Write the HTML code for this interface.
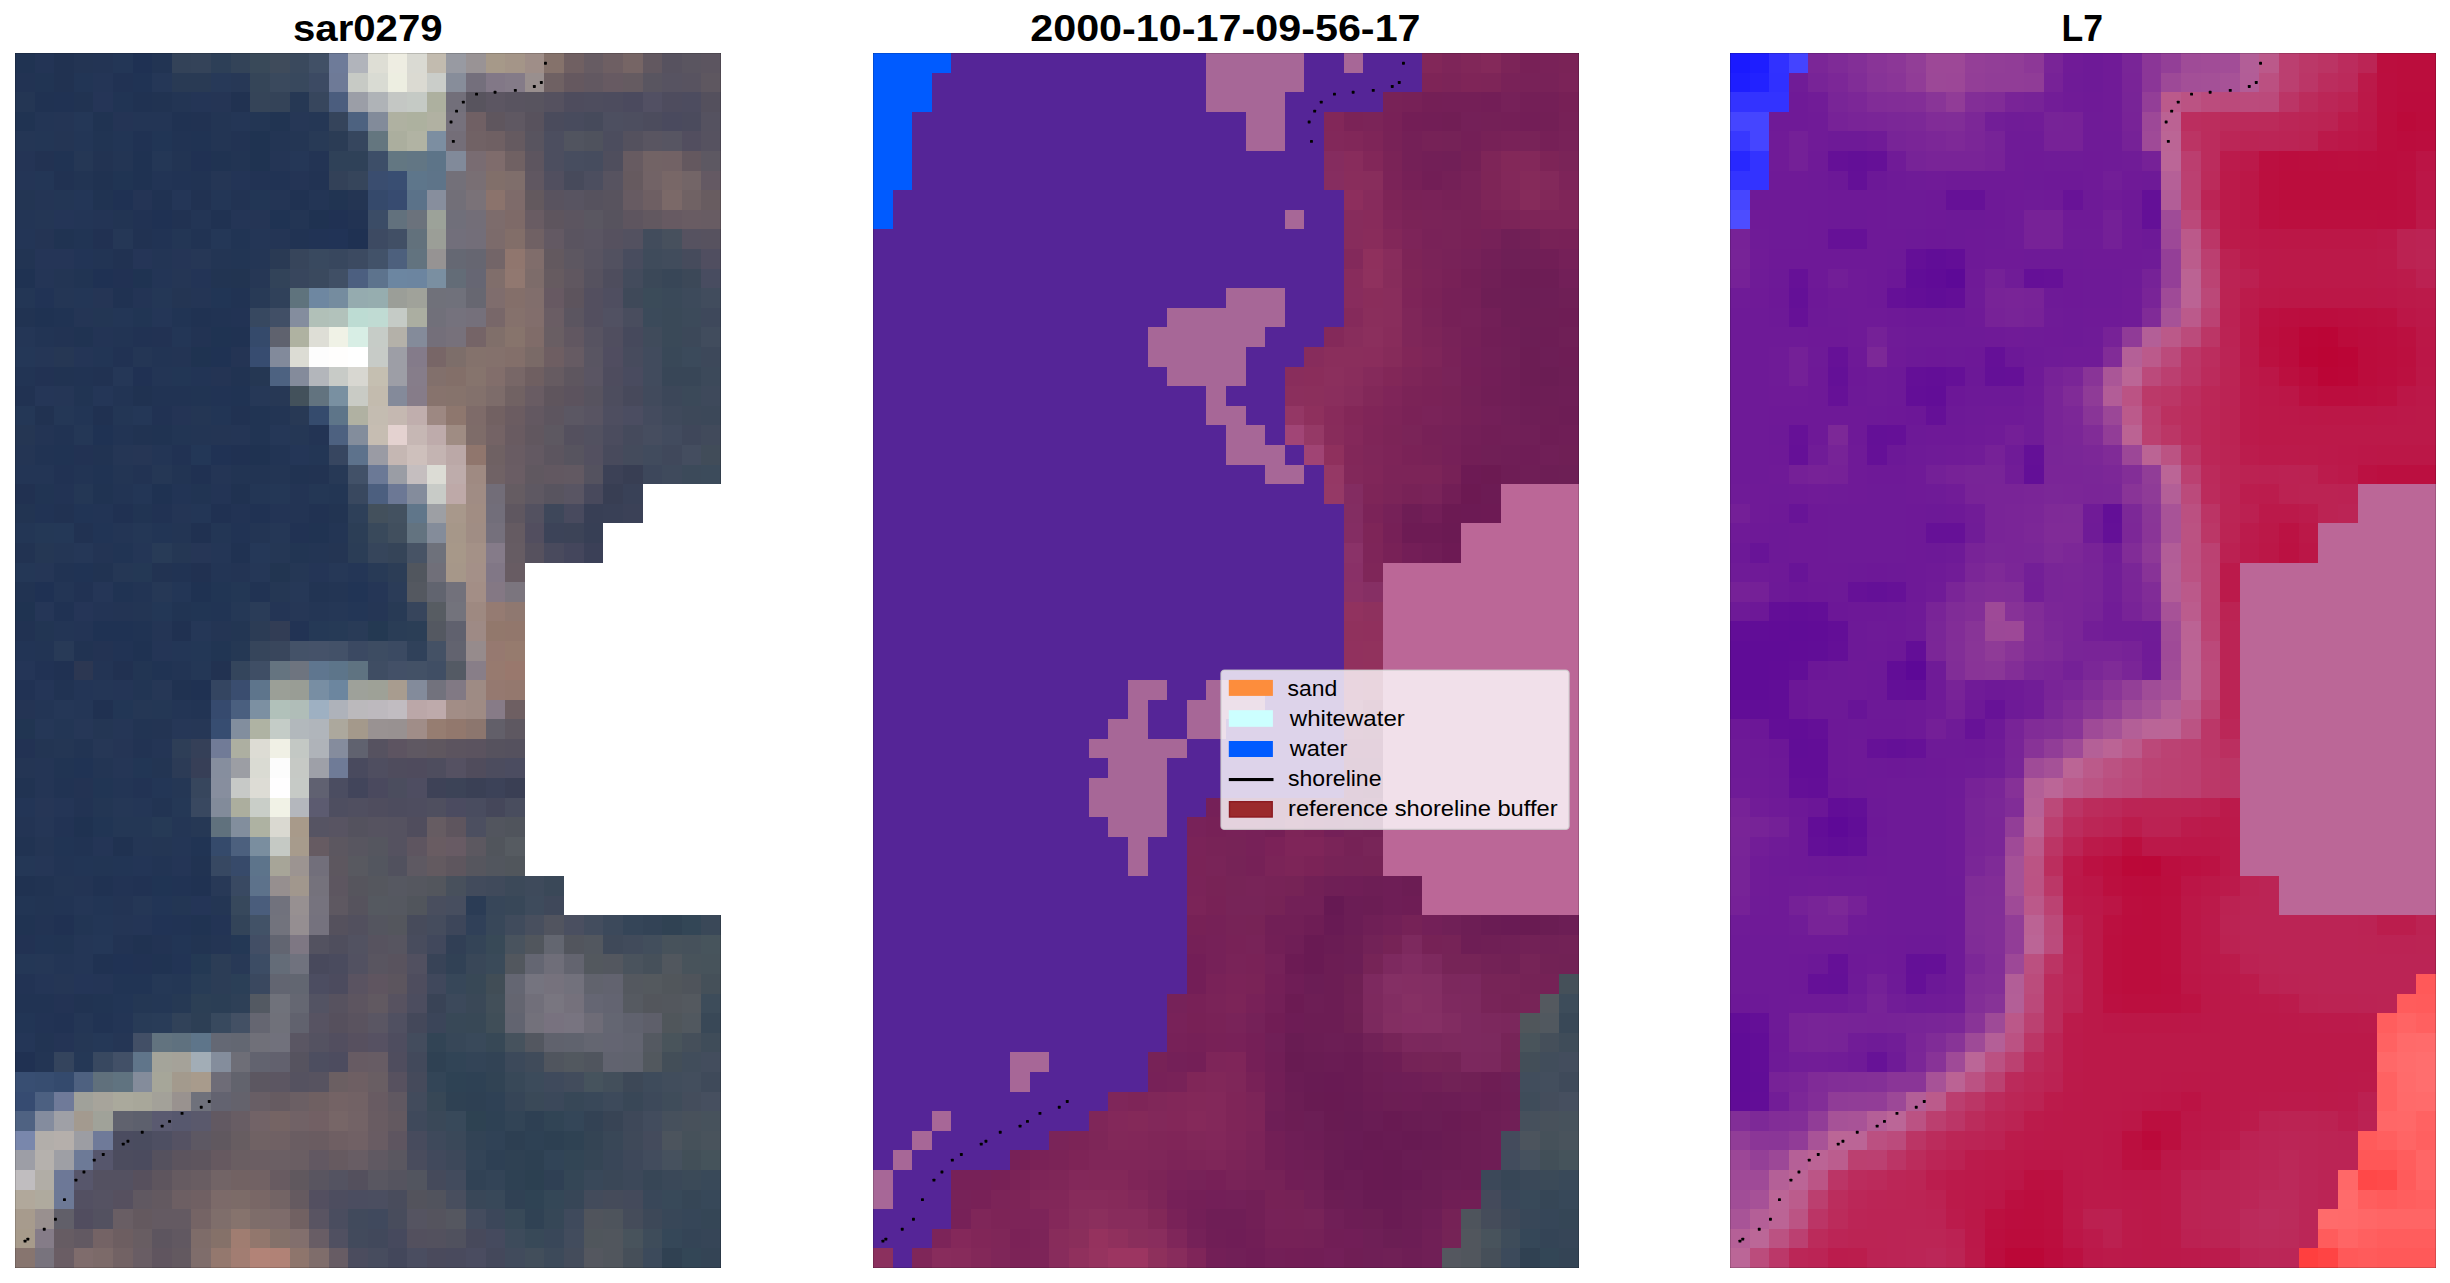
<!DOCTYPE html>
<html><head><meta charset="utf-8"><title>shoreline detection</title>
<style>html,body{margin:0;padding:0;background:#fff}svg{display:block}text{font-family:"Liberation Sans",sans-serif}</style></head>
<body>
<svg width="2450" height="1283" viewBox="0 0 2450 1283">
<rect width="2450" height="1283" fill="#fff"/>
<g transform="translate(15.0,53.0) scale(19.611,19.597)" shape-rendering="crispEdges">
<path fill="#203352" d="M0 0h1v1h-1zM0 3h1v1h-1zM4 3h1v1h-1zM10 5h1v1h-1zM4 7h1v1h-1zM2 9h1v1h-1zM3 14h1v1h-1zM7 19h1v1h-1zM4 22h1v1h-1zM15 24h1v1h-1zM0 44h1v1h-1zM9 44h1v1h-1zM7 46h1v1h-1z"/>
<path fill="#233455" d="M1 0h1v1h-1zM4 8h1v1h-1zM6 12h1v1h-1zM4 14h1v1h-1zM10 22h1v1h-1zM13 23h1v1h-1zM4 28h1v1h-1zM3 29h1v1h-1zM10 44h1v1h-1z"/>
<path fill="#213251" d="M2 0h1v1h-1zM2 1h1v1h-1zM11 2h1v1h-1zM1 18h1v1h-1z"/>
<path fill="#233453" d="M3 0h1v1h-1zM7 34h1v1h-1z"/>
<path fill="#233454" d="M4 0h1v1h-1zM15 5h1v1h-1zM8 15h1v1h-1zM1 19h1v1h-1zM15 19h1v1h-1zM14 22h1v1h-1zM14 23h1v1h-1zM4 25h1v1h-1zM11 26h1v1h-1zM5 28h1v1h-1zM4 31h1v1h-1zM0 39h1v1h-1zM3 42h1v1h-1zM5 43h1v1h-1z"/>
<path fill="#233656" d="M5 0h1v1h-1zM3 4h1v1h-1zM1 6h1v1h-1zM10 7h1v1h-1zM3 12h1v1h-1zM5 13h1v1h-1zM8 14h1v1h-1zM6 22h1v1h-1zM9 23h1v1h-1zM8 27h1v1h-1zM17 28h1v1h-1zM8 30h1v1h-1zM7 37h1v1h-1zM4 44h1v1h-1z"/>
<path fill="#1f3153" d="M6 0h1v1h-1zM5 7h1v1h-1zM7 8h1v1h-1zM4 11h1v1h-1zM1 27h1v1h-1z"/>
<path fill="#223453" d="M7 0h1v1h-1zM8 5h1v1h-1zM11 5h1v1h-1zM3 6h1v1h-1zM5 8h1v1h-1zM0 10h1v1h-1zM8 21h1v1h-1zM11 21h2v1h-2zM15 27h1v1h-1zM6 34h1v1h-1zM3 35h1v1h-1zM7 38h1v1h-1zM1 43h1v1h-1zM1 50h1v1h-1z"/>
<path fill="#334258" d="M8 0h1v1h-1z"/>
<path fill="#344359" d="M9 0h1v1h-1z"/>
<path fill="#2d3f57" d="M10 0h1v1h-1z"/>
<path fill="#334358" d="M11 0h1v1h-1z"/>
<path fill="#394959" d="M12 0h1v1h-1zM35 57h1v1h-1z"/>
<path fill="#3f4b5b" d="M13 0h1v1h-1zM32 10h1v1h-1z"/>
<path fill="#3a495d" d="M14 0h1v1h-1zM13 1h1v1h-1z"/>
<path fill="#415066" d="M15 0h1v1h-1z"/>
<path fill="#6e7b99" d="M16 0h1v1h-1z"/>
<path fill="#b1b4bb" d="M17 0h1v1h-1z"/>
<path fill="#deded5" d="M18 0h1v1h-1z"/>
<path fill="#eeede2" d="M19 0h1v1h-1z"/>
<path fill="#dadad3" d="M20 0h1v1h-1z"/>
<path fill="#c2bbaf" d="M21 0h1v1h-1z"/>
<path fill="#989aa2" d="M22 0h1v1h-1z"/>
<path fill="#999395" d="M23 0h1v1h-1z"/>
<path fill="#a69989" d="M24 0h1v1h-1z"/>
<path fill="#a49588" d="M25 0h1v1h-1z"/>
<path fill="#9f8e88" d="M26 0h1v1h-1z"/>
<path fill="#85726b" d="M27 0h1v1h-1z"/>
<path fill="#706062" d="M28 0h1v1h-1z"/>
<path fill="#675c63" d="M29 0h1v1h-1z"/>
<path fill="#6e5f63" d="M30 0h1v1h-1zM32 7h1v1h-1zM17 52h1v1h-1z"/>
<path fill="#766565" d="M31 0h1v1h-1z"/>
<path fill="#625860" d="M32 0h1v1h-1zM32 8h1v1h-1z"/>
<path fill="#57525f" d="M33 0h1v1h-1zM35 9h1v1h-1zM16 48h1v1h-1z"/>
<path fill="#5a5560" d="M34 0h1v1h-1z"/>
<path fill="#5c5560" d="M35 0h1v1h-1zM28 8h1v1h-1z"/>
<path fill="#223353" d="M0 1h1v1h-1zM11 4h1v1h-1zM15 6h1v1h-1zM11 7h1v1h-1zM17 8h1v1h-1zM2 14h1v1h-1zM9 14h1v1h-1zM6 21h1v1h-1zM6 35h1v1h-1zM3 38h1v1h-1zM1 44h1v1h-1zM5 45h1v1h-1zM7 45h1v1h-1z"/>
<path fill="#213453" d="M1 1h1v1h-1zM4 4h1v1h-1zM3 11h1v1h-1zM3 17h1v1h-1zM9 17h1v1h-1zM12 18h1v1h-1zM12 19h1v1h-1zM1 22h1v1h-1zM9 22h1v1h-1zM6 23h1v1h-1zM8 28h1v1h-1zM2 36h1v1h-1zM2 45h1v1h-1zM4 48h1v1h-1z"/>
<path fill="#223555" d="M3 1h1v1h-1zM5 4h1v1h-1zM4 15h1v1h-1zM3 18h1v1h-1zM10 18h1v1h-1zM7 24h1v1h-1zM3 41h1v1h-1zM5 41h1v1h-1zM4 43h1v1h-1zM8 45h1v1h-1zM5 48h1v1h-1zM0 49h1v1h-1z"/>
<path fill="#243556" d="M4 1h1v1h-1zM9 2h1v1h-1zM0 6h1v1h-1zM11 8h1v1h-1zM1 11h1v1h-1zM3 15h1v1h-1zM15 26h1v1h-1zM7 30h1v1h-1zM5 32h1v1h-1zM2 38h1v1h-1zM4 40h1v1h-1zM8 41h1v1h-1zM6 44h1v1h-1zM1 47h1v1h-1zM4 47h1v1h-1z"/>
<path fill="#213253" d="M5 1h1v1h-1zM6 8h1v1h-1zM6 14h1v1h-1zM5 15h1v1h-1zM7 18h1v1h-1zM8 20h1v1h-1zM2 21h1v1h-1zM7 23h1v1h-1zM14 24h1v1h-1zM3 27h1v1h-1zM6 42h1v1h-1zM6 46h1v1h-1zM2 49h1v1h-1z"/>
<path fill="#203354" d="M6 1h1v1h-1zM3 26h1v1h-1zM3 36h1v1h-1z"/>
<path fill="#253757" d="M7 1h1v1h-1zM14 5h1v1h-1zM5 16h1v1h-1zM13 19h1v1h-1zM3 25h1v1h-1zM12 26h1v1h-1zM9 29h1v1h-1zM2 33h1v1h-1zM1 34h1v1h-1z"/>
<path fill="#293a54" d="M8 1h2v1h-2z"/>
<path fill="#273958" d="M10 1h1v1h-1z"/>
<path fill="#273856" d="M11 1h1v1h-1z"/>
<path fill="#354558" d="M12 1h1v1h-1zM31 44h1v1h-1z"/>
<path fill="#38485d" d="M14 1h1v1h-1z"/>
<path fill="#3c4a63" d="M15 1h1v1h-1z"/>
<path fill="#6e7a97" d="M16 1h1v1h-1z"/>
<path fill="#c7cac5" d="M17 1h1v1h-1z"/>
<path fill="#d9dbd3" d="M18 1h1v1h-1z"/>
<path fill="#edeee1" d="M19 1h1v1h-1z"/>
<path fill="#dbdad2" d="M20 1h1v1h-1z"/>
<path fill="#cacdc9" d="M21 1h1v1h-1z"/>
<path fill="#878d9a" d="M22 1h1v1h-1z"/>
<path fill="#746f7c" d="M23 1h1v1h-1z"/>
<path fill="#827887" d="M24 1h1v1h-1z"/>
<path fill="#847b88" d="M25 1h1v1h-1z"/>
<path fill="#998f8e" d="M26 1h1v1h-1z"/>
<path fill="#6f6163" d="M27 1h1v1h-1zM24 20h1v1h-1z"/>
<path fill="#65585f" d="M28 1h1v1h-1z"/>
<path fill="#625861" d="M29 1h1v1h-1zM27 21h1v1h-1z"/>
<path fill="#675a62" d="M30 1h1v1h-1zM33 8h1v1h-1z"/>
<path fill="#655b61" d="M31 1h1v1h-1z"/>
<path fill="#595560" d="M32 1h1v1h-1zM18 46h1v1h-1zM15 57h1v1h-1z"/>
<path fill="#575361" d="M33 1h1v1h-1zM29 14h1v1h-1z"/>
<path fill="#585360" d="M34 1h1v1h-1z"/>
<path fill="#5e5760" d="M35 1h1v1h-1z"/>
<path fill="#243654" d="M0 2h1v1h-1zM14 4h1v1h-1zM9 18h1v1h-1zM4 34h1v1h-1zM2 35h1v1h-1zM7 40h1v1h-1zM10 43h1v1h-1z"/>
<path fill="#203252" d="M1 2h1v1h-1zM6 2h1v1h-1zM8 3h1v1h-1zM7 7h1v1h-1zM14 7h1v1h-1zM10 8h1v1h-1zM5 12h1v1h-1zM9 13h1v1h-1zM11 14h1v1h-1zM11 25h1v1h-1zM4 42h1v1h-1zM9 42h1v1h-1zM4 46h1v1h-1z"/>
<path fill="#203253" d="M2 2h1v1h-1zM6 4h1v1h-1zM12 23h1v1h-1zM2 28h1v1h-1z"/>
<path fill="#213352" d="M3 2h1v1h-1zM7 2h1v1h-1zM0 13h1v1h-1zM2 16h1v1h-1zM11 16h1v1h-1zM6 19h1v1h-1zM4 20h1v1h-1zM14 21h1v1h-1zM4 26h1v1h-1zM0 27h1v1h-1zM3 30h1v1h-1zM0 37h1v1h-1zM0 40h1v1h-1zM9 41h1v1h-1zM1 42h1v1h-1zM3 48h1v1h-1z"/>
<path fill="#253557" d="M4 2h1v1h-1zM1 10h2v1h-2zM6 10h1v1h-1zM3 28h1v1h-1z"/>
<path fill="#213454" d="M5 2h1v1h-1zM3 9h1v1h-1zM11 9h1v1h-1zM8 13h1v1h-1zM5 25h1v1h-1zM10 28h1v1h-1zM2 40h1v1h-1zM9 40h1v1h-1zM1 45h1v1h-1zM5 47h2v1h-2z"/>
<path fill="#233554" d="M8 2h1v1h-1zM10 3h1v1h-1zM10 4h1v1h-1zM13 4h1v1h-1zM5 5h1v1h-1zM14 8h1v1h-1zM10 10h1v1h-1zM2 11h1v1h-1zM13 18h1v1h-1zM9 19h1v1h-1zM5 21h1v1h-1zM13 21h1v1h-1zM8 24h1v1h-1zM12 24h1v1h-1zM16 24h1v1h-1zM15 25h1v1h-1zM16 27h1v1h-1zM6 28h1v1h-1zM4 36h1v1h-1zM2 42h1v1h-1zM1 51h1v1h-1z"/>
<path fill="#253555" d="M10 2h1v1h-1zM12 8h1v1h-1zM4 12h1v1h-1zM5 35h1v1h-1z"/>
<path fill="#354458" d="M12 2h1v1h-1zM19 25h1v1h-1z"/>
<path fill="#344358" d="M13 2h1v1h-1z"/>
<path fill="#263854" d="M14 2h1v1h-1z"/>
<path fill="#37465d" d="M15 2h1v1h-1zM9 37h1v1h-1z"/>
<path fill="#4b5d7e" d="M16 2h1v1h-1z"/>
<path fill="#9b9ea7" d="M17 2h1v1h-1z"/>
<path fill="#afb3b7" d="M18 2h1v1h-1z"/>
<path fill="#c4c7c4" d="M19 2h1v1h-1z"/>
<path fill="#c5cac5" d="M20 2h1v1h-1z"/>
<path fill="#adb09f" d="M21 2h1v1h-1z"/>
<path fill="#726f7a" d="M22 2h1v1h-1z"/>
<path fill="#58545e" d="M23 2h1v1h-1z"/>
<path fill="#5c5662" d="M24 2h1v1h-1zM13 52h1v1h-1z"/>
<path fill="#595460" d="M25 2h1v1h-1z"/>
<path fill="#58545f" d="M26 2h1v1h-1zM26 4h1v1h-1zM27 22h1v1h-1z"/>
<path fill="#55515f" d="M27 2h1v1h-1z"/>
<path fill="#4e4c5d" d="M28 2h1v1h-1z"/>
<path fill="#4e4d5e" d="M29 2h1v1h-1zM21 36h1v1h-1zM20 47h1v1h-1z"/>
<path fill="#4d4c5e" d="M30 2h1v1h-1zM19 38h1v1h-1z"/>
<path fill="#4b4a5e" d="M31 2h1v1h-1z"/>
<path fill="#525063" d="M32 2h1v1h-1z"/>
<path fill="#4e4c5e" d="M33 2h1v1h-1zM30 16h1v1h-1z"/>
<path fill="#4d4c5f" d="M34 2h1v1h-1zM16 51h1v1h-1z"/>
<path fill="#54505d" d="M35 2h1v1h-1zM17 57h1v1h-1z"/>
<path fill="#233555" d="M1 3h1v1h-1zM6 3h2v1h-2zM15 7h1v1h-1zM0 8h1v1h-1zM9 8h1v1h-1zM7 10h1v1h-1zM7 16h1v1h-1zM7 20h1v1h-1zM0 21h2v1h-2zM5 24h1v1h-1zM10 26h1v1h-1zM2 27h1v1h-1zM2 29h1v1h-1zM1 33h1v1h-1zM8 33h1v1h-1zM5 37h1v1h-1zM2 46h1v1h-1zM5 49h1v1h-1z"/>
<path fill="#243555" d="M2 3h1v1h-1zM13 5h1v1h-1zM1 7h1v1h-1zM13 7h1v1h-1zM13 9h1v1h-1zM9 12h1v1h-1zM3 13h1v1h-1zM11 19h1v1h-1zM10 21h1v1h-1zM8 23h1v1h-1zM13 28h1v1h-1zM7 29h1v1h-1zM7 35h1v1h-1zM1 36h1v1h-1zM1 37h1v1h-1zM5 44h1v1h-1z"/>
<path fill="#243757" d="M3 3h1v1h-1zM10 9h1v1h-1zM0 15h1v1h-1zM6 18h1v1h-1zM4 45h1v1h-1z"/>
<path fill="#243455" d="M5 3h1v1h-1zM0 5h1v1h-1zM14 6h1v1h-1zM6 7h1v1h-1zM8 18h1v1h-1zM2 50h1v1h-1z"/>
<path fill="#213252" d="M9 3h1v1h-1zM2 6h1v1h-1zM9 7h1v1h-1zM8 8h1v1h-1zM6 9h1v1h-1zM5 10h1v1h-1zM4 16h1v1h-1zM0 17h1v1h-1zM11 18h1v1h-1zM2 23h1v1h-1zM15 23h1v1h-1zM3 24h1v1h-1zM0 29h1v1h-1z"/>
<path fill="#243656" d="M11 3h1v1h-1zM12 9h1v1h-1zM0 14h1v1h-1zM6 25h1v1h-1zM10 25h1v1h-1zM17 26h1v1h-1zM4 32h1v1h-1zM3 33h1v1h-1zM6 38h1v1h-1zM8 40h1v1h-1zM3 43h1v1h-1zM3 45h1v1h-1zM3 46h1v1h-1z"/>
<path fill="#233654" d="M12 3h1v1h-1zM4 13h1v1h-1zM16 22h1v1h-1zM4 38h1v1h-1zM8 43h1v1h-1z"/>
<path fill="#213452" d="M13 3h1v1h-1zM16 7h1v1h-1z"/>
<path fill="#263756" d="M14 3h1v1h-1zM9 10h1v1h-1zM14 28h1v1h-1zM7 32h1v1h-1zM9 34h1v1h-1zM4 35h1v1h-1z"/>
<path fill="#253755" d="M15 3h1v1h-1zM3 5h1v1h-1zM14 19h1v1h-1zM7 21h1v1h-1zM13 25h1v1h-1zM5 26h1v1h-1zM14 26h1v1h-1zM6 33h1v1h-1zM8 37h1v1h-1zM3 50h1v1h-1z"/>
<path fill="#35445b" d="M16 3h1v1h-1z"/>
<path fill="#4d6280" d="M17 3h1v1h-1z"/>
<path fill="#828b9a" d="M18 3h1v1h-1zM10 38h1v1h-1z"/>
<path fill="#afb1a1" d="M19 3h1v1h-1z"/>
<path fill="#adb19f" d="M20 3h1v1h-1z"/>
<path fill="#b1b1a2" d="M21 3h1v1h-1z"/>
<path fill="#76717c" d="M22 3h1v1h-1z"/>
<path fill="#706064" d="M23 3h1v1h-1z"/>
<path fill="#5f565e" d="M24 3h1v1h-1z"/>
<path fill="#5f5862" d="M25 3h1v1h-1zM20 35h1v1h-1z"/>
<path fill="#58525d" d="M26 3h1v1h-1z"/>
<path fill="#4a4b5c" d="M27 3h1v1h-1z"/>
<path fill="#484b5d" d="M28 3h1v1h-1z"/>
<path fill="#464a5b" d="M29 3h1v1h-1z"/>
<path fill="#4d4f60" d="M30 3h1v1h-1z"/>
<path fill="#4d4e5f" d="M31 3h1v1h-1z"/>
<path fill="#4c4c5d" d="M32 3h1v1h-1z"/>
<path fill="#4a4a5e" d="M33 3h1v1h-1z"/>
<path fill="#4b4b5d" d="M34 3h1v1h-1z"/>
<path fill="#555260" d="M35 3h1v1h-1zM19 39h1v1h-1zM19 40h1v1h-1zM14 52h1v1h-1z"/>
<path fill="#243655" d="M0 4h1v1h-1zM1 8h1v1h-1zM12 10h1v1h-1zM2 12h1v1h-1zM6 15h1v1h-1zM2 25h1v1h-1zM15 28h1v1h-1zM8 39h1v1h-1zM6 40h1v1h-1zM3 49h1v1h-1z"/>
<path fill="#233655" d="M1 4h1v1h-1zM2 7h1v1h-1zM8 9h1v1h-1zM0 12h1v1h-1zM5 18h1v1h-1zM15 20h1v1h-1zM12 22h1v1h-1zM0 24h1v1h-1zM10 24h1v1h-1zM2 34h1v1h-1z"/>
<path fill="#243554" d="M2 4h1v1h-1zM10 19h1v1h-1zM0 20h1v1h-1zM10 29h1v1h-1zM0 36h1v1h-1zM1 40h1v1h-1zM10 45h1v1h-1z"/>
<path fill="#213555" d="M7 4h1v1h-1zM10 12h1v1h-1z"/>
<path fill="#213353" d="M8 4h1v1h-1zM9 6h1v1h-1zM9 9h1v1h-1zM14 9h1v1h-1zM11 12h1v1h-1zM10 13h1v1h-1zM3 16h1v1h-1zM7 17h2v1h-2zM2 19h1v1h-1zM1 20h1v1h-1zM2 26h1v1h-1zM8 26h1v1h-1zM12 27h1v1h-1zM2 32h1v1h-1zM2 37h1v1h-1zM3 40h1v1h-1zM0 48h2v1h-2zM4 49h1v1h-1z"/>
<path fill="#203353" d="M9 4h1v1h-1zM2 5h1v1h-1zM2 13h1v1h-1zM11 17h1v1h-1zM2 20h1v1h-1zM4 21h1v1h-1zM5 27h1v1h-1zM6 29h1v1h-1zM7 31h1v1h-1z"/>
<path fill="#1f3351" d="M12 4h1v1h-1zM12 5h1v1h-1zM9 15h1v1h-1zM0 28h1v1h-1z"/>
<path fill="#283a56" d="M15 4h1v1h-1zM12 12h1v1h-1zM18 26h1v1h-1z"/>
<path fill="#2b3c55" d="M16 4h1v1h-1zM23 43h1v1h-1z"/>
<path fill="#36465e" d="M17 4h1v1h-1z"/>
<path fill="#64767f" d="M18 4h1v1h-1z"/>
<path fill="#abae9e" d="M19 4h1v1h-1z"/>
<path fill="#b1b3a3" d="M20 4h1v1h-1z"/>
<path fill="#7c8ea1" d="M21 4h1v1h-1z"/>
<path fill="#746e78" d="M22 4h1v1h-1z"/>
<path fill="#716265" d="M23 4h1v1h-1z"/>
<path fill="#6f6063" d="M24 4h1v1h-1z"/>
<path fill="#655a60" d="M25 4h1v1h-1zM14 58h1v1h-1z"/>
<path fill="#4c4e5f" d="M27 4h1v1h-1zM27 5h1v1h-1zM29 6h1v1h-1z"/>
<path fill="#51545f" d="M28 4h1v1h-1zM27 44h1v1h-1z"/>
<path fill="#4f525d" d="M29 4h1v1h-1z"/>
<path fill="#4c4d5e" d="M30 4h1v1h-1z"/>
<path fill="#54515e" d="M31 4h1v1h-1z"/>
<path fill="#595561" d="M32 4h1v1h-1z"/>
<path fill="#575562" d="M33 4h1v1h-1z"/>
<path fill="#524e5f" d="M34 4h1v1h-1zM26 24h1v1h-1zM16 50h1v1h-1z"/>
<path fill="#565260" d="M35 4h1v1h-1zM34 9h1v1h-1zM18 35h1v1h-1z"/>
<path fill="#223252" d="M1 5h1v1h-1z"/>
<path fill="#223352" d="M4 5h1v1h-1zM15 21h1v1h-1zM0 25h1v1h-1zM7 26h1v1h-1z"/>
<path fill="#1f3252" d="M6 5h1v1h-1zM6 6h1v1h-1zM0 11h1v1h-1zM1 13h1v1h-1zM7 22h1v1h-1zM9 27h1v1h-1zM6 30h1v1h-1z"/>
<path fill="#243756" d="M7 5h1v1h-1zM7 12h1v1h-1zM0 18h1v1h-1zM2 18h1v1h-1zM3 19h1v1h-1zM13 22h1v1h-1zM6 24h1v1h-1zM0 26h1v1h-1zM9 31h1v1h-1zM0 41h1v1h-1zM0 46h1v1h-1z"/>
<path fill="#203153" d="M9 5h1v1h-1zM16 8h1v1h-1zM6 16h1v1h-1z"/>
<path fill="#2f4158" d="M16 5h2v1h-2z"/>
<path fill="#3d4e68" d="M18 5h1v1h-1z"/>
<path fill="#637782" d="M19 5h1v1h-1z"/>
<path fill="#627684" d="M20 5h1v1h-1z"/>
<path fill="#5d7488" d="M21 5h1v1h-1z"/>
<path fill="#818a9a" d="M22 5h1v1h-1z"/>
<path fill="#796c72" d="M23 5h1v1h-1z"/>
<path fill="#7f6c6c" d="M24 5h1v1h-1zM3 61h1v1h-1z"/>
<path fill="#706163" d="M25 5h1v1h-1z"/>
<path fill="#5d555f" d="M26 5h1v1h-1zM27 18h1v1h-1zM7 60h1v1h-1z"/>
<path fill="#474d5f" d="M28 5h1v1h-1z"/>
<path fill="#464c5e" d="M29 5h1v1h-1z"/>
<path fill="#4f4e5d" d="M30 5h1v1h-1zM16 45h1v1h-1z"/>
<path fill="#675b61" d="M31 5h1v1h-1z"/>
<path fill="#726365" d="M32 5h1v1h-1z"/>
<path fill="#726265" d="M33 5h1v1h-1zM17 53h1v1h-1z"/>
<path fill="#64585f" d="M34 5h1v1h-1z"/>
<path fill="#5d5862" d="M35 5h1v1h-1z"/>
<path fill="#203251" d="M4 6h1v1h-1zM6 17h1v1h-1zM11 22h1v1h-1zM8 32h1v1h-1zM5 40h1v1h-1zM0 42h1v1h-1zM6 45h1v1h-1z"/>
<path fill="#203453" d="M5 6h1v1h-1z"/>
<path fill="#223455" d="M7 6h1v1h-1zM9 16h1v1h-1zM8 22h1v1h-1zM4 23h1v1h-1zM0 30h1v1h-1zM8 46h1v1h-1z"/>
<path fill="#213354" d="M8 6h1v1h-1zM13 6h1v1h-1zM7 9h1v1h-1zM10 17h1v1h-1zM1 23h1v1h-1zM11 24h1v1h-1zM5 30h1v1h-1zM8 42h1v1h-1zM8 44h1v1h-1z"/>
<path fill="#253655" d="M10 6h1v1h-1zM8 11h1v1h-1zM5 20h1v1h-1zM18 28h1v1h-1zM2 47h1v1h-1zM5 50h1v1h-1z"/>
<path fill="#233456" d="M11 6h1v1h-1zM9 11h1v1h-1z"/>
<path fill="#223354" d="M12 6h1v1h-1zM11 13h1v1h-1zM2 22h1v1h-1zM11 23h1v1h-1zM14 29h1v1h-1zM6 37h1v1h-1zM2 39h1v1h-1zM5 42h1v1h-1zM0 47h1v1h-1zM1 49h1v1h-1z"/>
<path fill="#334158" d="M16 6h1v1h-1z"/>
<path fill="#36455b" d="M17 6h1v1h-1zM18 25h1v1h-1zM12 30h1v1h-1z"/>
<path fill="#3a4d6f" d="M18 6h1v1h-1zM11 32h1v1h-1z"/>
<path fill="#394e72" d="M19 6h1v1h-1z"/>
<path fill="#5e768b" d="M20 6h1v1h-1z"/>
<path fill="#5e7489" d="M21 6h1v1h-1z"/>
<path fill="#737079" d="M22 6h1v1h-1z"/>
<path fill="#796f74" d="M23 6h1v1h-1z"/>
<path fill="#816f6a" d="M24 6h1v1h-1z"/>
<path fill="#7f6e6b" d="M25 6h1v1h-1zM10 59h1v1h-1z"/>
<path fill="#605761" d="M26 6h1v1h-1z"/>
<path fill="#514f5f" d="M27 6h1v1h-1z"/>
<path fill="#474a5b" d="M28 6h1v1h-1z"/>
<path fill="#575360" d="M30 6h1v1h-1zM15 52h1v1h-1z"/>
<path fill="#665a5f" d="M31 6h1v1h-1z"/>
<path fill="#726366" d="M32 6h1v1h-1z"/>
<path fill="#786767" d="M33 6h1v1h-1zM25 16h1v1h-1z"/>
<path fill="#736567" d="M34 6h1v1h-1z"/>
<path fill="#645963" d="M35 6h1v1h-1z"/>
<path fill="#233553" d="M0 7h1v1h-1zM1 35h1v1h-1zM7 36h1v1h-1z"/>
<path fill="#233657" d="M3 7h1v1h-1z"/>
<path fill="#243657" d="M8 7h1v1h-1zM7 13h1v1h-1zM4 17h1v1h-1zM14 20h1v1h-1zM0 50h1v1h-1z"/>
<path fill="#223655" d="M12 7h1v1h-1zM8 16h1v1h-1zM5 33h1v1h-1zM6 36h1v1h-1z"/>
<path fill="#243553" d="M17 7h1v1h-1zM8 12h1v1h-1zM16 25h1v1h-1z"/>
<path fill="#35496b" d="M18 7h1v1h-1z"/>
<path fill="#374b70" d="M19 7h1v1h-1z"/>
<path fill="#5b7289" d="M20 7h1v1h-1z"/>
<path fill="#878e9d" d="M21 7h1v1h-1z"/>
<path fill="#726f78" d="M22 7h1v1h-1z"/>
<path fill="#7a7278" d="M23 7h1v1h-1z"/>
<path fill="#8b736c" d="M24 7h1v1h-1z"/>
<path fill="#7e6b6a" d="M25 7h1v1h-1z"/>
<path fill="#63595e" d="M26 7h1v1h-1z"/>
<path fill="#59535f" d="M27 7h1v1h-1z"/>
<path fill="#585461" d="M28 7h1v1h-1zM29 10h1v1h-1z"/>
<path fill="#56525e" d="M29 7h1v1h-1zM24 35h1v1h-1z"/>
<path fill="#58535e" d="M30 7h1v1h-1z"/>
<path fill="#675b62" d="M31 7h1v1h-1z"/>
<path fill="#7b6968" d="M33 7h1v1h-1z"/>
<path fill="#706264" d="M34 7h1v1h-1zM12 55h1v1h-1z"/>
<path fill="#685c60" d="M35 7h1v1h-1z"/>
<path fill="#243557" d="M2 8h1v1h-1zM0 31h1v1h-1zM1 32h1v1h-1zM9 43h1v1h-1zM3 47h1v1h-1z"/>
<path fill="#233556" d="M3 8h1v1h-1zM0 9h1v1h-1zM7 11h1v1h-1zM3 32h1v1h-1zM0 38h1v1h-1zM6 41h1v1h-1z"/>
<path fill="#1f3353" d="M13 8h1v1h-1z"/>
<path fill="#1f3251" d="M15 8h1v1h-1zM12 20h1v1h-1zM3 39h1v1h-1z"/>
<path fill="#3b4c66" d="M18 8h1v1h-1z"/>
<path fill="#62717d" d="M19 8h1v1h-1z"/>
<path fill="#6b727c" d="M20 8h1v1h-1z"/>
<path fill="#9ca299" d="M21 8h1v1h-1z"/>
<path fill="#706f7a" d="M22 8h1v1h-1z"/>
<path fill="#736e78" d="M23 8h1v1h-1z"/>
<path fill="#7d6c6c" d="M24 8h1v1h-1z"/>
<path fill="#7e6a68" d="M25 8h1v1h-1z"/>
<path fill="#695c63" d="M26 8h1v1h-1zM34 8h1v1h-1zM26 17h1v1h-1zM25 20h1v1h-1zM18 55h1v1h-1z"/>
<path fill="#5e555e" d="M27 8h1v1h-1zM22 39h1v1h-1zM9 56h1v1h-1zM7 57h1v1h-1z"/>
<path fill="#5a5761" d="M29 8h1v1h-1z"/>
<path fill="#57535e" d="M30 8h1v1h-1z"/>
<path fill="#5e555f" d="M31 8h1v1h-1z"/>
<path fill="#685c63" d="M35 8h1v1h-1zM25 26h1v1h-1z"/>
<path fill="#243454" d="M1 9h1v1h-1zM11 15h1v1h-1zM10 16h1v1h-1zM0 33h1v1h-1z"/>
<path fill="#213152" d="M4 9h1v1h-1z"/>
<path fill="#253756" d="M5 9h1v1h-1zM13 24h1v1h-1zM16 28h1v1h-1zM5 38h1v1h-1zM6 43h1v1h-1zM1 46h1v1h-1z"/>
<path fill="#213355" d="M15 9h1v1h-1zM1 12h1v1h-1zM7 44h1v1h-1z"/>
<path fill="#213356" d="M16 9h1v1h-1z"/>
<path fill="#1f3152" d="M17 9h1v1h-1zM9 32h1v1h-1z"/>
<path fill="#3d4a62" d="M18 9h1v1h-1z"/>
<path fill="#414f65" d="M19 9h1v1h-1z"/>
<path fill="#62717c" d="M20 9h1v1h-1z"/>
<path fill="#9b9e97" d="M21 9h1v1h-1z"/>
<path fill="#726f7b" d="M22 9h1v1h-1zM15 41h1v1h-1z"/>
<path fill="#736e79" d="M23 9h1v1h-1z"/>
<path fill="#7c6b6b" d="M24 9h1v1h-1z"/>
<path fill="#826e69" d="M25 9h1v1h-1z"/>
<path fill="#706164" d="M26 9h1v1h-1zM13 55h1v1h-1z"/>
<path fill="#635963" d="M27 9h1v1h-1z"/>
<path fill="#5a5460" d="M28 9h1v1h-1z"/>
<path fill="#5a5562" d="M29 9h1v1h-1z"/>
<path fill="#56515f" d="M30 9h1v1h-1z"/>
<path fill="#535160" d="M31 9h1v1h-1zM26 23h1v1h-1zM4 59h1v1h-1z"/>
<path fill="#424c5c" d="M32 9h1v1h-1zM28 52h1v1h-1z"/>
<path fill="#47505d" d="M33 9h1v1h-1z"/>
<path fill="#223456" d="M3 10h1v1h-1z"/>
<path fill="#223454" d="M4 10h1v1h-1zM1 14h1v1h-1zM5 14h1v1h-1zM7 15h1v1h-1zM0 16h1v1h-1zM5 17h1v1h-1zM5 19h1v1h-1zM13 20h1v1h-1zM3 21h1v1h-1zM5 22h1v1h-1zM6 27h1v1h-1zM1 30h1v1h-1zM8 31h1v1h-1zM9 33h1v1h-1zM2 41h1v1h-1zM7 41h1v1h-1zM2 43h1v1h-1z"/>
<path fill="#253556" d="M8 10h1v1h-1z"/>
<path fill="#223554" d="M11 10h1v1h-1zM8 19h1v1h-1zM6 32h1v1h-1zM4 41h1v1h-1zM0 43h1v1h-1zM3 44h1v1h-1z"/>
<path fill="#2a3a54" d="M13 10h1v1h-1z"/>
<path fill="#37455b" d="M14 10h1v1h-1z"/>
<path fill="#39495f" d="M15 10h1v1h-1z"/>
<path fill="#38475e" d="M16 10h1v1h-1z"/>
<path fill="#3c4a61" d="M17 10h1v1h-1z"/>
<path fill="#425269" d="M18 10h1v1h-1z"/>
<path fill="#4d607d" d="M19 10h1v1h-1z"/>
<path fill="#62737f" d="M20 10h1v1h-1zM15 17h1v1h-1zM7 50h1v1h-1z"/>
<path fill="#969393" d="M21 10h1v1h-1z"/>
<path fill="#656873" d="M22 10h1v1h-1z"/>
<path fill="#666671" d="M23 10h1v1h-1z"/>
<path fill="#736568" d="M24 10h1v1h-1z"/>
<path fill="#90766e" d="M25 10h1v1h-1z"/>
<path fill="#806d6b" d="M26 10h1v1h-1z"/>
<path fill="#63595f" d="M27 10h1v1h-1z"/>
<path fill="#5d5761" d="M28 10h1v1h-1z"/>
<path fill="#525160" d="M30 10h1v1h-1zM29 19h1v1h-1z"/>
<path fill="#484c5e" d="M31 10h1v1h-1z"/>
<path fill="#414c5c" d="M33 10h1v1h-1z"/>
<path fill="#464b5c" d="M34 10h1v1h-1z"/>
<path fill="#504e60" d="M35 10h1v1h-1z"/>
<path fill="#213153" d="M5 11h1v1h-1z"/>
<path fill="#1f3352" d="M6 11h1v1h-1zM10 14h1v1h-1z"/>
<path fill="#223452" d="M10 11h1v1h-1zM0 23h1v1h-1zM16 23h1v1h-1zM9 45h1v1h-1z"/>
<path fill="#223451" d="M11 11h1v1h-1z"/>
<path fill="#263755" d="M12 11h1v1h-1z"/>
<path fill="#324359" d="M13 11h1v1h-1z"/>
<path fill="#38465d" d="M14 11h1v1h-1z"/>
<path fill="#3a495e" d="M15 11h1v1h-1z"/>
<path fill="#404f65" d="M16 11h1v1h-1z"/>
<path fill="#4c5f80" d="M17 11h1v1h-1z"/>
<path fill="#5d738d" d="M18 11h1v1h-1z"/>
<path fill="#6c86a1" d="M19 11h1v1h-1z"/>
<path fill="#6c85a0" d="M20 11h1v1h-1z"/>
<path fill="#7a8fa1" d="M21 11h1v1h-1z"/>
<path fill="#636c77" d="M22 11h1v1h-1z"/>
<path fill="#666673" d="M23 11h1v1h-1z"/>
<path fill="#806e6b" d="M24 11h1v1h-1z"/>
<path fill="#917870" d="M25 11h1v1h-1z"/>
<path fill="#7d6c6a" d="M26 11h1v1h-1zM24 17h1v1h-1z"/>
<path fill="#665b60" d="M27 11h1v1h-1z"/>
<path fill="#605760" d="M28 11h1v1h-1z"/>
<path fill="#56525f" d="M29 11h1v1h-1z"/>
<path fill="#4e4d5d" d="M30 11h1v1h-1z"/>
<path fill="#434b5c" d="M31 11h1v1h-1z"/>
<path fill="#3b4858" d="M32 11h1v1h-1z"/>
<path fill="#384657" d="M33 11h1v1h-1zM33 16h2v1h-2z"/>
<path fill="#3c4858" d="M34 11h1v1h-1z"/>
<path fill="#484c60" d="M35 11h1v1h-1z"/>
<path fill="#30415a" d="M13 12h1v1h-1zM20 30h1v1h-1z"/>
<path fill="#5f737d" d="M14 12h1v1h-1z"/>
<path fill="#6e87a1" d="M15 12h1v1h-1z"/>
<path fill="#758c9f" d="M16 12h1v1h-1z"/>
<path fill="#95abaf" d="M17 12h1v1h-1z"/>
<path fill="#96adaf" d="M18 12h1v1h-1z"/>
<path fill="#9b9e98" d="M19 12h1v1h-1z"/>
<path fill="#a0a29a" d="M20 12h1v1h-1z"/>
<path fill="#70717a" d="M21 12h1v1h-1zM13 49h1v1h-1z"/>
<path fill="#70717b" d="M22 12h1v1h-1z"/>
<path fill="#676771" d="M23 12h1v1h-1z"/>
<path fill="#7f6d6d" d="M24 12h1v1h-1z"/>
<path fill="#846f6a" d="M25 12h1v1h-1z"/>
<path fill="#816e6c" d="M26 12h1v1h-1z"/>
<path fill="#675962" d="M27 12h1v1h-1z"/>
<path fill="#5d545d" d="M28 12h1v1h-1z"/>
<path fill="#534f5f" d="M29 12h1v1h-1zM29 13h1v1h-1z"/>
<path fill="#4f4e60" d="M30 12h1v1h-1zM18 36h1v1h-1z"/>
<path fill="#3f4959" d="M31 12h1v1h-1zM30 45h1v1h-1zM31 55h1v1h-1z"/>
<path fill="#3b4b59" d="M32 12h1v1h-1z"/>
<path fill="#3a4959" d="M33 12h1v1h-1z"/>
<path fill="#3d4a5b" d="M34 12h1v1h-1zM30 53h1v1h-1z"/>
<path fill="#414c5d" d="M35 12h1v1h-1zM35 14h1v1h-1z"/>
<path fill="#213554" d="M6 13h1v1h-1zM10 27h1v1h-1zM9 28h1v1h-1zM4 37h1v1h-1zM4 39h1v1h-1z"/>
<path fill="#374860" d="M12 13h1v1h-1z"/>
<path fill="#414f66" d="M13 13h1v1h-1z"/>
<path fill="#848d9e" d="M14 13h1v1h-1z"/>
<path fill="#b1c0b8" d="M15 13h1v1h-1z"/>
<path fill="#b2c2bb" d="M16 13h1v1h-1z"/>
<path fill="#bddcd3" d="M17 13h1v1h-1z"/>
<path fill="#c0dbd3" d="M18 13h1v1h-1z"/>
<path fill="#c5cbc6" d="M19 13h1v1h-1z"/>
<path fill="#abaea1" d="M20 13h1v1h-1z"/>
<path fill="#71707a" d="M21 13h1v1h-1z"/>
<path fill="#75727d" d="M22 13h1v1h-1z"/>
<path fill="#75707b" d="M23 13h1v1h-1z"/>
<path fill="#786769" d="M24 13h1v1h-1z"/>
<path fill="#85716c" d="M25 13h1v1h-1z"/>
<path fill="#826e6c" d="M26 13h1v1h-1z"/>
<path fill="#6a5d64" d="M27 13h1v1h-1zM25 21h1v1h-1zM2 61h1v1h-1z"/>
<path fill="#5b5560" d="M28 13h1v1h-1z"/>
<path fill="#515162" d="M30 13h1v1h-1z"/>
<path fill="#494d5e" d="M31 13h1v1h-1zM25 38h1v1h-1z"/>
<path fill="#3b4a5a" d="M32 13h1v1h-1z"/>
<path fill="#3a4958" d="M33 13h1v1h-1zM33 14h1v1h-1zM26 53h1v1h-1z"/>
<path fill="#3c4a5a" d="M34 13h1v1h-1zM34 21h1v1h-1z"/>
<path fill="#3e485b" d="M35 13h1v1h-1z"/>
<path fill="#223253" d="M7 14h1v1h-1zM1 16h1v1h-1zM3 20h1v1h-1zM0 35h1v1h-1zM0 45h1v1h-1z"/>
<path fill="#354a6b" d="M12 14h1v1h-1zM10 40h1v1h-1z"/>
<path fill="#5f626e" d="M13 14h1v1h-1z"/>
<path fill="#afb2a1" d="M14 14h1v1h-1z"/>
<path fill="#deded6" d="M15 14h1v1h-1z"/>
<path fill="#f0f2e6" d="M16 14h1v1h-1z"/>
<path fill="#d8eee5" d="M17 14h1v1h-1z"/>
<path fill="#c6ccc7" d="M18 14h1v1h-1z"/>
<path fill="#b4b1a9" d="M19 14h1v1h-1z"/>
<path fill="#848b9a" d="M20 14h1v1h-1z"/>
<path fill="#746f7a" d="M21 14h1v1h-1z"/>
<path fill="#77717b" d="M22 14h1v1h-1z"/>
<path fill="#756467" d="M23 14h1v1h-1z"/>
<path fill="#806f6a" d="M24 14h1v1h-1z"/>
<path fill="#87746c" d="M25 14h1v1h-1z"/>
<path fill="#806c69" d="M26 14h1v1h-1z"/>
<path fill="#695e63" d="M27 14h1v1h-1zM18 52h1v1h-1z"/>
<path fill="#615761" d="M28 14h1v1h-1z"/>
<path fill="#504e5f" d="M30 14h1v1h-1z"/>
<path fill="#46495c" d="M31 14h1v1h-1z"/>
<path fill="#404b5b" d="M32 14h1v1h-1z"/>
<path fill="#3c4859" d="M34 14h1v1h-1zM35 18h1v1h-1zM31 57h1v1h-1z"/>
<path fill="#253656" d="M1 15h1v1h-1zM2 17h1v1h-1zM1 26h1v1h-1zM18 27h1v1h-1zM5 34h1v1h-1zM5 36h1v1h-1zM1 39h1v1h-1zM1 41h1v1h-1z"/>
<path fill="#263754" d="M2 15h1v1h-1z"/>
<path fill="#1f3253" d="M10 15h1v1h-1zM4 19h1v1h-1zM4 29h2v1h-2z"/>
<path fill="#374c70" d="M12 15h1v1h-1z"/>
<path fill="#828a9b" d="M13 15h1v1h-1z"/>
<path fill="#dcdcd4" d="M14 15h1v1h-1z"/>
<path fill="#fdfdfd" d="M15 15h1v1h-1z"/>
<path fill="#fffefd" d="M16 15h1v1h-1z"/>
<path fill="#ffffff" d="M17 15h1v1h-1z"/>
<path fill="#c7cbc7" d="M18 15h1v1h-1z"/>
<path fill="#9d9ea6" d="M19 15h1v1h-1zM19 16h1v1h-1zM0 56h1v1h-1z"/>
<path fill="#847b8a" d="M20 15h1v1h-1z"/>
<path fill="#786667" d="M21 15h1v1h-1z"/>
<path fill="#7d6e6a" d="M22 15h1v1h-1z"/>
<path fill="#84726c" d="M23 15h1v1h-1z"/>
<path fill="#84716c" d="M24 15h1v1h-1z"/>
<path fill="#836f6a" d="M25 15h1v1h-1z"/>
<path fill="#7a6a67" d="M26 15h1v1h-1z"/>
<path fill="#6e5e62" d="M27 15h1v1h-1z"/>
<path fill="#665b63" d="M28 15h1v1h-1z"/>
<path fill="#595562" d="M29 15h1v1h-1z"/>
<path fill="#504d60" d="M30 15h1v1h-1z"/>
<path fill="#474b5d" d="M31 15h1v1h-1zM20 55h1v1h-1z"/>
<path fill="#414b5d" d="M32 15h1v1h-1zM32 16h1v1h-1zM32 20h1v1h-1z"/>
<path fill="#394858" d="M33 15h1v1h-1z"/>
<path fill="#3b4a5b" d="M34 15h1v1h-1z"/>
<path fill="#3d485a" d="M35 15h1v1h-1zM22 56h1v1h-1z"/>
<path fill="#253753" d="M12 16h1v1h-1z"/>
<path fill="#4d6281" d="M13 16h1v1h-1z"/>
<path fill="#848b9b" d="M14 16h1v1h-1z"/>
<path fill="#b3b6bb" d="M15 16h1v1h-1z"/>
<path fill="#c8cbc7" d="M16 16h1v1h-1zM21 22h1v1h-1z"/>
<path fill="#d8d7d1" d="M17 16h1v1h-1z"/>
<path fill="#c5bfb1" d="M18 16h1v1h-1z"/>
<path fill="#867d8a" d="M20 16h1v1h-1z"/>
<path fill="#82706c" d="M21 16h1v1h-1z"/>
<path fill="#836f69" d="M22 16h1v1h-1z"/>
<path fill="#86746d" d="M23 16h1v1h-1z"/>
<path fill="#826e6b" d="M24 16h1v1h-1z"/>
<path fill="#6f5f61" d="M26 16h1v1h-1z"/>
<path fill="#665b61" d="M27 16h1v1h-1zM13 53h1v1h-1zM8 57h1v1h-1z"/>
<path fill="#5e565f" d="M28 16h1v1h-1z"/>
<path fill="#5a5563" d="M29 16h1v1h-1z"/>
<path fill="#494b5f" d="M31 16h1v1h-1z"/>
<path fill="#3c495a" d="M35 16h1v1h-1zM25 51h1v1h-1z"/>
<path fill="#253657" d="M1 17h1v1h-1zM4 27h1v1h-1zM1 28h1v1h-1z"/>
<path fill="#263857" d="M12 17h1v1h-1zM16 26h1v1h-1zM14 27h1v1h-1z"/>
<path fill="#273855" d="M13 17h1v1h-1z"/>
<path fill="#43515b" d="M14 17h1v1h-1z"/>
<path fill="#7990a1" d="M16 17h1v1h-1z"/>
<path fill="#c9cbc5" d="M17 17h1v1h-1z"/>
<path fill="#c3bbae" d="M18 17h1v1h-1z"/>
<path fill="#848a9a" d="M19 17h1v1h-1z"/>
<path fill="#867c89" d="M20 17h1v1h-1z"/>
<path fill="#87736d" d="M21 17h1v1h-1z"/>
<path fill="#86736c" d="M22 17h1v1h-1z"/>
<path fill="#83716c" d="M23 17h1v1h-1z"/>
<path fill="#716263" d="M25 17h1v1h-1z"/>
<path fill="#5f555d" d="M27 17h1v1h-1z"/>
<path fill="#5c535e" d="M28 17h1v1h-1z"/>
<path fill="#57535f" d="M29 17h1v1h-1zM18 45h1v1h-1z"/>
<path fill="#4d4d5e" d="M30 17h1v1h-1z"/>
<path fill="#47495b" d="M31 17h1v1h-1zM23 60h1v1h-1z"/>
<path fill="#414a5c" d="M32 17h1v1h-1zM17 59h1v1h-1z"/>
<path fill="#3c4759" d="M33 17h1v1h-1z"/>
<path fill="#3b4959" d="M34 17h1v1h-1z"/>
<path fill="#3e495b" d="M35 17h1v1h-1zM21 55h1v1h-1z"/>
<path fill="#203151" d="M4 18h1v1h-1zM9 24h1v1h-1zM8 29h1v1h-1zM4 33h1v1h-1z"/>
<path fill="#283955" d="M14 18h1v1h-1z"/>
<path fill="#354b6d" d="M15 18h1v1h-1z"/>
<path fill="#5e7589" d="M16 18h1v1h-1z"/>
<path fill="#b0b1a2" d="M17 18h1v1h-1z"/>
<path fill="#c4bcb1" d="M18 18h1v1h-1z"/>
<path fill="#c5b8b1" d="M19 18h1v1h-1z"/>
<path fill="#c0aead" d="M20 18h1v1h-1z"/>
<path fill="#9d8882" d="M21 18h1v1h-1z"/>
<path fill="#8e776e" d="M22 18h1v1h-1z"/>
<path fill="#7e6b69" d="M23 18h1v1h-1z"/>
<path fill="#726162" d="M24 18h1v1h-1z"/>
<path fill="#6b5c61" d="M25 18h1v1h-1z"/>
<path fill="#635861" d="M26 18h1v1h-1z"/>
<path fill="#5b5763" d="M28 18h1v1h-1z"/>
<path fill="#585462" d="M29 18h1v1h-1zM16 39h1v1h-1z"/>
<path fill="#4e4e60" d="M30 18h1v1h-1zM16 38h1v1h-1z"/>
<path fill="#4b4d61" d="M31 18h1v1h-1zM16 37h1v1h-1z"/>
<path fill="#444b5e" d="M32 18h1v1h-1z"/>
<path fill="#3f495b" d="M33 18h1v1h-1zM20 54h1v1h-1z"/>
<path fill="#3d4859" d="M34 18h1v1h-1z"/>
<path fill="#253653" d="M0 19h1v1h-1z"/>
<path fill="#4d6180" d="M16 19h1v1h-1z"/>
<path fill="#838d9c" d="M17 19h1v1h-1z"/>
<path fill="#c6bdb2" d="M18 19h1v1h-1z"/>
<path fill="#e4d2d0" d="M19 19h1v1h-1z"/>
<path fill="#c6b7b4" d="M20 19h1v1h-1z"/>
<path fill="#beabab" d="M21 19h1v1h-1z"/>
<path fill="#9f8c83" d="M22 19h1v1h-1z"/>
<path fill="#7e6c69" d="M23 19h1v1h-1zM9 60h1v1h-1z"/>
<path fill="#746365" d="M24 19h1v1h-1zM16 53h1v1h-1zM4 60h1v1h-1z"/>
<path fill="#695b61" d="M25 19h1v1h-1z"/>
<path fill="#61575f" d="M26 19h1v1h-1z"/>
<path fill="#5d5861" d="M27 19h1v1h-1z"/>
<path fill="#54505e" d="M28 19h1v1h-1z"/>
<path fill="#4b4c5e" d="M30 19h1v1h-1zM17 61h1v1h-1z"/>
<path fill="#454a5c" d="M31 19h1v1h-1z"/>
<path fill="#464d5f" d="M32 19h1v1h-1z"/>
<path fill="#424b5e" d="M33 19h1v1h-1z"/>
<path fill="#3f475a" d="M34 19h1v1h-1z"/>
<path fill="#414a5b" d="M35 19h1v1h-1z"/>
<path fill="#263655" d="M6 20h1v1h-1z"/>
<path fill="#233757" d="M9 20h1v1h-1z"/>
<path fill="#203254" d="M10 20h1v1h-1zM5 46h1v1h-1z"/>
<path fill="#203152" d="M11 20h1v1h-1zM9 21h1v1h-1zM5 23h1v1h-1zM10 23h1v1h-1zM2 31h1v1h-1zM2 44h1v1h-1zM0 51h1v1h-1z"/>
<path fill="#374660" d="M16 20h1v1h-1z"/>
<path fill="#5d728c" d="M17 20h1v1h-1z"/>
<path fill="#9a9ba4" d="M18 20h1v1h-1z"/>
<path fill="#c5b7b3" d="M19 20h1v1h-1z"/>
<path fill="#cec0bc" d="M20 20h1v1h-1z"/>
<path fill="#c4b4b2" d="M21 20h1v1h-1z"/>
<path fill="#bba8a7" d="M22 20h1v1h-1z"/>
<path fill="#90766d" d="M23 20h1v1h-1z"/>
<path fill="#635962" d="M26 20h1v1h-1z"/>
<path fill="#5c555f" d="M27 20h1v1h-1z"/>
<path fill="#57545f" d="M28 20h1v1h-1z"/>
<path fill="#535060" d="M29 20h1v1h-1z"/>
<path fill="#484a5c" d="M30 20h1v1h-1z"/>
<path fill="#444b5c" d="M31 20h1v1h-1zM32 55h1v1h-1z"/>
<path fill="#40485b" d="M33 20h1v1h-1z"/>
<path fill="#444d5f" d="M34 20h1v1h-1z"/>
<path fill="#414c59" d="M35 20h1v1h-1z"/>
<path fill="#273956" d="M16 21h1v1h-1z"/>
<path fill="#425168" d="M17 21h1v1h-1z"/>
<path fill="#6b7996" d="M18 21h1v1h-1z"/>
<path fill="#9a9da5" d="M19 21h1v1h-1z"/>
<path fill="#c5bebf" d="M20 21h1v1h-1z"/>
<path fill="#dcdcd5" d="M21 21h1v1h-1z"/>
<path fill="#beacab" d="M22 21h1v1h-1z"/>
<path fill="#9f8a82" d="M23 21h1v1h-1z"/>
<path fill="#706265" d="M24 21h1v1h-1z"/>
<path fill="#605860" d="M26 21h1v1h-1z"/>
<path fill="#625962" d="M28 21h1v1h-1zM10 54h1v1h-1zM3 60h1v1h-1z"/>
<path fill="#54525f" d="M29 21h1v1h-1z"/>
<path fill="#3c4156" d="M30 21h1v1h-1z"/>
<path fill="#383e53" d="M31 21h1v1h-1zM30 22h1v1h-1z"/>
<path fill="#3d475b" d="M32 21h1v1h-1z"/>
<path fill="#3f4a5c" d="M33 21h1v1h-1zM27 52h1v1h-1zM28 59h1v1h-1z"/>
<path fill="#3c4b5b" d="M35 21h1v1h-1zM26 52h1v1h-1z"/>
<path fill="#213151" d="M0 22h1v1h-1zM9 26h1v1h-1zM5 31h1v1h-1z"/>
<path fill="#243755" d="M3 22h1v1h-1zM15 22h1v1h-1zM7 33h1v1h-1zM5 39h2v1h-2zM8 47h1v1h-1zM7 48h1v1h-1z"/>
<path fill="#39485f" d="M17 22h1v1h-1z"/>
<path fill="#4c5f7f" d="M18 22h1v1h-1z"/>
<path fill="#6c7895" d="M19 22h1v1h-1z"/>
<path fill="#848c9c" d="M20 22h1v1h-1z"/>
<path fill="#bea9a8" d="M22 22h1v1h-1z"/>
<path fill="#a08c84" d="M23 22h1v1h-1z"/>
<path fill="#726d78" d="M24 22h1v1h-1z"/>
<path fill="#655c62" d="M25 22h1v1h-1z"/>
<path fill="#5e5862" d="M26 22h1v1h-1z"/>
<path fill="#595563" d="M28 22h1v1h-1z"/>
<path fill="#48495c" d="M29 22h1v1h-1zM15 46h1v1h-1z"/>
<path fill="#394157" d="M31 22h1v1h-1z"/>
<path fill="#213455" d="M3 23h1v1h-1zM4 24h1v1h-1zM17 27h1v1h-1z"/>
<path fill="#2e4059" d="M17 23h1v1h-1z"/>
<path fill="#43505c" d="M18 23h1v1h-1z"/>
<path fill="#435160" d="M19 23h1v1h-1z"/>
<path fill="#60768a" d="M20 23h1v1h-1z"/>
<path fill="#9d9fa4" d="M21 23h1v1h-1z"/>
<path fill="#a8988b" d="M22 23h1v1h-1z"/>
<path fill="#a18d83" d="M23 23h1v1h-1z"/>
<path fill="#726e7a" d="M24 23h1v1h-1z"/>
<path fill="#5f5760" d="M25 23h1v1h-1z"/>
<path fill="#3e475a" d="M27 23h1v1h-1z"/>
<path fill="#484a5e" d="M28 23h1v1h-1z"/>
<path fill="#383f55" d="M29 23h1v1h-1z"/>
<path fill="#394056" d="M30 23h1v1h-1z"/>
<path fill="#3b4157" d="M31 23h1v1h-1z"/>
<path fill="#243856" d="M1 24h1v1h-1z"/>
<path fill="#243857" d="M2 24h1v1h-1z"/>
<path fill="#2c3e56" d="M17 24h1v1h-1z"/>
<path fill="#39495b" d="M18 24h1v1h-1z"/>
<path fill="#414f5e" d="M19 24h1v1h-1z"/>
<path fill="#637380" d="M20 24h1v1h-1z"/>
<path fill="#848c9a" d="M21 24h1v1h-1z"/>
<path fill="#a69789" d="M22 24h1v1h-1zM22 26h1v1h-1z"/>
<path fill="#a08d84" d="M23 24h1v1h-1z"/>
<path fill="#75707c" d="M24 24h1v1h-1z"/>
<path fill="#655b62" d="M25 24h1v1h-1z"/>
<path fill="#3c4358" d="M27 24h1v1h-1z"/>
<path fill="#3c4357" d="M28 24h1v1h-1zM22 37h1v1h-1z"/>
<path fill="#373f55" d="M29 24h1v1h-1z"/>
<path fill="#253754" d="M1 25h1v1h-1zM8 25h1v1h-1zM13 27h1v1h-1z"/>
<path fill="#283b57" d="M7 25h1v1h-1zM6 49h1v1h-1z"/>
<path fill="#263656" d="M9 25h1v1h-1zM1 38h1v1h-1z"/>
<path fill="#253858" d="M12 25h1v1h-1z"/>
<path fill="#223553" d="M14 25h1v1h-1zM1 29h1v1h-1zM6 31h1v1h-1z"/>
<path fill="#2b3d56" d="M17 25h1v1h-1z"/>
<path fill="#475365" d="M20 25h1v1h-1z"/>
<path fill="#6e717b" d="M21 25h1v1h-1z"/>
<path fill="#a79889" d="M22 25h1v1h-1z"/>
<path fill="#a49187" d="M23 25h1v1h-1z"/>
<path fill="#857b89" d="M24 25h1v1h-1z"/>
<path fill="#665c63" d="M25 25h1v1h-1zM2 60h1v1h-1z"/>
<path fill="#56515e" d="M26 25h1v1h-1z"/>
<path fill="#494a5d" d="M27 25h1v1h-1zM22 61h1v1h-1z"/>
<path fill="#44465c" d="M28 25h1v1h-1z"/>
<path fill="#3b4057" d="M29 25h1v1h-1z"/>
<path fill="#243855" d="M6 26h1v1h-1zM11 45h1v1h-1z"/>
<path fill="#223551" d="M13 26h1v1h-1z"/>
<path fill="#2c3d56" d="M19 26h1v1h-1zM10 46h1v1h-1zM10 47h1v1h-1z"/>
<path fill="#51565e" d="M20 26h1v1h-1z"/>
<path fill="#706f79" d="M21 26h1v1h-1z"/>
<path fill="#a49088" d="M23 26h1v1h-1z"/>
<path fill="#817786" d="M24 26h1v1h-1z"/>
<path fill="#263856" d="M7 27h1v1h-1z"/>
<path fill="#233755" d="M11 27h1v1h-1z"/>
<path fill="#2b3c58" d="M19 27h1v1h-1z"/>
<path fill="#545860" d="M20 27h1v1h-1z"/>
<path fill="#61646f" d="M21 27h1v1h-1z"/>
<path fill="#72717b" d="M22 27h1v1h-1z"/>
<path fill="#a38e86" d="M23 27h1v1h-1z"/>
<path fill="#847884" d="M24 27h1v1h-1z"/>
<path fill="#7b757e" d="M25 27h1v1h-1z"/>
<path fill="#233756" d="M7 28h1v1h-1zM9 30h1v1h-1z"/>
<path fill="#253856" d="M11 28h1v1h-1zM8 38h1v1h-1zM7 47h1v1h-1zM3 51h1v1h-1z"/>
<path fill="#2a3c58" d="M12 28h1v1h-1z"/>
<path fill="#283a55" d="M19 28h1v1h-1z"/>
<path fill="#37455c" d="M20 28h1v1h-1z"/>
<path fill="#575c62" d="M21 28h1v1h-1z"/>
<path fill="#73737c" d="M22 28h1v1h-1z"/>
<path fill="#9e8981" d="M23 28h1v1h-1z"/>
<path fill="#957b72" d="M24 28h1v1h-1z"/>
<path fill="#8f7870" d="M25 28h1v1h-1z"/>
<path fill="#233653" d="M11 29h1v1h-1z"/>
<path fill="#2c3c55" d="M12 29h1v1h-1z"/>
<path fill="#323d55" d="M13 29h1v1h-1z"/>
<path fill="#253956" d="M15 29h1v1h-1z"/>
<path fill="#263a56" d="M16 29h1v1h-1zM7 39h1v1h-1z"/>
<path fill="#293b57" d="M17 29h1v1h-1z"/>
<path fill="#243952" d="M18 29h1v1h-1z"/>
<path fill="#2a3d56" d="M19 29h1v1h-1z"/>
<path fill="#2b3e56" d="M20 29h1v1h-1z"/>
<path fill="#545861" d="M21 29h1v1h-1z"/>
<path fill="#60616e" d="M22 29h1v1h-1z"/>
<path fill="#9e8a85" d="M23 29h1v1h-1z"/>
<path fill="#92786c" d="M24 29h1v1h-1z"/>
<path fill="#92776c" d="M25 29h1v1h-1z"/>
<path fill="#283a57" d="M2 30h1v1h-1z"/>
<path fill="#233353" d="M4 30h1v1h-1zM3 37h1v1h-1z"/>
<path fill="#213553" d="M10 30h1v1h-1z"/>
<path fill="#253854" d="M11 30h1v1h-1z"/>
<path fill="#39465c" d="M13 30h1v1h-1z"/>
<path fill="#445268" d="M14 30h1v1h-1z"/>
<path fill="#455269" d="M15 30h1v1h-1z"/>
<path fill="#435168" d="M16 30h1v1h-1z"/>
<path fill="#3b4962" d="M17 30h1v1h-1z"/>
<path fill="#3d4c62" d="M18 30h1v1h-1z"/>
<path fill="#3b4a62" d="M19 30h1v1h-1z"/>
<path fill="#445165" d="M21 30h1v1h-1z"/>
<path fill="#62636f" d="M22 30h1v1h-1zM30 47h1v1h-1zM12 51h1v1h-1z"/>
<path fill="#968b8c" d="M23 30h1v1h-1z"/>
<path fill="#967970" d="M24 30h1v1h-1z"/>
<path fill="#967b6e" d="M25 30h1v1h-1z"/>
<path fill="#213254" d="M1 31h1v1h-1zM0 32h1v1h-1z"/>
<path fill="#2c3752" d="M3 31h1v1h-1z"/>
<path fill="#223251" d="M10 31h1v1h-1z"/>
<path fill="#34455c" d="M11 31h1v1h-1z"/>
<path fill="#3f4e65" d="M12 31h1v1h-1z"/>
<path fill="#657480" d="M13 31h1v1h-1z"/>
<path fill="#6e747f" d="M14 31h1v1h-1z"/>
<path fill="#5f768f" d="M15 31h1v1h-1z"/>
<path fill="#5d758a" d="M16 31h1v1h-1z"/>
<path fill="#5f7381" d="M17 31h1v1h-1z"/>
<path fill="#3f4d63" d="M18 31h1v1h-1z"/>
<path fill="#435067" d="M19 31h1v1h-1z"/>
<path fill="#435166" d="M20 31h1v1h-1z"/>
<path fill="#404e64" d="M21 31h1v1h-1z"/>
<path fill="#545a64" d="M22 31h1v1h-1z"/>
<path fill="#887e88" d="M23 31h1v1h-1z"/>
<path fill="#977a6f" d="M24 31h1v1h-1z"/>
<path fill="#99786d" d="M25 31h1v1h-1z"/>
<path fill="#344561" d="M10 32h1v1h-1z"/>
<path fill="#5e758c" d="M12 32h1v1h-1z"/>
<path fill="#9b9f97" d="M13 32h1v1h-1z"/>
<path fill="#999d95" d="M14 32h1v1h-1z"/>
<path fill="#788ea3" d="M15 32h1v1h-1z"/>
<path fill="#6c869f" d="M16 32h1v1h-1z"/>
<path fill="#9ea19a" d="M17 32h1v1h-1z"/>
<path fill="#9ea197" d="M18 32h1v1h-1z"/>
<path fill="#a89c8f" d="M19 32h1v1h-1z"/>
<path fill="#838b9b" d="M20 32h1v1h-1z"/>
<path fill="#72727d" d="M21 32h1v1h-1z"/>
<path fill="#817984" d="M22 32h1v1h-1z"/>
<path fill="#9e8b84" d="M23 32h1v1h-1z"/>
<path fill="#957970" d="M24 32h1v1h-1z"/>
<path fill="#94786e" d="M25 32h1v1h-1zM10 61h1v1h-1z"/>
<path fill="#364a6e" d="M10 33h1v1h-1z"/>
<path fill="#4a5f7f" d="M11 33h1v1h-1z"/>
<path fill="#7c90a2" d="M12 33h1v1h-1z"/>
<path fill="#b1c1ba" d="M13 33h1v1h-1z"/>
<path fill="#b0bdb8" d="M14 33h1v1h-1z"/>
<path fill="#9eb0c2" d="M15 33h1v1h-1z"/>
<path fill="#aeb2ba" d="M16 33h1v1h-1z"/>
<path fill="#bbb9bc" d="M17 33h1v1h-1z"/>
<path fill="#bdb9be" d="M18 33h1v1h-1z"/>
<path fill="#c1bcc1" d="M19 33h1v1h-1z"/>
<path fill="#bba7a8" d="M20 33h1v1h-1z"/>
<path fill="#beaaab" d="M21 33h1v1h-1z"/>
<path fill="#a28d86" d="M22 33h1v1h-1z"/>
<path fill="#9f8b84" d="M23 33h1v1h-1z"/>
<path fill="#877b87" d="M24 33h1v1h-1z"/>
<path fill="#6e5f62" d="M25 33h1v1h-1z"/>
<path fill="#213552" d="M0 34h1v1h-1z"/>
<path fill="#263757" d="M3 34h1v1h-1zM8 34h1v1h-1z"/>
<path fill="#374d71" d="M10 34h1v1h-1z"/>
<path fill="#828e9e" d="M11 34h1v1h-1z"/>
<path fill="#afb3a3" d="M12 34h1v1h-1z"/>
<path fill="#c4ccc7" d="M13 34h1v1h-1z"/>
<path fill="#b2b8bc" d="M14 34h1v1h-1z"/>
<path fill="#b0b5bb" d="M15 34h1v1h-1z"/>
<path fill="#aca89d" d="M16 34h1v1h-1z"/>
<path fill="#a4998b" d="M17 34h1v1h-1z"/>
<path fill="#999292" d="M18 34h1v1h-1z"/>
<path fill="#989191" d="M19 34h1v1h-1z"/>
<path fill="#a08d88" d="M20 34h1v1h-1z"/>
<path fill="#967d71" d="M21 34h1v1h-1z"/>
<path fill="#92786d" d="M22 34h1v1h-1z"/>
<path fill="#8c766e" d="M23 34h1v1h-1z"/>
<path fill="#625f69" d="M24 34h1v1h-1z"/>
<path fill="#5e5861" d="M25 34h1v1h-1zM16 43h1v1h-1z"/>
<path fill="#2e3e57" d="M8 35h1v1h-1z"/>
<path fill="#354058" d="M9 35h1v1h-1z"/>
<path fill="#717b97" d="M10 35h1v1h-1z"/>
<path fill="#adafa1" d="M11 35h1v1h-1z"/>
<path fill="#dddcd4" d="M12 35h1v1h-1z"/>
<path fill="#f0f0e5" d="M13 35h1v1h-1z"/>
<path fill="#c3c8c4" d="M14 35h1v1h-1z"/>
<path fill="#afb3b9" d="M15 35h1v1h-1z"/>
<path fill="#858c9d" d="M16 35h1v1h-1z"/>
<path fill="#60626f" d="M17 35h1v1h-1z"/>
<path fill="#5d5461" d="M19 35h1v1h-1z"/>
<path fill="#5f575f" d="M21 35h1v1h-1z"/>
<path fill="#5c545f" d="M22 35h1v1h-1z"/>
<path fill="#5b535f" d="M23 35h1v1h-1z"/>
<path fill="#55515e" d="M25 35h1v1h-1zM7 56h1v1h-1z"/>
<path fill="#2c3b56" d="M8 36h1v1h-1z"/>
<path fill="#373f57" d="M9 36h1v1h-1z"/>
<path fill="#868e9e" d="M10 36h1v1h-1z"/>
<path fill="#9c9ea4" d="M11 36h1v1h-1z"/>
<path fill="#dadbd3" d="M12 36h1v1h-1z"/>
<path fill="#fcfcfc" d="M13 36h1v1h-1z"/>
<path fill="#c6c9c5" d="M14 36h1v1h-1z"/>
<path fill="#9ea0a8" d="M15 36h1v1h-1z"/>
<path fill="#6f7b97" d="M16 36h1v1h-1z"/>
<path fill="#494a5e" d="M17 36h1v1h-1z"/>
<path fill="#4f4c5d" d="M19 36h1v1h-1z"/>
<path fill="#4f4b5d" d="M20 36h1v1h-1z"/>
<path fill="#555162" d="M22 36h1v1h-1z"/>
<path fill="#504c5c" d="M23 36h1v1h-1z"/>
<path fill="#4c4c5e" d="M24 36h1v1h-1zM5 56h1v1h-1z"/>
<path fill="#4b4c60" d="M25 36h1v1h-1zM5 55h1v1h-1z"/>
<path fill="#878e9e" d="M10 37h1v1h-1z"/>
<path fill="#c7c9c7" d="M11 37h1v1h-1z"/>
<path fill="#dddcd5" d="M12 37h1v1h-1z"/>
<path fill="#fffeff" d="M13 37h1v1h-1z"/>
<path fill="#c6cac6" d="M14 37h1v1h-1z"/>
<path fill="#606171" d="M15 37h1v1h-1z"/>
<path fill="#42455b" d="M17 37h1v1h-1z"/>
<path fill="#4a495e" d="M18 37h1v1h-1z"/>
<path fill="#4b4d5e" d="M19 37h1v1h-1z"/>
<path fill="#4e4d61" d="M20 37h1v1h-1z"/>
<path fill="#3e4257" d="M21 37h1v1h-1z"/>
<path fill="#3a4055" d="M23 37h1v1h-1z"/>
<path fill="#3c4258" d="M24 37h1v1h-1z"/>
<path fill="#3a3f54" d="M25 37h1v1h-1z"/>
<path fill="#394860" d="M9 38h1v1h-1z"/>
<path fill="#acae9e" d="M11 38h1v1h-1z"/>
<path fill="#c9cec8" d="M12 38h1v1h-1z"/>
<path fill="#f1f2e6" d="M13 38h1v1h-1z"/>
<path fill="#b4b7bd" d="M14 38h1v1h-1z"/>
<path fill="#5c5b70" d="M15 38h1v1h-1z"/>
<path fill="#504f60" d="M17 38h1v1h-1z"/>
<path fill="#4f4d5e" d="M18 38h1v1h-1zM19 51h1v1h-1z"/>
<path fill="#4e4d5f" d="M20 38h1v1h-1zM19 50h1v1h-1z"/>
<path fill="#4f4f5f" d="M21 38h1v1h-1z"/>
<path fill="#4b4b60" d="M22 38h1v1h-1z"/>
<path fill="#494c5f" d="M23 38h1v1h-1z"/>
<path fill="#45475a" d="M24 38h1v1h-1z"/>
<path fill="#263855" d="M9 39h1v1h-1z"/>
<path fill="#60717d" d="M10 39h1v1h-1z"/>
<path fill="#828e9d" d="M11 39h1v1h-1z"/>
<path fill="#aeb2a2" d="M12 39h1v1h-1z"/>
<path fill="#dad9d1" d="M13 39h1v1h-1z"/>
<path fill="#a89a8a" d="M14 39h1v1h-1z"/>
<path fill="#565463" d="M15 39h1v1h-1z"/>
<path fill="#54525e" d="M17 39h1v1h-1z"/>
<path fill="#565360" d="M18 39h1v1h-1z"/>
<path fill="#504d5d" d="M20 39h1v1h-1z"/>
<path fill="#665c62" d="M21 39h1v1h-1z"/>
<path fill="#4c4f60" d="M23 39h1v1h-1z"/>
<path fill="#52555e" d="M24 39h1v1h-1z"/>
<path fill="#50545c" d="M25 39h1v1h-1zM29 59h1v1h-1z"/>
<path fill="#4c607e" d="M11 40h1v1h-1z"/>
<path fill="#7a8e9f" d="M12 40h1v1h-1z"/>
<path fill="#c5c9c4" d="M13 40h1v1h-1z"/>
<path fill="#a79b8c" d="M14 40h1v1h-1z"/>
<path fill="#665b62" d="M15 40h1v1h-1z"/>
<path fill="#5c5760" d="M16 40h1v1h-1z"/>
<path fill="#585660" d="M17 40h1v1h-1z"/>
<path fill="#55565f" d="M18 40h1v1h-1z"/>
<path fill="#5e5560" d="M20 40h1v1h-1zM19 55h1v1h-1z"/>
<path fill="#695c62" d="M21 40h1v1h-1zM18 54h1v1h-1z"/>
<path fill="#685b64" d="M22 40h1v1h-1z"/>
<path fill="#5c5860" d="M23 40h1v1h-1z"/>
<path fill="#51555c" d="M24 40h1v1h-1zM20 43h1v1h-1z"/>
<path fill="#565b61" d="M25 40h1v1h-1z"/>
<path fill="#374862" d="M10 41h1v1h-1z"/>
<path fill="#374a6a" d="M11 41h1v1h-1z"/>
<path fill="#5d748b" d="M12 41h1v1h-1z"/>
<path fill="#a7a598" d="M13 41h1v1h-1z"/>
<path fill="#9c9491" d="M14 41h1v1h-1z"/>
<path fill="#5d575f" d="M16 41h1v1h-1z"/>
<path fill="#585960" d="M17 41h1v1h-1z"/>
<path fill="#53565f" d="M18 41h1v1h-1z"/>
<path fill="#51515e" d="M19 41h1v1h-1z"/>
<path fill="#5e5962" d="M20 41h1v1h-1z"/>
<path fill="#635a60" d="M21 41h1v1h-1z"/>
<path fill="#5e565e" d="M22 41h1v1h-1z"/>
<path fill="#56565e" d="M23 41h1v1h-1z"/>
<path fill="#52565e" d="M24 41h1v1h-1z"/>
<path fill="#51565c" d="M25 41h1v1h-1z"/>
<path fill="#203454" d="M7 42h1v1h-1z"/>
<path fill="#283957" d="M10 42h1v1h-1z"/>
<path fill="#394962" d="M11 42h1v1h-1z"/>
<path fill="#5d728b" d="M12 42h1v1h-1z"/>
<path fill="#968f8f" d="M13 42h1v1h-1z"/>
<path fill="#a1978d" d="M14 42h1v1h-1z"/>
<path fill="#75727c" d="M15 42h1v1h-1z"/>
<path fill="#5d5660" d="M16 42h1v1h-1z"/>
<path fill="#56555d" d="M17 42h1v1h-1z"/>
<path fill="#55575e" d="M18 42h1v1h-1z"/>
<path fill="#565861" d="M19 42h1v1h-1z"/>
<path fill="#55575f" d="M20 42h1v1h-1z"/>
<path fill="#53565d" d="M21 42h1v1h-1z"/>
<path fill="#48505c" d="M22 42h1v1h-1z"/>
<path fill="#424b5c" d="M23 42h1v1h-1zM20 53h1v1h-1z"/>
<path fill="#404a5b" d="M24 42h1v1h-1z"/>
<path fill="#3c4959" d="M25 42h1v1h-1z"/>
<path fill="#3e4a5b" d="M26 42h1v1h-1z"/>
<path fill="#3a4858" d="M27 42h1v1h-1zM35 44h1v1h-1zM21 54h1v1h-1zM33 57h1v1h-1z"/>
<path fill="#223556" d="M7 43h1v1h-1z"/>
<path fill="#37485c" d="M11 43h1v1h-1z"/>
<path fill="#4a5d7c" d="M12 43h1v1h-1z"/>
<path fill="#71727d" d="M13 43h1v1h-1z"/>
<path fill="#979091" d="M14 43h1v1h-1z"/>
<path fill="#76737e" d="M15 43h1v1h-1z"/>
<path fill="#56535d" d="M17 43h1v1h-1z"/>
<path fill="#555960" d="M18 43h1v1h-1z"/>
<path fill="#555860" d="M19 43h1v1h-1z"/>
<path fill="#494e5e" d="M21 43h1v1h-1z"/>
<path fill="#474e5f" d="M22 43h1v1h-1z"/>
<path fill="#374659" d="M24 43h1v1h-1z"/>
<path fill="#384758" d="M25 43h1v1h-1zM33 59h1v1h-1z"/>
<path fill="#3e4b5c" d="M26 43h1v1h-1z"/>
<path fill="#3f485a" d="M27 43h1v1h-1z"/>
<path fill="#334459" d="M11 44h1v1h-1z"/>
<path fill="#425267" d="M12 44h1v1h-1z"/>
<path fill="#72737d" d="M13 44h1v1h-1z"/>
<path fill="#958e91" d="M14 44h1v1h-1z"/>
<path fill="#75727e" d="M15 44h1v1h-1z"/>
<path fill="#55515d" d="M16 44h1v1h-1z"/>
<path fill="#52505e" d="M17 44h1v1h-1z"/>
<path fill="#54555f" d="M18 44h1v1h-1z"/>
<path fill="#54565d" d="M19 44h1v1h-1z"/>
<path fill="#474b5b" d="M20 44h1v1h-1z"/>
<path fill="#454c5d" d="M21 44h1v1h-1z"/>
<path fill="#3d465a" d="M22 44h1v1h-1z"/>
<path fill="#304058" d="M23 44h1v1h-1z"/>
<path fill="#384759" d="M24 44h1v1h-1z"/>
<path fill="#404b5c" d="M25 44h1v1h-1z"/>
<path fill="#484f5e" d="M26 44h1v1h-1z"/>
<path fill="#4a4f60" d="M28 44h1v1h-1z"/>
<path fill="#434d5e" d="M29 44h1v1h-1z"/>
<path fill="#3c495b" d="M30 44h1v1h-1zM22 48h1v1h-1z"/>
<path fill="#334356" d="M32 44h1v1h-1z"/>
<path fill="#304253" d="M33 44h1v1h-1z"/>
<path fill="#334656" d="M34 44h1v1h-1zM34 61h1v1h-1z"/>
<path fill="#424e65" d="M12 45h1v1h-1z"/>
<path fill="#626571" d="M13 45h1v1h-1zM13 47h1v1h-1z"/>
<path fill="#7e7783" d="M14 45h1v1h-1z"/>
<path fill="#535260" d="M15 45h1v1h-1z"/>
<path fill="#525261" d="M17 45h1v1h-1z"/>
<path fill="#575560" d="M19 45h1v1h-1z"/>
<path fill="#484c5d" d="M20 45h1v1h-1z"/>
<path fill="#41485c" d="M21 45h1v1h-1z"/>
<path fill="#313f55" d="M22 45h1v1h-1z"/>
<path fill="#344457" d="M23 45h1v1h-1z"/>
<path fill="#384957" d="M24 45h1v1h-1z"/>
<path fill="#49535e" d="M25 45h1v1h-1z"/>
<path fill="#51565d" d="M26 45h1v1h-1zM30 60h1v1h-1zM30 61h1v1h-1z"/>
<path fill="#636670" d="M27 45h1v1h-1z"/>
<path fill="#52555d" d="M28 45h1v1h-1z"/>
<path fill="#52575f" d="M29 45h1v1h-1z"/>
<path fill="#414b5b" d="M31 45h1v1h-1z"/>
<path fill="#424e5c" d="M32 45h1v1h-1z"/>
<path fill="#47525b" d="M33 45h1v1h-1z"/>
<path fill="#46515b" d="M34 45h1v1h-1z"/>
<path fill="#47545c" d="M35 45h1v1h-1z"/>
<path fill="#243954" d="M9 46h1v1h-1z"/>
<path fill="#283956" d="M11 46h1v1h-1z"/>
<path fill="#3c4c64" d="M12 46h1v1h-1z"/>
<path fill="#646c78" d="M13 46h1v1h-1z"/>
<path fill="#70727e" d="M14 46h1v1h-1z"/>
<path fill="#4a4b5e" d="M16 46h1v1h-1z"/>
<path fill="#525161" d="M17 46h1v1h-1z"/>
<path fill="#59535e" d="M19 46h1v1h-1z"/>
<path fill="#515060" d="M20 46h1v1h-1z"/>
<path fill="#384357" d="M21 46h1v1h-1z"/>
<path fill="#314155" d="M22 46h1v1h-1z"/>
<path fill="#394758" d="M23 46h1v1h-1zM23 58h1v1h-1z"/>
<path fill="#3a4a59" d="M24 46h1v1h-1z"/>
<path fill="#52575e" d="M25 46h1v1h-1z"/>
<path fill="#646672" d="M26 46h1v1h-1zM25 47h1v1h-1zM30 49h1v1h-1z"/>
<path fill="#6f6e79" d="M27 46h1v1h-1z"/>
<path fill="#63646f" d="M28 46h1v1h-1z"/>
<path fill="#53585e" d="M29 46h1v1h-1z"/>
<path fill="#53575f" d="M30 46h1v1h-1z"/>
<path fill="#4a535d" d="M31 46h1v1h-1z"/>
<path fill="#46505a" d="M32 46h1v1h-1z"/>
<path fill="#51575e" d="M33 46h1v1h-1z"/>
<path fill="#48535b" d="M34 46h1v1h-1z"/>
<path fill="#47535b" d="M35 46h1v1h-1z"/>
<path fill="#283c56" d="M9 47h1v1h-1z"/>
<path fill="#2b3f57" d="M11 47h1v1h-1z"/>
<path fill="#3a485f" d="M12 47h1v1h-1z"/>
<path fill="#626671" d="M14 47h1v1h-1z"/>
<path fill="#4c4d61" d="M15 47h1v1h-1z"/>
<path fill="#4c4b5e" d="M16 47h1v1h-1z"/>
<path fill="#5a5361" d="M17 47h1v1h-1z"/>
<path fill="#5f5560" d="M18 47h1v1h-1z"/>
<path fill="#5c555e" d="M19 47h1v1h-1z"/>
<path fill="#40485c" d="M21 47h1v1h-1z"/>
<path fill="#374759" d="M22 47h1v1h-1z"/>
<path fill="#384856" d="M23 47h1v1h-1zM23 49h1v1h-1z"/>
<path fill="#414d56" d="M24 47h1v1h-1z"/>
<path fill="#75747f" d="M26 47h1v1h-1z"/>
<path fill="#76727d" d="M27 47h1v1h-1z"/>
<path fill="#72717c" d="M28 47h1v1h-1z"/>
<path fill="#61636d" d="M29 47h1v1h-1z"/>
<path fill="#54585f" d="M31 47h1v1h-1z"/>
<path fill="#54595e" d="M32 47h1v1h-1z"/>
<path fill="#51565b" d="M33 47h1v1h-1z"/>
<path fill="#4f545b" d="M34 47h1v1h-1z"/>
<path fill="#455059" d="M35 47h1v1h-1z"/>
<path fill="#233354" d="M2 48h1v1h-1z"/>
<path fill="#243754" d="M6 48h1v1h-1z"/>
<path fill="#263954" d="M8 48h1v1h-1z"/>
<path fill="#2c3f55" d="M9 48h1v1h-1z"/>
<path fill="#2b3e55" d="M10 48h1v1h-1z"/>
<path fill="#2e4057" d="M11 48h1v1h-1z"/>
<path fill="#535962" d="M12 48h1v1h-1z"/>
<path fill="#70727b" d="M13 48h1v1h-1z"/>
<path fill="#656772" d="M14 48h1v1h-1z"/>
<path fill="#535363" d="M15 48h1v1h-1z"/>
<path fill="#5d5560" d="M17 48h1v1h-1z"/>
<path fill="#615961" d="M18 48h1v1h-1z"/>
<path fill="#575260" d="M19 48h1v1h-1z"/>
<path fill="#4c4d5f" d="M20 48h1v1h-1z"/>
<path fill="#394356" d="M21 48h1v1h-1z"/>
<path fill="#3a4857" d="M23 48h1v1h-1z"/>
<path fill="#424f59" d="M24 48h1v1h-1z"/>
<path fill="#646570" d="M25 48h1v1h-1z"/>
<path fill="#716f7a" d="M26 48h1v1h-1z"/>
<path fill="#797680" d="M27 48h1v1h-1z"/>
<path fill="#75717c" d="M28 48h1v1h-1z"/>
<path fill="#656673" d="M29 48h1v1h-1z"/>
<path fill="#636471" d="M30 48h1v1h-1z"/>
<path fill="#565a61" d="M31 48h1v1h-1z"/>
<path fill="#53565c" d="M32 48h1v1h-1z"/>
<path fill="#53575d" d="M33 48h1v1h-1z"/>
<path fill="#54595f" d="M34 48h1v1h-1z"/>
<path fill="#3d4c5a" d="M35 48h1v1h-1z"/>
<path fill="#293c58" d="M7 49h1v1h-1z"/>
<path fill="#314259" d="M8 49h1v1h-1z"/>
<path fill="#2d3f55" d="M9 49h1v1h-1z"/>
<path fill="#38495e" d="M10 49h1v1h-1z"/>
<path fill="#435064" d="M11 49h1v1h-1z"/>
<path fill="#656671" d="M12 49h1v1h-1z"/>
<path fill="#61626e" d="M14 49h1v1h-1z"/>
<path fill="#575362" d="M15 49h1v1h-1z"/>
<path fill="#56505d" d="M16 49h1v1h-1z"/>
<path fill="#5a535f" d="M17 49h1v1h-1z"/>
<path fill="#5a5663" d="M18 49h1v1h-1zM14 50h1v1h-1z"/>
<path fill="#505061" d="M19 49h1v1h-1zM16 60h1v1h-1z"/>
<path fill="#44485a" d="M20 49h1v1h-1z"/>
<path fill="#3b4559" d="M21 49h1v1h-1z"/>
<path fill="#384857" d="M22 49h1v1h-1z"/>
<path fill="#404e58" d="M24 49h1v1h-1z"/>
<path fill="#626470" d="M25 49h1v1h-1zM31 50h1v1h-1z"/>
<path fill="#73717b" d="M26 49h1v1h-1z"/>
<path fill="#78727f" d="M27 49h1v1h-1z"/>
<path fill="#787480" d="M28 49h1v1h-1z"/>
<path fill="#6e6c77" d="M29 49h1v1h-1zM10 52h1v1h-1z"/>
<path fill="#60626e" d="M31 49h1v1h-1zM5 54h1v1h-1z"/>
<path fill="#5e5f6a" d="M32 49h1v1h-1z"/>
<path fill="#50565b" d="M33 49h1v1h-1z"/>
<path fill="#51585f" d="M34 49h1v1h-1z"/>
<path fill="#394857" d="M35 49h1v1h-1z"/>
<path fill="#253857" d="M4 50h1v1h-1z"/>
<path fill="#424f66" d="M6 50h1v1h-1z"/>
<path fill="#5f717f" d="M8 50h1v1h-1z"/>
<path fill="#5e758a" d="M9 50h1v1h-1z"/>
<path fill="#646874" d="M10 50h1v1h-1z"/>
<path fill="#636772" d="M11 50h1v1h-1z"/>
<path fill="#707079" d="M12 50h1v1h-1z"/>
<path fill="#71717c" d="M13 50h1v1h-1z"/>
<path fill="#545261" d="M15 50h1v1h-1z"/>
<path fill="#57505f" d="M17 50h1v1h-1z"/>
<path fill="#565162" d="M18 50h1v1h-1z"/>
<path fill="#434c5d" d="M20 50h1v1h-1z"/>
<path fill="#324455" d="M21 50h1v1h-1z"/>
<path fill="#374758" d="M22 50h1v1h-1z"/>
<path fill="#39495a" d="M23 50h1v1h-1z"/>
<path fill="#374856" d="M24 50h1v1h-1z"/>
<path fill="#46525d" d="M25 50h1v1h-1z"/>
<path fill="#535760" d="M26 50h1v1h-1z"/>
<path fill="#60626d" d="M27 50h1v1h-1z"/>
<path fill="#60636e" d="M28 50h1v1h-1zM31 51h1v1h-1z"/>
<path fill="#646671" d="M29 50h1v1h-1z"/>
<path fill="#646572" d="M30 50h1v1h-1z"/>
<path fill="#545961" d="M32 50h1v1h-1z"/>
<path fill="#49545b" d="M33 50h1v1h-1z"/>
<path fill="#454f5a" d="M34 50h1v1h-1z"/>
<path fill="#3f4c59" d="M35 50h1v1h-1z"/>
<path fill="#34445d" d="M2 51h1v1h-1z"/>
<path fill="#384860" d="M4 51h1v1h-1z"/>
<path fill="#425067" d="M5 51h1v1h-1z"/>
<path fill="#60758a" d="M6 51h1v1h-1z"/>
<path fill="#a4a49a" d="M7 51h1v1h-1z"/>
<path fill="#a5a299" d="M8 51h1v1h-1z"/>
<path fill="#a2adb6" d="M9 51h1v1h-1z"/>
<path fill="#848d9c" d="M10 51h1v1h-1z"/>
<path fill="#6e6e77" d="M11 51h1v1h-1z"/>
<path fill="#62616e" d="M13 51h1v1h-1z"/>
<path fill="#56535f" d="M14 51h1v1h-1z"/>
<path fill="#4d4e60" d="M15 51h1v1h-1z"/>
<path fill="#675b63" d="M17 51h1v1h-1z"/>
<path fill="#675c64" d="M18 51h1v1h-1zM16 61h1v1h-1z"/>
<path fill="#42495b" d="M20 51h1v1h-1z"/>
<path fill="#2f4153" d="M21 51h1v1h-1zM22 53h1v1h-1zM25 56h1v1h-1z"/>
<path fill="#314456" d="M22 51h1v1h-1z"/>
<path fill="#334457" d="M23 51h1v1h-1zM23 56h1v1h-1zM24 57h1v1h-1z"/>
<path fill="#324355" d="M24 51h1v1h-1zM23 55h1v1h-1z"/>
<path fill="#404b5a" d="M26 51h1v1h-1z"/>
<path fill="#50555e" d="M27 51h1v1h-1zM29 51h1v1h-1z"/>
<path fill="#52585f" d="M28 51h1v1h-1z"/>
<path fill="#61636f" d="M30 51h1v1h-1z"/>
<path fill="#52585e" d="M32 51h1v1h-1z"/>
<path fill="#434e58" d="M33 51h1v1h-1z"/>
<path fill="#414d5b" d="M34 51h1v1h-1z"/>
<path fill="#434d5d" d="M35 51h1v1h-1z"/>
<path fill="#384e72" d="M0 52h1v1h-1z"/>
<path fill="#374d70" d="M1 52h1v1h-1z"/>
<path fill="#344a6d" d="M2 52h1v1h-1z"/>
<path fill="#4e6180" d="M3 52h1v1h-1z"/>
<path fill="#60707c" d="M4 52h1v1h-1z"/>
<path fill="#607380" d="M5 52h1v1h-1z"/>
<path fill="#848c9b" d="M6 52h1v1h-1z"/>
<path fill="#a6a699" d="M7 52h1v1h-1z"/>
<path fill="#a39a8d" d="M8 52h1v1h-1z"/>
<path fill="#a89b8c" d="M9 52h1v1h-1z"/>
<path fill="#62636d" d="M11 52h1v1h-1z"/>
<path fill="#5c5761" d="M12 52h1v1h-1z"/>
<path fill="#6b5f62" d="M16 52h1v1h-1z"/>
<path fill="#57515f" d="M19 52h1v1h-1z"/>
<path fill="#454a5b" d="M20 52h1v1h-1zM21 57h1v1h-1z"/>
<path fill="#334557" d="M21 52h1v1h-1z"/>
<path fill="#2e4254" d="M22 52h1v1h-1z"/>
<path fill="#2e4154" d="M23 52h1v1h-1zM24 54h1v1h-1zM26 55h1v1h-1z"/>
<path fill="#314354" d="M24 52h1v1h-1z"/>
<path fill="#384858" d="M25 52h1v1h-1z"/>
<path fill="#46535d" d="M29 52h1v1h-1z"/>
<path fill="#434f5b" d="M30 52h1v1h-1z"/>
<path fill="#3d4857" d="M31 52h1v1h-1z"/>
<path fill="#3e4b5b" d="M32 52h1v1h-1z"/>
<path fill="#414d5c" d="M33 52h1v1h-1z"/>
<path fill="#434e5d" d="M34 52h1v1h-1z"/>
<path fill="#3f4a5a" d="M35 52h1v1h-1z"/>
<path fill="#364b71" d="M0 53h1v1h-1z"/>
<path fill="#4c6081" d="M1 53h1v1h-1z"/>
<path fill="#6f7a99" d="M2 53h1v1h-1zM4 55h1v1h-1z"/>
<path fill="#a0a19a" d="M3 53h1v1h-1z"/>
<path fill="#a7a49b" d="M4 53h1v1h-1z"/>
<path fill="#aaa99c" d="M5 53h1v1h-1z"/>
<path fill="#a8a79a" d="M6 53h1v1h-1z"/>
<path fill="#a3a199" d="M7 53h1v1h-1z"/>
<path fill="#99928f" d="M8 53h1v1h-1z"/>
<path fill="#6f717b" d="M9 53h1v1h-1z"/>
<path fill="#636370" d="M10 53h1v1h-1z"/>
<path fill="#64626c" d="M11 53h1v1h-1z"/>
<path fill="#685e65" d="M12 53h1v1h-1z"/>
<path fill="#6b5f64" d="M14 53h1v1h-1zM13 56h1v1h-1z"/>
<path fill="#6f6062" d="M15 53h1v1h-1z"/>
<path fill="#685b62" d="M18 53h1v1h-1z"/>
<path fill="#605861" d="M19 53h1v1h-1zM6 58h1v1h-1z"/>
<path fill="#374756" d="M21 53h1v1h-1z"/>
<path fill="#2e4053" d="M23 53h1v1h-1zM26 54h1v1h-1z"/>
<path fill="#2f4155" d="M24 53h1v1h-1z"/>
<path fill="#364557" d="M25 53h1v1h-1zM35 60h1v1h-1z"/>
<path fill="#3b485a" d="M27 53h1v1h-1z"/>
<path fill="#374757" d="M28 53h1v1h-1z"/>
<path fill="#394859" d="M29 53h1v1h-1zM29 57h1v1h-1z"/>
<path fill="#394757" d="M31 53h1v1h-1zM30 55h1v1h-1z"/>
<path fill="#3d495a" d="M32 53h1v1h-1z"/>
<path fill="#3f4c5a" d="M33 53h1v1h-1z"/>
<path fill="#444d5c" d="M34 53h1v1h-1z"/>
<path fill="#464f5f" d="M35 53h1v1h-1z"/>
<path fill="#4f6282" d="M0 54h1v1h-1z"/>
<path fill="#848c9e" d="M1 54h1v1h-1z"/>
<path fill="#9fa0a6" d="M2 54h1v1h-1z"/>
<path fill="#a39a8f" d="M3 54h1v1h-1z"/>
<path fill="#a0a299" d="M4 54h1v1h-1z"/>
<path fill="#5d606d" d="M6 54h1v1h-1z"/>
<path fill="#5a5a70" d="M7 54h1v1h-1z"/>
<path fill="#57586e" d="M8 54h1v1h-1z"/>
<path fill="#5a596c" d="M9 54h1v1h-1z"/>
<path fill="#685d64" d="M11 54h1v1h-1zM17 56h1v1h-1z"/>
<path fill="#726367" d="M12 54h1v1h-1z"/>
<path fill="#756464" d="M13 54h1v1h-1z"/>
<path fill="#716266" d="M14 54h1v1h-1z"/>
<path fill="#726064" d="M15 54h1v1h-1z"/>
<path fill="#776667" d="M16 54h1v1h-1z"/>
<path fill="#736366" d="M17 54h1v1h-1z"/>
<path fill="#635960" d="M19 54h1v1h-1zM7 58h1v1h-1zM8 61h1v1h-1z"/>
<path fill="#38495a" d="M22 54h1v1h-1z"/>
<path fill="#2e4252" d="M23 54h1v1h-1z"/>
<path fill="#324456" d="M25 54h1v1h-1z"/>
<path fill="#314455" d="M27 54h1v1h-1z"/>
<path fill="#344658" d="M28 54h1v1h-1z"/>
<path fill="#334254" d="M29 54h1v1h-1z"/>
<path fill="#384455" d="M30 54h1v1h-1z"/>
<path fill="#3e4859" d="M31 54h1v1h-1z"/>
<path fill="#424c5d" d="M32 54h1v1h-1zM32 56h1v1h-1zM28 60h1v1h-1z"/>
<path fill="#46505c" d="M33 54h1v1h-1z"/>
<path fill="#48515b" d="M34 54h1v1h-1z"/>
<path fill="#47525c" d="M35 54h1v1h-1z"/>
<path fill="#7987ac" d="M0 55h1v1h-1z"/>
<path fill="#b2aeaa" d="M1 55h1v1h-1z"/>
<path fill="#b5afab" d="M2 55h1v1h-1z"/>
<path fill="#9c9da3" d="M3 55h1v1h-1z"/>
<path fill="#4a4c5f" d="M6 55h1v1h-1z"/>
<path fill="#4e4f62" d="M7 55h1v1h-1z"/>
<path fill="#555263" d="M8 55h1v1h-1z"/>
<path fill="#5d5863" d="M9 55h1v1h-1z"/>
<path fill="#60585f" d="M10 55h1v1h-1z"/>
<path fill="#675d61" d="M11 55h1v1h-1z"/>
<path fill="#6a5d62" d="M14 55h1v1h-1z"/>
<path fill="#6a5c61" d="M15 55h1v1h-1z"/>
<path fill="#6f5f63" d="M16 55h1v1h-1z"/>
<path fill="#716165" d="M17 55h1v1h-1z"/>
<path fill="#3a4859" d="M22 55h1v1h-1z"/>
<path fill="#304256" d="M24 55h1v1h-1z"/>
<path fill="#2d3f52" d="M25 55h1v1h-1z"/>
<path fill="#2d4052" d="M27 55h1v1h-1zM26 56h1v1h-1z"/>
<path fill="#2f4253" d="M28 55h1v1h-1z"/>
<path fill="#344454" d="M29 55h1v1h-1z"/>
<path fill="#4c545d" d="M33 55h1v1h-1z"/>
<path fill="#46515a" d="M34 55h1v1h-1z"/>
<path fill="#49535c" d="M35 55h1v1h-1z"/>
<path fill="#b5b1ad" d="M1 56h1v1h-1z"/>
<path fill="#9e9fa5" d="M2 56h1v1h-1z"/>
<path fill="#6d7a97" d="M3 56h1v1h-1z"/>
<path fill="#56566c" d="M4 56h1v1h-1z"/>
<path fill="#4b4b5e" d="M6 56h1v1h-1z"/>
<path fill="#5c545e" d="M8 56h1v1h-1z"/>
<path fill="#665960" d="M10 56h1v1h-1z"/>
<path fill="#6a5e62" d="M11 56h1v1h-1z"/>
<path fill="#6b5e63" d="M12 56h1v1h-1z"/>
<path fill="#6a5e63" d="M14 56h1v1h-1z"/>
<path fill="#625862" d="M15 56h1v1h-1z"/>
<path fill="#665a60" d="M16 56h1v1h-1z"/>
<path fill="#605962" d="M18 56h1v1h-1z"/>
<path fill="#5a5760" d="M19 56h1v1h-1z"/>
<path fill="#494c5d" d="M20 56h1v1h-1z"/>
<path fill="#41495c" d="M21 56h1v1h-1z"/>
<path fill="#2e4054" d="M24 56h1v1h-1z"/>
<path fill="#314457" d="M27 56h1v1h-1z"/>
<path fill="#324555" d="M28 56h1v1h-1z"/>
<path fill="#354555" d="M29 56h1v1h-1z"/>
<path fill="#394658" d="M30 56h1v1h-1z"/>
<path fill="#3e485a" d="M31 56h1v1h-1z"/>
<path fill="#46515e" d="M33 56h1v1h-1z"/>
<path fill="#424f58" d="M34 56h1v1h-1z"/>
<path fill="#45535b" d="M35 56h1v1h-1z"/>
<path fill="#c0bdbf" d="M0 57h1v1h-1z"/>
<path fill="#b1ada6" d="M1 57h1v1h-1z"/>
<path fill="#6d7897" d="M2 57h1v1h-1z"/>
<path fill="#57566b" d="M3 57h1v1h-1z"/>
<path fill="#545161" d="M4 57h2v1h-2z"/>
<path fill="#57505d" d="M6 57h1v1h-1z"/>
<path fill="#695d62" d="M9 57h1v1h-1z"/>
<path fill="#726466" d="M10 57h1v1h-1z"/>
<path fill="#726263" d="M11 57h1v1h-1z"/>
<path fill="#726264" d="M12 57h1v1h-1zM5 61h1v1h-1z"/>
<path fill="#685b61" d="M13 57h1v1h-1z"/>
<path fill="#60585e" d="M14 57h1v1h-1z"/>
<path fill="#545361" d="M16 57h1v1h-1z"/>
<path fill="#595761" d="M18 57h1v1h-1z"/>
<path fill="#55545f" d="M19 57h1v1h-1z"/>
<path fill="#52555f" d="M20 57h1v1h-1z"/>
<path fill="#424b5d" d="M22 57h1v1h-1z"/>
<path fill="#314255" d="M23 57h1v1h-1z"/>
<path fill="#2e4153" d="M25 57h1v1h-1z"/>
<path fill="#2c4051" d="M26 57h1v1h-1z"/>
<path fill="#2f4054" d="M27 57h1v1h-1z"/>
<path fill="#344656" d="M28 57h1v1h-1z"/>
<path fill="#3a4757" d="M30 57h1v1h-1z"/>
<path fill="#374656" d="M32 57h1v1h-1z"/>
<path fill="#3b4a58" d="M34 57h1v1h-1z"/>
<path fill="#b1a89b" d="M0 58h1v1h-1z"/>
<path fill="#afaa9e" d="M1 58h1v1h-1z"/>
<path fill="#6d7996" d="M2 58h1v1h-1z"/>
<path fill="#535062" d="M3 58h1v1h-1z"/>
<path fill="#555262" d="M4 58h1v1h-1z"/>
<path fill="#56505f" d="M5 58h1v1h-1z"/>
<path fill="#6d5f63" d="M8 58h1v1h-1z"/>
<path fill="#706063" d="M9 58h1v1h-1z"/>
<path fill="#7c6a69" d="M10 58h1v1h-1zM4 61h1v1h-1z"/>
<path fill="#7c6b68" d="M11 58h1v1h-1z"/>
<path fill="#796766" d="M12 58h1v1h-1z"/>
<path fill="#736465" d="M13 58h1v1h-1z"/>
<path fill="#534f60" d="M15 58h1v1h-1z"/>
<path fill="#4d4d5f" d="M16 58h1v1h-1z"/>
<path fill="#4b4d60" d="M17 58h1v1h-1z"/>
<path fill="#4b4e60" d="M18 58h1v1h-1z"/>
<path fill="#494c5c" d="M19 58h1v1h-1z"/>
<path fill="#53535c" d="M20 58h1v1h-1z"/>
<path fill="#51535d" d="M21 58h1v1h-1z"/>
<path fill="#484e5e" d="M22 58h1v1h-1z"/>
<path fill="#384859" d="M24 58h1v1h-1z"/>
<path fill="#304154" d="M25 58h1v1h-1z"/>
<path fill="#2f4354" d="M26 58h1v1h-1z"/>
<path fill="#344757" d="M27 58h1v1h-1z"/>
<path fill="#374657" d="M28 58h1v1h-1z"/>
<path fill="#434b5b" d="M29 58h1v1h-1z"/>
<path fill="#454b5a" d="M30 58h1v1h-1z"/>
<path fill="#444a5b" d="M31 58h1v1h-1z"/>
<path fill="#394759" d="M32 58h1v1h-1zM27 60h1v1h-1z"/>
<path fill="#384959" d="M33 58h1v1h-1z"/>
<path fill="#364656" d="M34 58h1v1h-1z"/>
<path fill="#374859" d="M35 58h1v1h-1z"/>
<path fill="#a79b8d" d="M0 59h1v1h-1z"/>
<path fill="#99908f" d="M1 59h1v1h-1z"/>
<path fill="#615f69" d="M2 59h1v1h-1z"/>
<path fill="#514d5f" d="M3 59h1v1h-1z"/>
<path fill="#695e64" d="M5 59h1v1h-1z"/>
<path fill="#64595f" d="M6 59h1v1h-1z"/>
<path fill="#645a62" d="M7 59h2v1h-2z"/>
<path fill="#756465" d="M9 59h1v1h-1z"/>
<path fill="#86736d" d="M11 59h1v1h-1z"/>
<path fill="#7e6d6a" d="M12 59h1v1h-1z"/>
<path fill="#7e6c6b" d="M13 59h1v1h-1z"/>
<path fill="#716162" d="M14 59h1v1h-1z"/>
<path fill="#595462" d="M15 59h1v1h-1z"/>
<path fill="#4a4d5f" d="M16 59h1v1h-1z"/>
<path fill="#40495d" d="M18 59h1v1h-1z"/>
<path fill="#484c5c" d="M19 59h1v1h-1z"/>
<path fill="#555461" d="M20 59h1v1h-1z"/>
<path fill="#55545e" d="M21 59h1v1h-1z"/>
<path fill="#555760" d="M22 59h1v1h-1z"/>
<path fill="#444c5e" d="M23 59h1v1h-1z"/>
<path fill="#3c475a" d="M24 59h1v1h-1z"/>
<path fill="#384958" d="M25 59h1v1h-1zM26 60h1v1h-1z"/>
<path fill="#304254" d="M26 59h1v1h-1z"/>
<path fill="#364757" d="M27 59h1v1h-1z"/>
<path fill="#4e545c" d="M30 59h1v1h-1z"/>
<path fill="#454c5a" d="M31 59h1v1h-1z"/>
<path fill="#3d4858" d="M32 59h1v1h-1z"/>
<path fill="#364658" d="M34 59h1v1h-1z"/>
<path fill="#354656" d="M35 59h1v1h-1z"/>
<path fill="#a79b8b" d="M0 60h1v1h-1z"/>
<path fill="#857c88" d="M1 60h1v1h-1z"/>
<path fill="#6d5e61" d="M5 60h1v1h-1z"/>
<path fill="#685d62" d="M6 60h1v1h-1z"/>
<path fill="#615861" d="M8 60h1v1h-1z"/>
<path fill="#857169" d="M10 60h1v1h-1z"/>
<path fill="#a07d71" d="M11 60h1v1h-1z"/>
<path fill="#92776d" d="M12 60h1v1h-1z"/>
<path fill="#84716a" d="M13 60h1v1h-1z"/>
<path fill="#826f6d" d="M14 60h1v1h-1z"/>
<path fill="#685d65" d="M15 60h1v1h-1z"/>
<path fill="#424a5c" d="M17 60h1v1h-1z"/>
<path fill="#41485b" d="M18 60h1v1h-1z"/>
<path fill="#46495d" d="M19 60h1v1h-1z"/>
<path fill="#53505e" d="M20 60h1v1h-1z"/>
<path fill="#53515e" d="M21 60h1v1h-1z"/>
<path fill="#50515e" d="M22 60h1v1h-1z"/>
<path fill="#454a5e" d="M24 60h1v1h-1z"/>
<path fill="#3d4b5b" d="M25 60h1v1h-1z"/>
<path fill="#50565c" d="M29 60h1v1h-1z"/>
<path fill="#48535c" d="M31 60h1v1h-1z"/>
<path fill="#3e4c5a" d="M32 60h1v1h-1z"/>
<path fill="#354758" d="M33 60h1v1h-1z"/>
<path fill="#344456" d="M34 60h1v1h-1z"/>
<path fill="#87756f" d="M0 61h1v1h-1z"/>
<path fill="#78737d" d="M1 61h1v1h-1z"/>
<path fill="#695d64" d="M6 61h1v1h-1z"/>
<path fill="#60555f" d="M7 61h1v1h-1z"/>
<path fill="#7f6d6b" d="M9 61h1v1h-1zM15 61h1v1h-1z"/>
<path fill="#a27d72" d="M11 61h1v1h-1z"/>
<path fill="#b28377" d="M12 61h1v1h-1z"/>
<path fill="#b18276" d="M13 61h1v1h-1z"/>
<path fill="#8e756c" d="M14 61h1v1h-1z"/>
<path fill="#474c5e" d="M18 61h1v1h-1z"/>
<path fill="#43475b" d="M19 61h1v1h-1z"/>
<path fill="#4a4d60" d="M20 61h1v1h-1z"/>
<path fill="#4a4a5c" d="M21 61h1v1h-1z"/>
<path fill="#4a4c60" d="M23 61h1v1h-1z"/>
<path fill="#44485b" d="M24 61h1v1h-1z"/>
<path fill="#414b5c" d="M25 61h1v1h-1z"/>
<path fill="#424e5b" d="M26 61h1v1h-1z"/>
<path fill="#3d4a5a" d="M27 61h1v1h-1z"/>
<path fill="#444c5b" d="M28 61h1v1h-1z"/>
<path fill="#54575f" d="M29 61h1v1h-1z"/>
<path fill="#464f59" d="M31 61h1v1h-1z"/>
<path fill="#3c4a5b" d="M32 61h1v1h-1z"/>
<path fill="#304152" d="M33 61h1v1h-1z"/>
<path fill="#344455" d="M35 61h1v1h-1z"/>
</g>
<g transform="translate(873.0,53.0) scale(19.611,19.597)" shape-rendering="crispEdges">
<path fill="#005bff" d="M0 0h4v1h-4zM0 1h3v1h-3zM0 2h3v1h-3zM0 3h2v1h-2zM0 4h2v1h-2zM0 5h2v1h-2zM0 6h2v1h-2zM0 7h1v1h-1zM0 8h1v1h-1z"/>
<path fill="#552597" d="M4 0h13v1h-13zM22 0h2v1h-2zM25 0h3v1h-3zM3 1h14v1h-14zM22 1h6v1h-6zM3 2h14v1h-14zM21 2h5v1h-5zM2 3h17v1h-17zM21 3h2v1h-2zM2 4h17v1h-17zM21 4h2v1h-2zM2 5h21v1h-21zM2 6h21v1h-21zM1 7h23v1h-23zM1 8h20v1h-20zM22 8h2v1h-2zM0 9h24v1h-24zM0 10h24v1h-24zM0 11h24v1h-24zM0 12h18v1h-18zM21 12h3v1h-3zM0 13h15v1h-15zM21 13h3v1h-3zM0 14h14v1h-14zM20 14h3v1h-3zM0 15h14v1h-14zM19 15h3v1h-3zM0 16h15v1h-15zM19 16h2v1h-2zM0 17h17v1h-17zM18 17h3v1h-3zM0 18h17v1h-17zM19 18h2v1h-2zM0 19h18v1h-18zM20 19h1v1h-1zM0 20h18v1h-18zM21 20h1v1h-1zM0 21h20v1h-20zM22 21h1v1h-1zM0 22h23v1h-23zM0 23h24v1h-24zM0 24h24v1h-24zM0 25h24v1h-24zM0 26h24v1h-24zM0 27h24v1h-24zM0 28h24v1h-24zM0 29h24v1h-24zM0 30h24v1h-24zM0 31h24v1h-24zM0 32h13v1h-13zM15 32h2v1h-2zM20 32h4v1h-4zM0 33h13v1h-13zM14 33h2v1h-2zM20 33h4v1h-4zM0 34h12v1h-12zM14 34h2v1h-2zM18 34h6v1h-6zM0 35h11v1h-11zM16 35h8v1h-8zM0 36h12v1h-12zM15 36h9v1h-9zM0 37h11v1h-11zM15 37h9v1h-9zM0 38h11v1h-11zM15 38h2v1h-2zM0 39h12v1h-12zM15 39h1v1h-1zM0 40h13v1h-13zM14 40h2v1h-2zM0 41h13v1h-13zM14 41h2v1h-2zM0 42h16v1h-16zM0 43h16v1h-16zM0 44h16v1h-16zM0 45h16v1h-16zM0 46h16v1h-16zM0 47h16v1h-16zM0 48h15v1h-15zM0 49h15v1h-15zM0 50h15v1h-15zM0 51h7v1h-7zM9 51h5v1h-5zM0 52h7v1h-7zM8 52h6v1h-6zM0 53h12v1h-12zM0 54h3v1h-3zM4 54h7v1h-7zM0 55h2v1h-2zM3 55h6v1h-6zM0 56h1v1h-1zM2 56h5v1h-5zM1 57h3v1h-3zM1 58h3v1h-3zM0 59h4v1h-4zM0 60h3v1h-3zM1 61h1v1h-1z"/>
<path fill="#a76797" d="M17 0h5v1h-5zM24 0h1v1h-1zM17 1h5v1h-5zM17 2h4v1h-4zM19 3h2v1h-2zM19 4h2v1h-2zM21 8h1v1h-1zM18 12h3v1h-3zM15 13h6v1h-6zM14 14h6v1h-6zM14 15h5v1h-5zM15 16h4v1h-4zM17 17h1v1h-1zM17 18h2v1h-2zM18 19h2v1h-2zM18 20h3v1h-3zM20 21h2v1h-2zM13 32h2v1h-2zM17 32h3v1h-3zM13 33h1v1h-1zM16 33h4v1h-4zM12 34h2v1h-2zM16 34h2v1h-2zM11 35h5v1h-5zM12 36h3v1h-3zM11 37h4v1h-4zM11 38h4v1h-4zM12 39h3v1h-3zM13 40h1v1h-1zM13 41h1v1h-1zM7 51h2v1h-2zM7 52h1v1h-1zM3 54h1v1h-1zM2 55h1v1h-1zM1 56h1v1h-1zM0 57h1v1h-1zM0 58h1v1h-1z"/>
<path fill="#822759" d="M28 0h1v1h-1zM23 3h1v1h-1zM25 5h1v1h-1zM26 9h1v1h-1zM24 20h1v1h-1zM15 53h1v1h-1zM13 55h1v1h-1zM9 58h1v1h-1z"/>
<path fill="#7e2559" d="M29 0h1v1h-1zM28 15h1v1h-1zM25 25h1v1h-1zM17 51h1v1h-1z"/>
<path fill="#812759" d="M30 0h1v1h-1zM24 4h1v1h-1zM32 7h1v1h-1zM17 52h1v1h-1zM16 55h1v1h-1zM8 58h1v1h-1z"/>
<path fill="#84295a" d="M31 0h1v1h-1zM23 14h1v1h-1z"/>
<path fill="#7c2458" d="M32 0h1v1h-1zM29 1h1v1h-1zM32 8h1v1h-1zM28 14h1v1h-1zM26 21h3v1h-3zM18 48h1v1h-1zM19 53h1v1h-1zM18 56h1v1h-1zM6 58h1v1h-1zM8 60h1v1h-1z"/>
<path fill="#782157" d="M33 0h1v1h-1zM26 3h1v1h-1zM30 9h1v1h-1zM35 9h1v1h-1zM29 11h1v1h-1zM26 25h1v1h-1zM24 35h1v1h-1zM16 48h1v1h-1zM17 50h1v1h-1zM19 52h1v1h-1zM5 58h1v1h-1z"/>
<path fill="#792258" d="M34 0h1v1h-1zM32 1h1v1h-1zM32 4h1v1h-1zM28 7h1v1h-1zM28 9h1v1h-1zM29 15h1v1h-1zM17 47h1v1h-1zM15 57h1v1h-1zM15 59h1v1h-1z"/>
<path fill="#7a2357" d="M35 0h1v1h-1zM26 5h1v1h-1zM16 41h1v1h-1zM19 47h1v1h-1z"/>
<path fill="#7e2457" d="M28 1h1v1h-1zM10 56h1v1h-1z"/>
<path fill="#7f2558" d="M30 1h1v1h-1zM35 7h1v1h-1zM25 19h1v1h-1zM18 53h1v1h-1zM18 54h1v1h-1zM13 57h1v1h-1z"/>
<path fill="#7e2558" d="M31 1h1v1h-1zM25 4h1v1h-1zM31 5h1v1h-1zM31 7h1v1h-1zM33 8h1v1h-1zM27 16h1v1h-1zM25 22h1v1h-1zM25 24h1v1h-1zM21 39h1v1h-1zM13 53h1v1h-1zM16 56h1v1h-1zM8 57h1v1h-1z"/>
<path fill="#782258" d="M33 1h2v1h-2zM35 4h1v1h-1zM30 6h1v1h-1zM29 10h1v1h-1zM29 14h1v1h-1zM29 18h1v1h-1zM18 39h1v1h-1zM15 52h1v1h-1z"/>
<path fill="#7b2358" d="M35 1h1v1h-1zM26 6h1v1h-1zM28 11h1v1h-1zM25 23h1v1h-1zM18 47h1v1h-1zM19 55h1v1h-1z"/>
<path fill="#782257" d="M26 2h1v1h-1zM26 4h1v1h-1zM30 7h1v1h-1zM30 8h1v1h-1zM34 9h1v1h-1zM29 17h1v1h-1zM28 20h1v1h-1zM27 22h1v1h-1zM18 45h1v1h-1z"/>
<path fill="#772157" d="M27 2h1v1h-1zM35 3h1v1h-1zM31 4h1v1h-1zM29 7h1v1h-1zM28 19h1v1h-1zM29 21h1v1h-1zM25 35h1v1h-1zM17 39h1v1h-1zM7 56h1v1h-1z"/>
<path fill="#741f56" d="M28 2h1v1h-1zM30 11h1v1h-1z"/>
<path fill="#741f57" d="M29 2h2v1h-2zM33 2h2v1h-2zM32 3h1v1h-1zM30 4h1v1h-1zM24 36h1v1h-1zM19 38h2v1h-2zM20 47h1v1h-1zM16 51h1v1h-1zM16 58h1v1h-1z"/>
<path fill="#731e57" d="M31 2h1v1h-1zM33 3h1v1h-1zM27 25h1v1h-1zM16 46h1v1h-1zM16 47h1v1h-1z"/>
<path fill="#762159" d="M32 2h1v1h-1z"/>
<path fill="#772056" d="M35 2h1v1h-1z"/>
<path fill="#7b2357" d="M24 3h1v1h-1zM27 8h1v1h-1zM28 16h1v1h-1zM27 17h1v1h-1zM22 41h1v1h-1zM9 56h1v1h-1zM7 57h1v1h-1z"/>
<path fill="#7b2458" d="M25 3h1v1h-1zM26 22h1v1h-1zM25 34h1v1h-1zM20 41h1v1h-1zM16 43h1v1h-1z"/>
<path fill="#731e56" d="M27 3h1v1h-1zM21 61h1v1h-1z"/>
<path fill="#721e56" d="M28 3h1v1h-1zM28 6h1v1h-1zM30 20h1v1h-1zM29 22h1v1h-1zM22 61h1v1h-1z"/>
<path fill="#711e55" d="M29 3h1v1h-1zM30 58h1v1h-1z"/>
<path fill="#742058" d="M30 3h1v1h-1zM23 39h1v1h-1zM15 51h1v1h-1z"/>
<path fill="#742057" d="M31 3h1v1h-1zM27 4h1v1h-1zM27 5h1v1h-1zM29 6h1v1h-1zM30 17h1v1h-1z"/>
<path fill="#731f56" d="M34 3h1v1h-1z"/>
<path fill="#82285a" d="M23 4h1v1h-1zM24 21h1v1h-1zM14 54h1v1h-1z"/>
<path fill="#762257" d="M28 4h1v1h-1zM27 44h1v1h-1zM20 57h1v1h-1z"/>
<path fill="#752257" d="M29 4h1v1h-1z"/>
<path fill="#782358" d="M33 4h1v1h-1zM19 45h1v1h-1z"/>
<path fill="#762057" d="M34 4h1v1h-1zM27 6h1v1h-1zM29 12h1v1h-1zM29 13h1v1h-1zM26 24h1v1h-1zM16 50h1v1h-1z"/>
<path fill="#852c5f" d="M23 5h1v1h-1z"/>
<path fill="#882c5c" d="M24 5h1v1h-1zM26 10h1v1h-1zM24 11h1v1h-1zM12 59h2v1h-2zM3 61h1v1h-1zM9 61h1v1h-1zM15 61h1v1h-1z"/>
<path fill="#721f57" d="M28 5h1v1h-1zM31 10h1v1h-1zM31 13h1v1h-1zM31 15h1v1h-1zM25 38h1v1h-1z"/>
<path fill="#711f57" d="M29 5h1v1h-1zM32 19h1v1h-1zM18 61h1v1h-1z"/>
<path fill="#752056" d="M30 5h1v1h-1z"/>
<path fill="#832859" d="M32 5h1v1h-1zM16 53h1v1h-1zM11 57h2v1h-2zM5 61h1v1h-1z"/>
<path fill="#83285a" d="M33 5h1v1h-1zM32 6h1v1h-1zM17 53h1v1h-1zM12 54h1v1h-1zM17 54h1v1h-1zM10 57h1v1h-1zM13 58h1v1h-1z"/>
<path fill="#7d2457" d="M34 5h1v1h-1zM26 7h1v1h-1zM27 10h1v1h-1zM7 58h1v1h-1zM6 59h1v1h-1z"/>
<path fill="#7a2458" d="M35 5h1v1h-1zM27 19h1v1h-1zM23 40h1v1h-1z"/>
<path fill="#862d60" d="M23 6h1v1h-1z"/>
<path fill="#892d5c" d="M24 6h1v1h-1zM26 12h1v1h-1zM26 13h1v1h-1zM21 16h1v1h-1zM24 16h1v1h-1z"/>
<path fill="#882d5c" d="M25 6h1v1h-1zM24 14h1v1h-1zM10 59h1v1h-1z"/>
<path fill="#7e2557" d="M31 6h1v1h-1zM27 11h1v1h-1z"/>
<path fill="#852a5a" d="M33 6h1v1h-1z"/>
<path fill="#83295b" d="M34 6h1v1h-1zM24 10h1v1h-1z"/>
<path fill="#7d2459" d="M35 6h1v1h-1zM27 9h1v1h-1zM8 59h1v1h-1z"/>
<path fill="#8d2e5d" d="M24 7h1v1h-1z"/>
<path fill="#872b5c" d="M25 7h1v1h-1z"/>
<path fill="#792257" d="M27 7h1v1h-1zM19 46h1v1h-1zM17 49h1v1h-1z"/>
<path fill="#862b5b" d="M33 7h1v1h-1z"/>
<path fill="#822859" d="M34 7h1v1h-1zM25 17h1v1h-1zM12 55h1v1h-1z"/>
<path fill="#872c5c" d="M24 8h1v1h-1zM24 9h1v1h-1zM22 15h1v1h-1zM24 17h1v1h-1z"/>
<path fill="#882b5b" d="M25 8h1v1h-1zM23 18h1v1h-1z"/>
<path fill="#7f2559" d="M26 8h1v1h-1zM34 8h2v1h-2zM26 17h1v1h-1zM21 40h2v1h-2zM18 51h1v1h-1zM18 55h1v1h-1zM16 61h1v1h-1z"/>
<path fill="#7a2358" d="M28 8h1v1h-1zM28 10h1v1h-1zM28 13h1v1h-1zM16 40h1v1h-1zM16 42h1v1h-1zM17 48h1v1h-1z"/>
<path fill="#792358" d="M29 8h1v1h-1zM29 9h1v1h-1zM18 46h1v1h-1zM19 56h1v1h-1zM18 57h1v1h-1z"/>
<path fill="#7b2257" d="M31 8h1v1h-1zM22 39h1v1h-1zM7 60h1v1h-1z"/>
<path fill="#892c5b" d="M25 9h1v1h-1z"/>
<path fill="#762158" d="M31 9h1v1h-1zM30 10h1v1h-1zM30 13h1v1h-1zM29 19h1v1h-1zM26 23h1v1h-1zM17 45h1v1h-1zM17 46h1v1h-1z"/>
<path fill="#701f56" d="M32 9h1v1h-1zM31 11h1v1h-1zM31 20h1v1h-1zM28 52h1v1h-1zM20 53h1v1h-1zM32 54h1v1h-1zM22 57h1v1h-1zM28 60h1v1h-1zM28 61h1v1h-1z"/>
<path fill="#722056" d="M33 9h1v1h-1zM22 42h1v1h-1z"/>
<path fill="#8f305d" d="M25 10h1v1h-1zM23 20h1v1h-1z"/>
<path fill="#6e1f56" d="M32 10h1v1h-1zM32 52h1v1h-1zM25 60h1v1h-1z"/>
<path fill="#6f1f56" d="M33 10h1v1h-1zM35 12h1v1h-1zM35 14h1v1h-1zM32 15h1v1h-1zM23 42h1v1h-1zM25 44h1v1h-1zM25 61h1v1h-1z"/>
<path fill="#711e56" d="M34 10h1v1h-1zM31 14h1v1h-1zM31 17h1v1h-1zM31 19h1v1h-1zM20 52h1v1h-1zM21 57h1v1h-1zM19 60h1v1h-1zM23 60h1v1h-1z"/>
<path fill="#752058" d="M35 10h1v1h-1zM17 38h1v1h-1z"/>
<path fill="#8f315e" d="M25 11h1v1h-1z"/>
<path fill="#872c5b" d="M26 11h1v1h-1z"/>
<path fill="#6d1d55" d="M32 11h1v1h-1zM34 11h1v1h-1zM34 14h1v1h-1zM33 17h1v1h-1zM35 18h1v1h-1zM27 53h1v1h-1zM24 59h1v1h-1z"/>
<path fill="#6c1d54" d="M33 11h1v1h-1zM33 15h1v1h-1zM33 16h1v1h-1zM27 42h1v1h-1zM23 46h1v1h-1zM23 47h1v1h-1zM23 48h1v1h-1zM22 49h2v1h-2zM25 52h1v1h-1zM31 53h1v1h-1zM21 54h1v1h-1zM30 55h1v1h-1zM30 56h1v1h-1zM30 57h1v1h-1zM23 58h1v1h-1z"/>
<path fill="#721f58" d="M35 11h1v1h-1z"/>
<path fill="#882c5d" d="M24 12h1v1h-1z"/>
<path fill="#8a2d5b" d="M25 12h1v1h-1zM22 16h1v1h-1z"/>
<path fill="#7e2458" d="M27 12h1v1h-1z"/>
<path fill="#7a2257" d="M28 12h1v1h-1zM28 17h1v1h-1zM27 18h1v1h-1zM27 20h1v1h-1zM8 56h1v1h-1z"/>
<path fill="#752057" d="M30 12h1v1h-1zM30 14h1v1h-1zM30 18h1v1h-1zM21 38h1v1h-1zM16 45h1v1h-1z"/>
<path fill="#6e1e55" d="M31 12h1v1h-1zM34 18h1v1h-1zM30 45h1v1h-1zM32 53h1v1h-1zM31 54h1v1h-1zM31 55h1v1h-1zM22 56h1v1h-1zM27 61h1v1h-1z"/>
<path fill="#6d1e55" d="M32 12h1v1h-1zM32 13h3v1h-3zM35 16h1v1h-1zM34 17h1v1h-1zM34 21h1v1h-1zM25 42h1v1h-1zM30 44h1v1h-1zM22 48h1v1h-1zM25 51h1v1h-1z"/>
<path fill="#6c1e55" d="M33 12h1v1h-1zM33 14h1v1h-1zM35 44h1v1h-1zM24 46h1v1h-1zM23 50h1v1h-1zM29 57h1v1h-1z"/>
<path fill="#6d1e56" d="M34 12h1v1h-1zM34 15h1v1h-1zM26 52h1v1h-1z"/>
<path fill="#852a5b" d="M24 13h1v1h-1zM25 16h1v1h-1z"/>
<path fill="#8a2e5c" d="M25 13h1v1h-1zM23 15h2v1h-2zM13 60h1v1h-1z"/>
<path fill="#7f2659" d="M27 13h1v1h-1zM27 14h1v1h-1zM25 20h1v1h-1zM25 26h1v1h-1zM18 52h1v1h-1zM11 54h1v1h-1zM14 56h1v1h-1zM17 56h1v1h-1zM5 59h1v1h-1zM2 61h1v1h-1zM6 61h1v1h-1z"/>
<path fill="#6e1d55" d="M35 13h1v1h-1zM35 15h1v1h-1zM34 19h1v1h-1zM32 21h1v1h-1zM27 23h1v1h-1zM27 43h1v1h-1zM22 44h1v1h-1zM31 56h1v1h-1z"/>
<path fill="#8b2f5d" d="M25 14h1v1h-1zM23 16h1v1h-1zM21 17h1v1h-1zM11 59h1v1h-1z"/>
<path fill="#882c5b" d="M26 14h1v1h-1zM23 19h1v1h-1zM9 60h1v1h-1z"/>
<path fill="#6f1e56" d="M32 14h1v1h-1zM32 16h1v1h-1zM32 17h1v1h-1zM35 19h1v1h-1zM32 20h1v1h-1zM33 21h1v1h-1zM24 42h1v1h-1zM21 45h1v1h-1zM21 56h1v1h-1zM17 59h2v1h-2z"/>
<path fill="#8a2d5c" d="M25 15h1v1h-1z"/>
<path fill="#862b5a" d="M26 15h1v1h-1z"/>
<path fill="#812658" d="M27 15h1v1h-1zM25 33h1v1h-1zM5 60h1v1h-1z"/>
<path fill="#751f58" d="M30 15h1v1h-1z"/>
<path fill="#822758" d="M26 16h1v1h-1z"/>
<path fill="#792359" d="M29 16h1v1h-1zM28 22h1v1h-1zM18 49h1v1h-1z"/>
<path fill="#751f57" d="M30 16h1v1h-1zM18 38h1v1h-1zM19 50h1v1h-1zM19 51h1v1h-1z"/>
<path fill="#721e57" d="M31 16h1v1h-1zM28 23h1v1h-1z"/>
<path fill="#6b1d54" d="M34 16h1v1h-1zM25 43h1v1h-1zM22 50h1v1h-1zM24 50h1v1h-1zM21 53h1v1h-1zM28 53h1v1h-1zM28 58h1v1h-1zM27 59h1v1h-1z"/>
<path fill="#8b2f5c" d="M22 17h1v1h-1z"/>
<path fill="#8a2e5d" d="M23 17h1v1h-1z"/>
<path fill="#6e1e56" d="M35 17h1v1h-1zM33 18h1v1h-1zM26 42h1v1h-1zM26 43h1v1h-1zM27 52h1v1h-1zM30 53h1v1h-1zM20 54h1v1h-1zM21 55h1v1h-1zM28 59h1v1h-1z"/>
<path fill="#943765" d="M21 18h1v1h-1z"/>
<path fill="#8e305d" d="M22 18h1v1h-1z"/>
<path fill="#832758" d="M24 18h1v1h-1z"/>
<path fill="#802558" d="M25 18h1v1h-1zM15 55h1v1h-1z"/>
<path fill="#7d2458" d="M26 18h1v1h-1zM26 20h1v1h-1zM19 54h1v1h-1zM15 56h1v1h-1zM7 59h1v1h-1zM8 61h1v1h-1z"/>
<path fill="#7a2359" d="M28 18h1v1h-1z"/>
<path fill="#731f58" d="M31 18h1v1h-1zM25 36h1v1h-1zM17 58h1v1h-1zM23 61h1v1h-1z"/>
<path fill="#701f57" d="M32 18h1v1h-1zM33 19h1v1h-1zM34 20h1v1h-1zM20 50h1v1h-1zM23 59h1v1h-1z"/>
<path fill="#a14576" d="M21 19h1v1h-1z"/>
<path fill="#953966" d="M22 19h1v1h-1zM23 22h1v1h-1z"/>
<path fill="#84285a" d="M24 19h1v1h-1zM9 59h1v1h-1zM4 60h1v1h-1z"/>
<path fill="#7c2457" d="M26 19h1v1h-1zM10 55h1v1h-1zM14 57h1v1h-1z"/>
<path fill="#731f57" d="M30 19h1v1h-1zM22 38h2v1h-2zM20 48h1v1h-1zM16 59h1v1h-1zM17 61h1v1h-1zM20 61h1v1h-1z"/>
<path fill="#a04474" d="M22 20h1v1h-1z"/>
<path fill="#762058" d="M29 20h1v1h-1zM15 58h1v1h-1z"/>
<path fill="#6f1d56" d="M33 20h1v1h-1zM21 47h1v1h-1zM18 60h1v1h-1z"/>
<path fill="#6f1f55" d="M35 20h1v1h-1zM31 45h1v1h-1z"/>
<path fill="#953865" d="M23 21h1v1h-1z"/>
<path fill="#802659" d="M25 21h1v1h-1zM11 56h3v1h-3z"/>
<path fill="#6d1a54" d="M30 21h1v1h-1zM31 23h1v1h-1zM29 25h1v1h-1z"/>
<path fill="#6c1a52" d="M31 21h1v1h-1z"/>
<path fill="#6d1f55" d="M35 21h1v1h-1z"/>
<path fill="#832c61" d="M24 22h1v1h-1z"/>
<path fill="#6c1952" d="M30 22h1v1h-1z"/>
<path fill="#6c1b54" d="M31 22h1v1h-1zM21 46h1v1h-1z"/>
<path fill="#bb6797" d="M32 22h4v1h-4zM32 23h4v1h-4zM30 24h6v1h-6zM30 25h6v1h-6zM26 26h10v1h-10zM26 27h10v1h-10zM26 28h10v1h-10zM26 29h10v1h-10zM26 30h10v1h-10zM26 31h10v1h-10zM26 32h10v1h-10zM26 33h10v1h-10zM26 34h10v1h-10zM26 35h10v1h-10zM26 36h10v1h-10zM26 37h10v1h-10zM26 38h10v1h-10zM26 39h10v1h-10zM26 40h10v1h-10zM26 41h10v1h-10zM28 42h8v1h-8zM28 43h8v1h-8z"/>
<path fill="#832d62" d="M24 23h1v1h-1z"/>
<path fill="#6c1a53" d="M29 23h1v1h-1zM25 37h1v1h-1z"/>
<path fill="#6c1a54" d="M30 23h1v1h-1z"/>
<path fill="#842d63" d="M24 24h1v1h-1z"/>
<path fill="#6d1b54" d="M27 24h2v1h-2zM24 37h1v1h-1z"/>
<path fill="#6b1a53" d="M29 24h1v1h-1z"/>
<path fill="#8a3268" d="M24 25h1v1h-1z"/>
<path fill="#701d56" d="M28 25h1v1h-1zM19 61h1v1h-1z"/>
<path fill="#893067" d="M24 26h1v1h-1z"/>
<path fill="#8a3166" d="M24 27h1v1h-1z"/>
<path fill="#862f64" d="M25 27h1v1h-1z"/>
<path fill="#91325f" d="M24 28h1v1h-1z"/>
<path fill="#8e315e" d="M25 28h1v1h-1z"/>
<path fill="#90315d" d="M24 29h1v1h-1zM25 32h1v1h-1z"/>
<path fill="#90305d" d="M25 29h1v1h-1zM12 60h1v1h-1zM10 61h1v1h-1z"/>
<path fill="#91315e" d="M24 30h1v1h-1zM24 31h1v1h-1zM24 32h1v1h-1z"/>
<path fill="#91325d" d="M25 30h1v1h-1z"/>
<path fill="#92315d" d="M25 31h1v1h-1z"/>
<path fill="#8b3267" d="M24 33h1v1h-1z"/>
<path fill="#7c275b" d="M24 34h1v1h-1z"/>
<path fill="#711d55" d="M24 38h1v1h-1zM20 49h1v1h-1z"/>
<path fill="#782259" d="M16 39h1v1h-1zM15 49h1v1h-1z"/>
<path fill="#772158" d="M19 39h1v1h-1zM19 40h1v1h-1zM15 50h1v1h-1zM14 52h1v1h-1zM4 57h2v1h-2zM4 59h1v1h-1z"/>
<path fill="#751f56" d="M20 39h1v1h-1z"/>
<path fill="#762357" d="M24 39h1v1h-1zM18 41h1v1h-1zM24 41h1v1h-1zM29 45h1v1h-1z"/>
<path fill="#752256" d="M25 39h1v1h-1zM34 47h1v1h-1zM29 59h1v1h-1z"/>
<path fill="#782357" d="M17 40h1v1h-1z"/>
<path fill="#772357" d="M18 40h1v1h-1zM23 41h1v1h-1zM20 42h1v1h-1zM18 44h1v1h-1z"/>
<path fill="#7b2258" d="M20 40h1v1h-1z"/>
<path fill="#762256" d="M24 40h1v1h-1zM28 45h1v1h-1zM21 58h1v1h-1z"/>
<path fill="#782558" d="M25 40h1v1h-1z"/>
<path fill="#792458" d="M17 41h1v1h-1z"/>
<path fill="#762157" d="M19 41h1v1h-1zM17 44h1v1h-1zM20 60h2v1h-2z"/>
<path fill="#7d2558" d="M21 41h1v1h-1zM14 58h1v1h-1z"/>
<path fill="#762356" d="M25 41h1v1h-1zM21 42h1v1h-1zM20 43h1v1h-1zM26 45h1v1h-1zM32 48h1v1h-1z"/>
<path fill="#782356" d="M17 42h1v1h-1z"/>
<path fill="#772457" d="M18 42h1v1h-1zM31 47h2v1h-2zM33 48h1v1h-1z"/>
<path fill="#782458" d="M19 42h1v1h-1zM31 48h1v1h-1z"/>
<path fill="#782256" d="M17 43h1v1h-1z"/>
<path fill="#772458" d="M18 43h2v1h-2zM32 50h1v1h-1z"/>
<path fill="#722057" d="M21 43h2v1h-2zM26 44h1v1h-1zM22 58h1v1h-1z"/>
<path fill="#661953" d="M23 43h1v1h-1z"/>
<path fill="#6b1d55" d="M24 43h1v1h-1zM24 44h1v1h-1zM22 47h1v1h-1zM24 58h1v1h-1z"/>
<path fill="#772156" d="M16 44h1v1h-1z"/>
<path fill="#772356" d="M19 44h1v1h-1z"/>
<path fill="#711f56" d="M20 44h2v1h-2z"/>
<path fill="#681a54" d="M23 44h1v1h-1z"/>
<path fill="#732058" d="M28 44h1v1h-1zM18 58h1v1h-1z"/>
<path fill="#702057" d="M29 44h1v1h-1z"/>
<path fill="#6a1c54" d="M31 44h1v1h-1zM23 45h1v1h-1zM23 51h1v1h-1zM21 52h1v1h-1zM24 57h1v1h-1z"/>
<path fill="#691b54" d="M32 44h1v1h-1z"/>
<path fill="#691b52" d="M33 44h1v1h-1z"/>
<path fill="#6a1d53" d="M34 44h1v1h-1z"/>
<path fill="#721f56" d="M20 45h1v1h-1zM20 55h1v1h-1zM20 56h1v1h-1zM19 58h1v1h-1zM19 59h1v1h-1z"/>
<path fill="#691a53" d="M22 45h1v1h-1zM22 46h1v1h-1z"/>
<path fill="#6c1e54" d="M24 45h1v1h-1zM26 53h1v1h-1zM25 59h1v1h-1z"/>
<path fill="#722257" d="M25 45h1v1h-1z"/>
<path fill="#7d295e" d="M27 45h1v1h-1zM28 46h1v1h-1zM25 48h1v1h-1zM30 48h1v1h-1zM29 50h1v1h-1z"/>
<path fill="#702056" d="M32 45h1v1h-1zM26 61h1v1h-1z"/>
<path fill="#722156" d="M33 45h1v1h-1z"/>
<path fill="#712156" d="M34 45h1v1h-1z"/>
<path fill="#722256" d="M35 45h1v1h-1z"/>
<path fill="#752158" d="M20 46h1v1h-1zM19 49h1v1h-1zM16 60h1v1h-1z"/>
<path fill="#762457" d="M25 46h1v1h-1zM29 46h2v1h-2zM33 46h1v1h-1zM28 51h1v1h-1zM32 51h1v1h-1z"/>
<path fill="#7d295f" d="M26 46h1v1h-1zM25 47h1v1h-1zM30 49h1v1h-1zM30 50h1v1h-1z"/>
<path fill="#812c62" d="M27 46h1v1h-1z"/>
<path fill="#732256" d="M31 46h1v1h-1z"/>
<path fill="#712155" d="M32 46h1v1h-1z"/>
<path fill="#722255" d="M34 46h1v1h-1z"/>
<path fill="#712255" d="M35 46h1v1h-1z"/>
<path fill="#6f2054" d="M24 47h1v1h-1zM24 49h1v1h-1z"/>
<path fill="#842f64" d="M26 47h1v1h-1z"/>
<path fill="#842e63" d="M27 47h1v1h-1zM28 48h1v1h-1z"/>
<path fill="#832e63" d="M28 47h1v1h-1z"/>
<path fill="#7c285d" d="M29 47h1v1h-1zM31 49h1v1h-1zM27 50h1v1h-1z"/>
<path fill="#7c285e" d="M30 47h1v1h-1zM30 51h1v1h-1z"/>
<path fill="#752356" d="M33 47h1v1h-1zM29 60h1v1h-1z"/>
<path fill="#455059" d="M35 47h1v1h-1z"/>
<path fill="#762259" d="M15 48h1v1h-1z"/>
<path fill="#782158" d="M19 48h1v1h-1zM18 50h1v1h-1z"/>
<path fill="#6c1b53" d="M21 48h1v1h-1z"/>
<path fill="#702055" d="M24 48h1v1h-1zM30 52h1v1h-1z"/>
<path fill="#822d62" d="M26 48h1v1h-1z"/>
<path fill="#863064" d="M27 48h1v1h-1z"/>
<path fill="#7e295f" d="M29 48h1v1h-1z"/>
<path fill="#54595f" d="M34 48h1v1h-1z"/>
<path fill="#3d4c5a" d="M35 48h1v1h-1z"/>
<path fill="#782156" d="M16 49h1v1h-1zM6 57h1v1h-1z"/>
<path fill="#6d1c55" d="M21 49h1v1h-1z"/>
<path fill="#7c295e" d="M25 49h1v1h-1zM31 50h1v1h-1z"/>
<path fill="#832e62" d="M26 49h1v1h-1z"/>
<path fill="#852e64" d="M27 49h1v1h-1z"/>
<path fill="#852f64" d="M28 49h1v1h-1z"/>
<path fill="#812c61" d="M29 49h1v1h-1z"/>
<path fill="#7b275c" d="M32 49h1v1h-1z"/>
<path fill="#50565b" d="M33 49h1v1h-1z"/>
<path fill="#51585f" d="M34 49h1v1h-1z"/>
<path fill="#394857" d="M35 49h1v1h-1z"/>
<path fill="#691c53" d="M21 50h1v1h-1zM22 51h1v1h-1zM27 54h1v1h-1zM23 55h1v1h-1zM28 56h1v1h-1z"/>
<path fill="#712157" d="M25 50h1v1h-1z"/>
<path fill="#762458" d="M26 50h1v1h-1z"/>
<path fill="#7b285d" d="M28 50h1v1h-1zM31 51h1v1h-1z"/>
<path fill="#49545b" d="M33 50h1v1h-1z"/>
<path fill="#454f5a" d="M34 50h1v1h-1z"/>
<path fill="#3f4c59" d="M35 50h1v1h-1z"/>
<path fill="#772257" d="M14 51h1v1h-1zM19 57h1v1h-1zM21 59h1v1h-1z"/>
<path fill="#701e56" d="M20 51h1v1h-1zM17 60h1v1h-1z"/>
<path fill="#681b52" d="M21 51h1v1h-1zM22 53h1v1h-1zM23 54h1v1h-1z"/>
<path fill="#691b53" d="M24 51h1v1h-1zM24 52h1v1h-1zM23 57h1v1h-1zM26 59h1v1h-1z"/>
<path fill="#6f1e55" d="M26 51h1v1h-1z"/>
<path fill="#752357" d="M27 51h1v1h-1zM29 51h1v1h-1z"/>
<path fill="#434e58" d="M33 51h1v1h-1z"/>
<path fill="#414d5b" d="M34 51h1v1h-1z"/>
<path fill="#434d5d" d="M35 51h1v1h-1z"/>
<path fill="#802658" d="M16 52h1v1h-1zM14 55h1v1h-1z"/>
<path fill="#681b53" d="M22 52h1v1h-1zM24 53h1v1h-1zM26 55h1v1h-1zM28 55h1v1h-1zM25 58h2v1h-2z"/>
<path fill="#681a53" d="M23 52h1v1h-1zM25 56h1v1h-1zM27 57h1v1h-1z"/>
<path fill="#712256" d="M29 52h1v1h-1z"/>
<path fill="#6e1d54" d="M31 52h1v1h-1z"/>
<path fill="#414d5c" d="M33 52h1v1h-1z"/>
<path fill="#434e5d" d="M34 52h1v1h-1z"/>
<path fill="#3f4a5a" d="M35 52h1v1h-1z"/>
<path fill="#7f265a" d="M12 53h1v1h-1zM15 60h1v1h-1z"/>
<path fill="#802759" d="M14 53h1v1h-1z"/>
<path fill="#681a52" d="M23 53h1v1h-1zM26 54h1v1h-1zM25 57h1v1h-1z"/>
<path fill="#6b1c54" d="M25 53h1v1h-1z"/>
<path fill="#6c1d55" d="M29 53h1v1h-1zM22 55h1v1h-1zM27 60h1v1h-1z"/>
<path fill="#3f4c5a" d="M33 53h1v1h-1z"/>
<path fill="#444d5c" d="M34 53h1v1h-1z"/>
<path fill="#464f5f" d="M35 53h1v1h-1z"/>
<path fill="#842959" d="M13 54h1v1h-1z"/>
<path fill="#832759" d="M15 54h1v1h-1z"/>
<path fill="#85295a" d="M16 54h1v1h-1z"/>
<path fill="#6b1e55" d="M22 54h1v1h-1z"/>
<path fill="#671b53" d="M24 54h1v1h-1z"/>
<path fill="#691c54" d="M25 54h1v1h-1zM23 56h1v1h-1zM27 56h1v1h-1z"/>
<path fill="#6a1d54" d="M28 54h1v1h-1zM28 57h1v1h-1zM27 58h1v1h-1z"/>
<path fill="#6a1b53" d="M29 54h1v1h-1z"/>
<path fill="#6c1c53" d="M30 54h1v1h-1z"/>
<path fill="#46505c" d="M33 54h1v1h-1z"/>
<path fill="#48515b" d="M34 54h1v1h-1z"/>
<path fill="#47525c" d="M35 54h1v1h-1z"/>
<path fill="#7a2459" d="M9 55h1v1h-1z"/>
<path fill="#7e2658" d="M11 55h1v1h-1z"/>
<path fill="#82275a" d="M17 55h1v1h-1z"/>
<path fill="#681b54" d="M24 55h1v1h-1z"/>
<path fill="#671a52" d="M25 55h1v1h-1zM27 55h1v1h-1zM26 56h1v1h-1zM26 57h1v1h-1z"/>
<path fill="#6a1c53" d="M29 55h1v1h-1zM29 56h1v1h-1z"/>
<path fill="#444b5c" d="M32 55h1v1h-1z"/>
<path fill="#4c545d" d="M33 55h1v1h-1z"/>
<path fill="#46515a" d="M34 55h1v1h-1z"/>
<path fill="#49535c" d="M35 55h1v1h-1z"/>
<path fill="#671a53" d="M24 56h1v1h-1z"/>
<path fill="#424c5d" d="M32 56h1v1h-1z"/>
<path fill="#46515e" d="M33 56h1v1h-1z"/>
<path fill="#424f58" d="M34 56h1v1h-1z"/>
<path fill="#45535b" d="M35 56h1v1h-1z"/>
<path fill="#7f2658" d="M9 57h1v1h-1zM6 60h1v1h-1z"/>
<path fill="#772258" d="M16 57h1v1h-1zM4 58h1v1h-1zM20 59h1v1h-1z"/>
<path fill="#772057" d="M17 57h1v1h-1z"/>
<path fill="#3c4859" d="M31 57h1v1h-1z"/>
<path fill="#374656" d="M32 57h1v1h-1z"/>
<path fill="#3a4858" d="M33 57h1v1h-1z"/>
<path fill="#3b4a58" d="M34 57h1v1h-1z"/>
<path fill="#394959" d="M35 57h1v1h-1z"/>
<path fill="#872b5b" d="M10 58h2v1h-2zM4 61h1v1h-1z"/>
<path fill="#862a5a" d="M12 58h1v1h-1z"/>
<path fill="#772256" d="M20 58h1v1h-1z"/>
<path fill="#701e55" d="M29 58h1v1h-1zM24 61h1v1h-1z"/>
<path fill="#444a5b" d="M31 58h1v1h-1z"/>
<path fill="#394759" d="M32 58h1v1h-1z"/>
<path fill="#384959" d="M33 58h1v1h-1z"/>
<path fill="#364656" d="M34 58h1v1h-1z"/>
<path fill="#374859" d="M35 58h1v1h-1z"/>
<path fill="#822858" d="M14 59h1v1h-1z"/>
<path fill="#772358" d="M22 59h1v1h-1z"/>
<path fill="#4e545c" d="M30 59h1v1h-1z"/>
<path fill="#454c5a" d="M31 59h1v1h-1z"/>
<path fill="#3d4858" d="M32 59h1v1h-1z"/>
<path fill="#384758" d="M33 59h1v1h-1z"/>
<path fill="#364658" d="M34 59h1v1h-1z"/>
<path fill="#354656" d="M35 59h1v1h-1z"/>
<path fill="#7c2459" d="M3 60h1v1h-1z"/>
<path fill="#8a2e5b" d="M10 60h1v1h-1z"/>
<path fill="#95325e" d="M11 60h1v1h-1z"/>
<path fill="#892d5d" d="M14 60h1v1h-1z"/>
<path fill="#752157" d="M22 60h1v1h-1z"/>
<path fill="#711e57" d="M24 60h1v1h-1z"/>
<path fill="#6b1e54" d="M26 60h1v1h-1z"/>
<path fill="#51565d" d="M30 60h1v1h-1zM30 61h1v1h-1z"/>
<path fill="#48535c" d="M31 60h1v1h-1z"/>
<path fill="#3e4c5a" d="M32 60h1v1h-1z"/>
<path fill="#354758" d="M33 60h1v1h-1z"/>
<path fill="#344456" d="M34 60h1v1h-1z"/>
<path fill="#364557" d="M35 60h1v1h-1z"/>
<path fill="#8b305e" d="M0 61h1v1h-1z"/>
<path fill="#7c2357" d="M7 61h1v1h-1z"/>
<path fill="#96335f" d="M11 61h1v1h-1z"/>
<path fill="#9c3561" d="M12 61h2v1h-2z"/>
<path fill="#8e305c" d="M14 61h1v1h-1z"/>
<path fill="#54575f" d="M29 61h1v1h-1z"/>
<path fill="#464f59" d="M31 61h1v1h-1z"/>
<path fill="#3c4a5b" d="M32 61h1v1h-1z"/>
<path fill="#304152" d="M33 61h1v1h-1z"/>
<path fill="#334656" d="M34 61h1v1h-1z"/>
<path fill="#344455" d="M35 61h1v1h-1z"/>
</g>
<g transform="translate(1730.0,53.0) scale(19.611,19.597)" shape-rendering="crispEdges">
<path fill="#1a1aff" d="M0 0h1v1h-1z"/>
<path fill="#1e1eff" d="M1 0h1v1h-1zM0 1h1v1h-1z"/>
<path fill="#3131ff" d="M2 0h1v1h-1z"/>
<path fill="#4444ff" d="M3 0h1v1h-1z"/>
<path fill="#7b2697" d="M4 0h1v1h-1zM12 4h1v1h-1zM17 19h1v1h-1zM17 22h1v1h-1zM15 23h1v1h-1zM12 26h1v1h-1zM14 26h1v1h-1zM16 28h1v1h-1zM10 30h1v1h-1zM13 39h1v1h-1zM13 40h1v1h-1zM11 49h1v1h-1zM9 51h1v1h-1z"/>
<path fill="#7f2b97" d="M5 0h1v1h-1zM17 23h1v1h-1zM19 31h1v1h-1zM13 41h1v1h-1z"/>
<path fill="#832f97" d="M6 0h1v1h-1zM16 34h1v1h-1zM6 52h1v1h-1z"/>
<path fill="#893497" d="M7 0h1v1h-1zM18 16h1v1h-1zM20 22h1v1h-1zM14 30h1v1h-1zM12 31h1v1h-1zM17 34h1v1h-1zM12 49h1v1h-1z"/>
<path fill="#8c3797" d="M8 0h1v1h-1z"/>
<path fill="#923e97" d="M9 0h1v1h-1zM13 0h1v1h-1zM14 39h1v1h-1z"/>
<path fill="#9d4897" d="M10 0h2v1h-2zM21 3h1v1h-1zM22 9h1v1h-1zM14 29h1v1h-1zM14 46h1v1h-1z"/>
<path fill="#943f97" d="M12 0h1v1h-1zM22 10h1v1h-1zM22 11h1v1h-1z"/>
<path fill="#913d97" d="M14 0h1v1h-1zM13 1h2v1h-2zM21 21h1v1h-1zM16 35h1v1h-1zM6 53h1v1h-1zM4 54h1v1h-1zM0 55h1v1h-1z"/>
<path fill="#8d3897" d="M15 0h1v1h-1z"/>
<path fill="#792497" d="M16 0h1v1h-1zM20 1h1v1h-1zM14 2h1v1h-1zM6 3h1v1h-1zM10 5h3v1h-3zM14 12h1v1h-1zM21 12h1v1h-1zM16 17h1v1h-1zM16 18h1v1h-1zM16 19h1v1h-1zM13 22h2v1h-2zM13 23h1v1h-1zM13 24h1v1h-1zM10 28h1v1h-1zM18 30h2v1h-2zM16 32h1v1h-1zM14 35h1v1h-1zM0 39h1v1h-1zM12 40h1v1h-1zM3 52h1v1h-1z"/>
<path fill="#701b97" d="M17 0h1v1h-1zM19 0h1v1h-1zM19 1h1v1h-1zM17 2h1v1h-1zM19 2h1v1h-1zM4 3h1v1h-1zM19 3h1v1h-1zM2 4h1v1h-1zM4 4h1v1h-1zM7 4h1v1h-1zM2 5h1v1h-1zM8 5h1v1h-1zM10 6h1v1h-1zM19 7h1v1h-1zM1 10h1v1h-1zM20 12h1v1h-1zM20 13h1v1h-1zM14 14h1v1h-1zM17 15h2v1h-2zM15 17h1v1h-1zM13 19h1v1h-1zM11 20h1v1h-1zM4 22h1v1h-1zM18 23h1v1h-1zM10 27h1v1h-1zM21 30h1v1h-1zM12 32h1v1h-1zM10 33h1v1h-1zM13 35h1v1h-1zM11 38h1v1h-1zM11 39h1v1h-1zM11 40h1v1h-1zM1 41h1v1h-1zM11 41h1v1h-1zM1 42h1v1h-1zM4 42h1v1h-1zM6 44h1v1h-1zM10 48h1v1h-1z"/>
<path fill="#6e1a97" d="M18 0h1v1h-1zM18 1h1v1h-1zM5 4h2v1h-2zM4 6h1v1h-1zM8 6h1v1h-1zM15 6h1v1h-1zM21 6h1v1h-1zM1 7h4v1h-4zM8 7h2v1h-2zM18 7h1v1h-1zM2 8h2v1h-2zM8 8h2v1h-2zM20 8h1v1h-1zM2 9h2v1h-2zM13 9h1v1h-1zM15 10h3v1h-3zM18 11h2v1h-2zM16 12h1v1h-1zM18 12h2v1h-2zM0 13h2v1h-2zM5 13h1v1h-1zM17 13h1v1h-1zM0 14h4v1h-4zM9 14h4v1h-4zM17 14h1v1h-1zM0 15h2v1h-2zM4 15h1v1h-1zM15 15h1v1h-1zM0 16h2v1h-2zM7 16h1v1h-1zM0 17h2v1h-2zM7 17h1v1h-1zM0 18h2v1h-2zM12 18h1v1h-1zM0 19h2v1h-2zM0 20h2v1h-2zM9 20h1v1h-1zM0 21h2v1h-2zM2 22h1v1h-1zM7 22h2v1h-2zM5 23h4v1h-4zM5 24h4v1h-4zM5 25h4v1h-4zM11 25h1v1h-1zM0 28h1v1h-1zM7 29h1v1h-1zM14 33h1v1h-1zM0 35h1v1h-1zM10 35h2v1h-2zM0 36h2v1h-2zM8 37h3v1h-3zM8 38h3v1h-3zM8 39h3v1h-3zM8 40h3v1h-3zM2 41h1v1h-1zM8 41h3v1h-3zM8 42h3v1h-3zM8 43h3v1h-3zM8 44h3v1h-3zM0 45h3v1h-3zM6 45h2v1h-2zM0 46h3v1h-3zM0 47h3v1h-3zM6 47h1v1h-1zM8 47h1v1h-1zM2 48h1v1h-1zM2 49h1v1h-1zM2 51h1v1h-1z"/>
<path fill="#792597" d="M20 0h1v1h-1zM5 2h1v1h-1zM16 20h1v1h-1zM16 26h1v1h-1zM16 27h1v1h-1zM17 30h1v1h-1zM14 36h1v1h-1zM10 49h1v1h-1z"/>
<path fill="#8b3697" d="M21 0h1v1h-1zM21 1h1v1h-1zM1 55h1v1h-1z"/>
<path fill="#933f97" d="M22 0h1v1h-1zM20 32h1v1h-1z"/>
<path fill="#9f4b97" d="M23 0h1v1h-1zM22 8h1v1h-1zM15 36h1v1h-1z"/>
<path fill="#a14c97" d="M24 0h1v1h-1z"/>
<path fill="#a24d97" d="M25 0h1v1h-1z"/>
<path fill="#b25e97" d="M26 0h1v1h-1zM22 7h1v1h-1zM22 27h1v1h-1zM14 47h1v1h-1z"/>
<path fill="#bb598a" d="M27 0h1v1h-1zM23 9h1v1h-1zM23 27h1v1h-1zM15 43h1v1h-1z"/>
<path fill="#bb3f70" d="M28 0h1v1h-1zM28 1h1v1h-1zM24 10h1v1h-1zM22 16h1v1h-1zM23 35h1v1h-1zM23 36h1v1h-1zM23 37h1v1h-1zM16 39h1v1h-1z"/>
<path fill="#bb3868" d="M29 0h1v1h-1zM24 37h1v1h-1z"/>
<path fill="#bb3464" d="M30 0h1v1h-1zM23 4h1v1h-1zM16 46h1v1h-1z"/>
<path fill="#bb2c5d" d="M31 0h1v1h-1zM24 4h1v1h-1zM24 5h1v1h-1zM23 19h1v1h-1zM17 39h1v1h-1zM6 57h1v1h-1zM27 59h1v1h-1z"/>
<path fill="#bb2555" d="M32 0h1v1h-1zM29 3h1v1h-1zM26 4h1v1h-1zM25 21h1v1h-1zM25 23h1v1h-1zM25 33h1v1h-1zM29 55h1v1h-1zM9 57h1v1h-1zM26 57h1v1h-1zM8 58h1v1h-1zM25 58h1v1h-1zM9 60h2v1h-2z"/>
<path fill="#bb0e3e" d="M33 0h1v1h-1zM33 3h1v1h-1zM33 4h1v1h-1zM29 5h1v1h-1zM19 41h1v1h-1zM22 42h1v1h-1zM20 43h1v1h-1zM16 60h1v1h-1z"/>
<path fill="#bb0d3d" d="M34 0h2v1h-2zM34 1h2v1h-2zM28 6h6v1h-6zM28 7h6v1h-6zM33 15h1v1h-1zM21 43h1v1h-1zM21 44h1v1h-1zM20 45h2v1h-2zM20 46h2v1h-2zM20 47h2v1h-2zM15 59h1v1h-1z"/>
<path fill="#2222ff" d="M1 1h1v1h-1z"/>
<path fill="#3030ff" d="M2 1h1v1h-1z"/>
<path fill="#701c97" d="M3 1h1v1h-1zM14 3h1v1h-1zM20 5h1v1h-1zM14 11h1v1h-1zM15 18h1v1h-1zM15 19h1v1h-1zM4 20h1v1h-1zM12 24h1v1h-1zM21 29h1v1h-1zM3 44h1v1h-1z"/>
<path fill="#782497" d="M4 1h1v1h-1zM20 2h1v1h-1zM8 4h1v1h-1zM14 13h1v1h-1zM12 21h2v1h-2zM18 26h1v1h-1zM18 27h1v1h-1zM12 38h1v1h-1zM12 39h1v1h-1zM0 40h1v1h-1zM4 43h1v1h-1zM4 49h1v1h-1zM9 49h1v1h-1zM4 50h1v1h-1z"/>
<path fill="#7c2797" d="M5 1h1v1h-1zM6 2h1v1h-1zM12 3h1v1h-1zM10 4h1v1h-1zM17 18h1v1h-1zM18 20h1v1h-1zM19 21h1v1h-1zM15 24h1v1h-1zM20 24h1v1h-1zM17 25h1v1h-1zM12 46h1v1h-1zM3 53h1v1h-1z"/>
<path fill="#812d97" d="M6 1h1v1h-1zM11 3h1v1h-1zM14 27h1v1h-1zM11 31h1v1h-1zM14 38h1v1h-1zM12 43h1v1h-1zM12 44h1v1h-1z"/>
<path fill="#873397" d="M7 1h1v1h-1zM13 48h1v1h-1z"/>
<path fill="#8a3597" d="M8 1h1v1h-1zM21 24h1v1h-1zM19 32h1v1h-1zM8 52h2v1h-2z"/>
<path fill="#913c97" d="M9 1h1v1h-1zM11 2h1v1h-1zM3 55h1v1h-1z"/>
<path fill="#9c4897" d="M10 1h1v1h-1zM13 29h1v1h-1zM8 53h1v1h-1zM2 56h1v1h-1z"/>
<path fill="#9c4797" d="M11 1h1v1h-1zM20 20h1v1h-1zM0 56h1v1h-1z"/>
<path fill="#933e97" d="M12 1h1v1h-1zM21 2h1v1h-1z"/>
<path fill="#903c97" d="M15 1h1v1h-1zM5 53h1v1h-1z"/>
<path fill="#772297" d="M16 1h1v1h-1zM5 3h1v1h-1zM17 3h1v1h-1zM16 4h2v1h-2zM13 5h1v1h-1zM15 8h2v1h-2zM0 9h1v1h-1zM15 9h2v1h-2zM13 13h1v1h-1zM15 13h1v1h-1zM19 14h1v1h-1zM16 16h1v1h-1zM4 21h1v1h-1zM11 21h1v1h-1zM20 30h1v1h-1zM12 37h1v1h-1zM0 38h1v1h-1zM3 49h1v1h-1zM7 49h1v1h-1zM3 50h1v1h-1zM2 52h1v1h-1z"/>
<path fill="#6f1b97" d="M17 1h1v1h-1zM18 3h1v1h-1zM14 4h2v1h-2zM18 4h2v1h-2zM14 5h1v1h-1zM16 5h2v1h-2zM19 5h1v1h-1zM9 6h1v1h-1zM15 7h1v1h-1zM14 8h1v1h-1zM1 9h1v1h-1zM14 9h1v1h-1zM17 9h2v1h-2zM21 10h1v1h-1zM1 11h1v1h-1zM20 11h1v1h-1zM0 12h1v1h-1zM12 12h1v1h-1zM16 13h1v1h-1zM8 14h1v1h-1zM15 14h1v1h-1zM18 14h1v1h-1zM2 15h1v1h-1zM16 15h1v1h-1zM2 16h1v1h-1zM10 20h1v1h-1zM14 20h1v1h-1zM0 22h1v1h-1zM5 22h1v1h-1zM10 22h1v1h-1zM18 24h1v1h-1zM0 26h1v1h-1zM9 29h1v1h-1zM10 31h1v1h-1zM11 34h1v1h-1zM12 36h1v1h-1zM0 37h1v1h-1zM11 37h1v1h-1zM2 40h1v1h-1zM3 42h1v1h-1zM5 42h2v1h-2zM11 42h1v1h-1zM1 43h1v1h-1zM0 44h1v1h-1zM9 48h1v1h-1zM7 50h1v1h-1zM8 51h1v1h-1z"/>
<path fill="#9d4997" d="M22 1h1v1h-1z"/>
<path fill="#a34f97" d="M23 1h1v1h-1z"/>
<path fill="#a45097" d="M24 1h1v1h-1z"/>
<path fill="#a75297" d="M25 1h1v1h-1zM22 28h1v1h-1zM10 52h1v1h-1z"/>
<path fill="#b25d97" d="M26 1h1v1h-1zM19 17h1v1h-1zM22 25h1v1h-1z"/>
<path fill="#bb5081" d="M27 1h1v1h-1zM23 23h1v1h-1zM7 55h1v1h-1z"/>
<path fill="#bb3667" d="M29 1h1v1h-1zM24 9h1v1h-1zM23 15h1v1h-1zM25 37h1v1h-1zM11 54h1v1h-1z"/>
<path fill="#bb2d5e" d="M30 1h1v1h-1zM24 15h1v1h-1zM23 17h1v1h-1z"/>
<path fill="#bb2a5b" d="M31 1h1v1h-1zM26 3h1v1h-1zM24 21h1v1h-1zM15 51h1v1h-1zM14 52h1v1h-1zM7 57h1v1h-1zM27 58h2v1h-2zM26 59h1v1h-1z"/>
<path fill="#bb1949" d="M32 1h1v1h-1zM35 8h1v1h-1zM26 9h1v1h-1zM28 10h5v1h-5zM28 11h5v1h-5zM34 12h1v1h-1zM26 14h1v1h-1zM27 18h1v1h-1zM35 18h1v1h-1zM27 19h9v1h-9zM18 44h1v1h-1zM18 45h1v1h-1zM18 46h1v1h-1zM18 47h1v1h-1zM18 48h1v1h-1zM25 48h1v1h-1zM18 49h1v1h-1zM25 49h3v1h-3zM18 50h15v1h-15zM18 51h15v1h-15zM18 52h4v1h-4zM25 52h6v1h-6zM18 53h2v1h-2zM25 53h1v1h-1zM17 54h2v1h-2zM16 55h3v1h-3zM14 56h1v1h-1zM18 56h1v1h-1zM18 57h1v1h-1zM21 58h1v1h-1zM21 59h1v1h-1zM21 60h1v1h-1zM12 61h1v1h-1zM21 61h1v1h-1z"/>
<path fill="#bb0e3f" d="M33 1h1v1h-1zM33 2h1v1h-1zM30 5h1v1h-1zM32 5h1v1h-1zM34 5h1v1h-1zM33 8h1v1h-1zM28 13h1v1h-1zM31 13h1v1h-1zM32 17h1v1h-1zM22 41h1v1h-1zM22 47h1v1h-1zM13 60h1v1h-1z"/>
<path fill="#3333ff" d="M0 2h3v1h-3zM1 5h1v1h-1zM0 6h2v1h-2z"/>
<path fill="#6f1a97" d="M3 2h1v1h-1zM18 2h1v1h-1zM2 3h2v1h-2zM4 5h1v1h-1zM15 5h1v1h-1zM18 5h1v1h-1zM2 6h2v1h-2zM11 6h4v1h-4zM18 6h1v1h-1zM20 6h1v1h-1zM14 7h1v1h-1zM16 7h1v1h-1zM1 8h1v1h-1zM17 8h2v1h-2zM20 9h1v1h-1zM13 10h2v1h-2zM18 10h3v1h-3zM6 11h1v1h-1zM12 11h1v1h-1zM1 12h1v1h-1zM5 12h2v1h-2zM6 13h2v1h-2zM12 13h1v1h-1zM18 13h2v1h-2zM6 14h1v1h-1zM13 14h1v1h-1zM16 14h1v1h-1zM8 15h1v1h-1zM15 16h1v1h-1zM2 17h2v1h-2zM13 18h2v1h-2zM12 19h1v1h-1zM6 20h1v1h-1zM2 21h1v1h-1zM6 21h1v1h-1zM9 21h1v1h-1zM1 22h1v1h-1zM3 22h1v1h-1zM6 22h1v1h-1zM9 22h1v1h-1zM1 23h1v1h-1zM0 24h1v1h-1zM1 26h1v1h-1zM10 26h1v1h-1zM9 28h1v1h-1zM10 32h1v1h-1zM14 32h1v1h-1zM11 36h1v1h-1zM1 37h1v1h-1zM2 38h1v1h-1zM2 42h1v1h-1zM7 42h1v1h-1zM2 43h1v1h-1zM7 43h1v1h-1zM11 43h1v1h-1zM1 44h2v1h-2zM7 44h1v1h-1zM11 44h1v1h-1zM3 45h3v1h-3zM11 45h1v1h-1zM7 46h1v1h-1zM11 46h1v1h-1zM11 47h1v1h-1zM3 48h3v1h-3zM6 51h1v1h-1z"/>
<path fill="#711c97" d="M4 2h1v1h-1zM15 3h1v1h-1zM12 20h1v1h-1zM14 21h1v1h-1zM11 22h1v1h-1zM12 23h1v1h-1zM19 25h1v1h-1zM11 26h1v1h-1zM19 28h1v1h-1zM19 29h2v1h-2zM21 31h1v1h-1zM15 33h1v1h-1zM1 38h1v1h-1zM11 48h1v1h-1zM6 50h1v1h-1zM5 51h1v1h-1z"/>
<path fill="#812c97" d="M7 2h1v1h-1zM13 2h1v1h-1zM10 3h1v1h-1zM19 15h1v1h-1zM18 19h1v1h-1zM20 25h1v1h-1zM21 27h1v1h-1zM15 28h1v1h-1zM15 30h1v1h-1zM15 34h1v1h-1zM12 47h1v1h-1z"/>
<path fill="#822d97" d="M8 2h1v1h-1zM13 27h1v1h-1zM11 29h1v1h-1zM15 29h1v1h-1zM17 33h1v1h-1zM13 42h1v1h-1zM13 46h1v1h-1zM4 53h1v1h-1zM2 54h1v1h-1z"/>
<path fill="#832e97" d="M9 2h1v1h-1zM12 2h1v1h-1zM20 21h1v1h-1zM12 28h1v1h-1zM14 31h1v1h-1zM13 44h1v1h-1zM13 45h1v1h-1zM13 47h1v1h-1zM12 48h1v1h-1zM3 54h1v1h-1z"/>
<path fill="#893597" d="M10 2h1v1h-1zM18 18h1v1h-1zM12 30h1v1h-1zM18 33h1v1h-1z"/>
<path fill="#772397" d="M15 2h1v1h-1zM16 3h1v1h-1zM13 4h1v1h-1zM9 5h1v1h-1zM0 10h1v1h-1zM5 20h1v1h-1zM18 28h1v1h-1zM1 39h1v1h-1zM0 41h1v1h-1zM0 42h1v1h-1zM7 48h1v1h-1zM6 49h1v1h-1zM8 49h1v1h-1zM5 50h1v1h-1z"/>
<path fill="#721d97" d="M16 2h1v1h-1zM1 40h1v1h-1zM4 51h1v1h-1zM2 53h1v1h-1z"/>
<path fill="#bb5a8b" d="M22 2h1v1h-1zM23 13h1v1h-1zM21 15h1v1h-1zM20 18h1v1h-1zM20 35h1v1h-1zM15 40h1v1h-1z"/>
<path fill="#bb5383" d="M23 2h1v1h-1zM22 20h1v1h-1zM23 34h1v1h-1z"/>
<path fill="#bb4c7d" d="M24 2h1v1h-1z"/>
<path fill="#bb4a7b" d="M25 2h1v1h-1zM27 2h1v1h-1zM22 15h1v1h-1zM21 16h1v1h-1zM23 22h1v1h-1z"/>
<path fill="#bb4b7c" d="M26 2h1v1h-1zM16 45h1v1h-1zM8 55h1v1h-1z"/>
<path fill="#bb3566" d="M28 2h1v1h-1zM23 16h1v1h-1zM8 56h1v1h-1zM5 57h1v1h-1zM4 59h1v1h-1z"/>
<path fill="#bb2c5c" d="M29 2h1v1h-1zM23 18h1v1h-1zM18 38h1v1h-1zM12 54h1v1h-1zM10 55h1v1h-1zM9 56h1v1h-1z"/>
<path fill="#bb2657" d="M30 2h1v1h-1zM28 3h1v1h-1zM25 4h1v1h-1zM24 18h1v1h-1zM24 20h1v1h-1zM8 57h1v1h-1zM29 57h1v1h-1zM26 58h1v1h-1zM29 58h1v1h-1zM29 59h1v1h-1zM29 60h1v1h-1zM3 61h1v1h-1zM28 61h1v1h-1z"/>
<path fill="#bb2353" d="M31 2h1v1h-1zM30 3h1v1h-1zM29 4h1v1h-1zM25 12h1v1h-1zM25 18h1v1h-1zM25 19h1v1h-1zM29 22h2v1h-2zM30 23h1v1h-1zM25 28h1v1h-1zM26 42h1v1h-1zM25 44h1v1h-1zM35 44h1v1h-1zM30 48h2v1h-2zM15 53h1v1h-1zM14 54h1v1h-1zM28 54h2v1h-2zM23 58h1v1h-1zM23 59h1v1h-1zM24 60h1v1h-1z"/>
<path fill="#bb1848" d="M32 2h1v1h-1zM27 12h1v1h-1zM27 24h1v1h-1zM29 24h1v1h-1zM24 42h1v1h-1zM24 48h1v1h-1zM23 52h1v1h-1zM24 53h1v1h-1zM12 59h1v1h-1zM17 59h1v1h-1z"/>
<path fill="#bb0c3d" d="M34 2h2v1h-2zM34 4h1v1h-1zM32 14h1v1h-1zM28 15h1v1h-1zM20 42h1v1h-1zM16 61h1v1h-1z"/>
<path fill="#4545ff" d="M0 3h2v1h-2zM1 4h1v1h-1z"/>
<path fill="#7a2597" d="M7 3h1v1h-1zM9 4h1v1h-1zM17 16h1v1h-1zM16 21h2v1h-2zM15 22h1v1h-1zM18 22h1v1h-1zM14 23h1v1h-1zM14 24h1v1h-1zM14 25h1v1h-1zM11 27h1v1h-1zM17 27h1v1h-1zM20 27h1v1h-1zM17 28h1v1h-1zM17 29h1v1h-1zM16 31h1v1h-1zM20 31h1v1h-1zM13 37h1v1h-1zM9 50h1v1h-1z"/>
<path fill="#7b2797" d="M8 3h1v1h-1zM16 22h1v1h-1zM15 31h1v1h-1zM18 31h1v1h-1zM17 32h1v1h-1zM16 33h1v1h-1zM13 38h1v1h-1z"/>
<path fill="#7c2897" d="M9 3h1v1h-1zM7 15h1v1h-1zM5 19h1v1h-1zM20 23h1v1h-1zM16 29h1v1h-1zM5 43h1v1h-1z"/>
<path fill="#721e97" d="M13 3h1v1h-1zM19 6h1v1h-1zM5 11h1v1h-1zM19 26h1v1h-1zM19 27h1v1h-1z"/>
<path fill="#782397" d="M20 3h1v1h-1zM13 12h1v1h-1zM15 12h1v1h-1zM12 22h1v1h-1zM12 25h1v1h-1zM18 25h1v1h-1zM20 28h1v1h-1zM11 32h1v1h-1zM14 34h1v1h-1zM4 44h2v1h-2zM5 49h1v1h-1z"/>
<path fill="#bb6293" d="M22 3h1v1h-1z"/>
<path fill="#bb2e5f" d="M23 3h1v1h-1z"/>
<path fill="#bb2d5d" d="M24 3h1v1h-1zM5 58h1v1h-1z"/>
<path fill="#bb2b5b" d="M25 3h1v1h-1zM24 6h1v1h-1zM16 48h1v1h-1zM16 49h1v1h-1zM5 59h1v1h-1zM28 59h1v1h-1zM4 60h1v1h-1zM27 60h1v1h-1z"/>
<path fill="#bb2a5a" d="M27 3h1v1h-1zM26 60h1v1h-1zM28 60h1v1h-1z"/>
<path fill="#bb1b4b" d="M31 3h1v1h-1zM26 10h1v1h-1zM34 11h1v1h-1zM26 12h1v1h-1zM25 46h1v1h-1zM26 47h1v1h-1zM17 49h1v1h-1zM32 49h1v1h-1zM16 53h1v1h-1zM15 54h1v1h-1zM26 54h1v1h-1zM14 55h1v1h-1zM25 55h1v1h-1z"/>
<path fill="#bb1748" d="M32 3h1v1h-1zM31 4h1v1h-1zM26 8h1v1h-1zM27 9h1v1h-1zM33 12h1v1h-1zM29 18h1v1h-1zM33 18h1v1h-1zM32 20h1v1h-1zM19 40h1v1h-1zM23 40h2v1h-2zM19 49h1v1h-1zM23 49h1v1h-1zM21 53h1v1h-1zM19 55h1v1h-1zM23 55h1v1h-1zM15 56h2v1h-2zM19 56h1v1h-1zM22 56h1v1h-1zM17 57h1v1h-1zM20 57h2v1h-2zM17 58h1v1h-1z"/>
<path fill="#bb0a3a" d="M34 3h1v1h-1z"/>
<path fill="#bb0c3c" d="M35 3h1v1h-1zM28 14h1v1h-1zM32 15h1v1h-1zM32 16h1v1h-1zM21 42h1v1h-1zM14 60h2v1h-2z"/>
<path fill="#3838ff" d="M0 4h1v1h-1z"/>
<path fill="#742097" d="M3 4h1v1h-1zM3 5h1v1h-1zM19 8h1v1h-1zM19 9h1v1h-1zM3 15h1v1h-1zM3 16h1v1h-1zM10 21h1v1h-1zM2 39h1v1h-1zM7 47h1v1h-1z"/>
<path fill="#7e2997" d="M11 4h1v1h-1z"/>
<path fill="#762297" d="M20 4h1v1h-1zM21 11h1v1h-1z"/>
<path fill="#9f4a97" d="M21 4h1v1h-1zM22 12h1v1h-1zM22 30h1v1h-1zM18 34h1v1h-1zM14 40h1v1h-1zM14 43h1v1h-1zM11 51h1v1h-1zM0 57h2v1h-2z"/>
<path fill="#bb6595" d="M22 4h1v1h-1zM23 31h1v1h-1zM17 36h1v1h-1z"/>
<path fill="#bb2556" d="M27 4h1v1h-1zM25 22h1v1h-1zM28 55h1v1h-1zM10 56h1v1h-1zM27 56h1v1h-1zM29 56h1v1h-1zM7 58h1v1h-1zM6 59h1v1h-1zM25 59h1v1h-1zM5 60h1v1h-1zM9 61h1v1h-1zM26 61h1v1h-1z"/>
<path fill="#bb2455" d="M28 4h1v1h-1zM24 7h1v1h-1zM25 15h1v1h-1zM31 23h1v1h-1zM25 29h1v1h-1zM25 30h1v1h-1zM25 31h1v1h-1zM25 32h1v1h-1zM20 38h1v1h-1zM17 40h1v1h-1zM27 42h1v1h-1zM27 43h1v1h-1zM26 44h6v1h-6zM27 45h5v1h-5zM28 46h8v1h-8zM17 47h1v1h-1zM30 47h5v1h-5zM16 50h1v1h-1zM12 55h1v1h-1zM27 55h1v1h-1zM30 56h2v1h-2zM30 57h1v1h-1zM24 58h1v1h-1zM30 58h1v1h-1zM7 59h3v1h-3zM24 59h1v1h-1zM8 60h1v1h-1zM25 60h1v1h-1zM4 61h1v1h-1zM8 61h1v1h-1z"/>
<path fill="#bb194a" d="M30 4h1v1h-1zM26 5h1v1h-1zM25 8h1v1h-1zM27 10h1v1h-1zM27 11h1v1h-1zM33 11h1v1h-1zM26 13h1v1h-1zM26 15h1v1h-1zM30 20h1v1h-1zM31 21h1v1h-1zM27 23h2v1h-2zM25 39h1v1h-1zM17 41h1v1h-1zM24 46h1v1h-1zM25 47h1v1h-1zM26 48h1v1h-1zM28 49h1v1h-1zM31 52h1v1h-1zM17 53h1v1h-1zM26 53h1v1h-1zM16 54h1v1h-1zM25 54h1v1h-1zM15 55h1v1h-1zM24 55h1v1h-1zM23 56h1v1h-1zM12 57h1v1h-1zM22 57h1v1h-1zM20 58h1v1h-1zM20 61h1v1h-1zM22 61h1v1h-1z"/>
<path fill="#bb1546" d="M32 4h1v1h-1zM23 42h1v1h-1z"/>
<path fill="#bb0d3e" d="M35 4h1v1h-1zM28 5h1v1h-1zM33 5h1v1h-1zM29 13h2v1h-2zM33 14h1v1h-1zM33 16h1v1h-1zM30 17h2v1h-2zM20 44h1v1h-1zM15 58h1v1h-1zM14 59h1v1h-1zM13 61h1v1h-1z"/>
<path fill="#2828ff" d="M0 5h1v1h-1z"/>
<path fill="#651097" d="M5 5h1v1h-1zM7 5h1v1h-1zM15 11h1v1h-1zM8 12h1v1h-1zM13 15h1v1h-1zM11 16h1v1h-1zM14 16h1v1h-1zM10 18h1v1h-1zM8 19h1v1h-1zM3 20h1v1h-1zM7 20h1v1h-1zM5 46h1v1h-1zM10 46h1v1h-1zM4 47h1v1h-1zM9 47h1v1h-1z"/>
<path fill="#630f97" d="M6 5h1v1h-1zM15 21h1v1h-1zM19 23h1v1h-1zM8 32h1v1h-1zM6 38h1v1h-1zM4 40h1v1h-1zM6 40h1v1h-1z"/>
<path fill="#762197" d="M21 5h1v1h-1zM0 11h1v1h-1zM13 20h1v1h-1zM5 21h1v1h-1zM0 27h1v1h-1zM11 33h1v1h-1zM0 43h1v1h-1zM6 43h1v1h-1z"/>
<path fill="#bb6697" d="M22 5h1v1h-1zM16 37h1v1h-1zM12 51h1v1h-1zM8 54h1v1h-1zM0 61h1v1h-1z"/>
<path fill="#bb3e6f" d="M23 5h1v1h-1zM21 18h1v1h-1zM11 53h1v1h-1z"/>
<path fill="#bb1b4c" d="M25 5h1v1h-1zM30 21h1v1h-1zM29 23h1v1h-1zM26 24h1v1h-1zM23 39h1v1h-1zM28 48h1v1h-1zM12 56h1v1h-1zM24 56h1v1h-1zM11 59h1v1h-1zM24 61h1v1h-1z"/>
<path fill="#bb0f40" d="M27 5h1v1h-1zM34 8h1v1h-1zM29 17h1v1h-1zM33 21h3v1h-3zM22 48h1v1h-1zM22 54h1v1h-1zM14 58h1v1h-1z"/>
<path fill="#bb0f3f" d="M31 5h1v1h-1zM27 6h1v1h-1zM34 6h1v1h-1zM27 7h1v1h-1zM34 7h1v1h-1zM28 8h5v1h-5zM32 13h1v1h-1zM27 14h1v1h-1zM34 15h1v1h-1zM28 16h1v1h-1zM20 40h1v1h-1zM19 42h1v1h-1zM22 43h1v1h-1zM22 44h1v1h-1zM19 45h1v1h-1zM22 45h1v1h-1zM19 46h1v1h-1zM22 46h1v1h-1zM19 47h1v1h-1zM20 48h2v1h-2zM21 54h1v1h-1zM20 55h1v1h-1zM22 55h1v1h-1zM21 56h1v1h-1zM16 58h1v1h-1zM16 59h1v1h-1z"/>
<path fill="#bb1445" d="M35 5h1v1h-1z"/>
<path fill="#6c1897" d="M5 6h1v1h-1zM7 6h1v1h-1zM14 15h1v1h-1zM12 16h1v1h-1zM8 20h1v1h-1zM4 46h1v1h-1zM10 47h1v1h-1z"/>
<path fill="#641097" d="M6 6h1v1h-1zM21 7h1v1h-1zM21 8h1v1h-1zM3 12h1v1h-1zM5 16h1v1h-1zM13 16h1v1h-1zM7 19h1v1h-1zM15 20h1v1h-1zM19 24h1v1h-1zM7 27h1v1h-1zM8 35h1v1h-1zM9 46h1v1h-1zM5 47h1v1h-1z"/>
<path fill="#6e1997" d="M16 6h2v1h-2zM5 7h3v1h-3zM10 7h1v1h-1zM13 7h1v1h-1zM20 7h1v1h-1zM4 8h1v1h-1zM7 8h1v1h-1zM10 8h1v1h-1zM13 8h1v1h-1zM4 9h1v1h-1zM7 9h2v1h-2zM12 9h1v1h-1zM2 10h6v1h-6zM12 10h1v1h-1zM4 11h1v1h-1zM7 11h1v1h-1zM17 11h1v1h-1zM7 12h1v1h-1zM17 12h1v1h-1zM8 13h1v1h-1zM4 14h2v1h-2zM6 15h1v1h-1zM4 16h1v1h-1zM4 17h1v1h-1zM2 18h5v1h-5zM4 19h1v1h-1zM6 19h1v1h-1zM10 19h2v1h-2zM2 20h1v1h-1zM7 21h2v1h-2zM2 23h1v1h-1zM4 23h1v1h-1zM9 23h1v1h-1zM11 23h1v1h-1zM1 24h1v1h-1zM3 24h2v1h-2zM9 24h1v1h-1zM3 25h2v1h-2zM9 25h1v1h-1zM2 26h1v1h-1zM4 26h2v1h-2zM9 26h1v1h-1zM9 27h1v1h-1zM8 29h1v1h-1zM7 30h1v1h-1zM6 31h1v1h-1zM4 32h3v1h-3zM13 32h1v1h-1zM9 33h1v1h-1zM12 33h1v1h-1zM9 34h1v1h-1zM13 34h1v1h-1zM1 35h1v1h-1zM6 35h1v1h-1zM12 35h1v1h-1zM6 36h1v1h-1zM10 36h1v1h-1zM7 37h1v1h-1zM3 39h1v1h-1zM3 40h1v1h-1zM3 41h1v1h-1zM7 41h1v1h-1zM8 45h1v1h-1zM3 46h1v1h-1zM6 46h1v1h-1zM8 46h1v1h-1zM3 47h1v1h-1zM2 50h1v1h-1z"/>
<path fill="#b56097" d="M22 6h1v1h-1zM3 56h1v1h-1zM0 60h1v1h-1z"/>
<path fill="#bb4071" d="M23 6h1v1h-1zM23 21h1v1h-1zM7 56h1v1h-1zM3 60h1v1h-1z"/>
<path fill="#bb1a4a" d="M25 6h1v1h-1zM25 7h1v1h-1zM25 9h1v1h-1zM33 10h1v1h-1zM35 12h1v1h-1zM26 16h1v1h-1zM29 20h1v1h-1zM24 39h1v1h-1zM18 40h1v1h-1zM17 43h1v1h-1zM24 43h1v1h-1zM24 45h1v1h-1zM27 48h1v1h-1zM29 49h1v1h-1zM17 52h1v1h-1zM32 52h1v1h-1zM27 53h1v1h-1zM30 53h1v1h-1zM13 56h1v1h-1zM11 58h1v1h-1zM18 58h2v1h-2zM20 59h1v1h-1zM20 60h1v1h-1zM22 60h1v1h-1zM19 61h1v1h-1z"/>
<path fill="#bb1747" d="M26 6h1v1h-1zM26 7h1v1h-1zM28 9h5v1h-5zM28 12h5v1h-5zM35 14h1v1h-1zM35 16h1v1h-1zM30 18h3v1h-3zM33 20h3v1h-3zM27 25h1v1h-1zM23 43h1v1h-1zM23 44h1v1h-1zM23 45h1v1h-1zM23 46h1v1h-1zM20 49h3v1h-3zM20 54h1v1h-1z"/>
<path fill="#bb1647" d="M35 6h1v1h-1zM35 7h1v1h-1zM34 13h1v1h-1zM35 15h1v1h-1zM27 16h1v1h-1zM28 17h1v1h-1zM34 17h1v1h-1zM29 25h1v1h-1zM18 42h1v1h-1zM22 53h1v1h-1zM23 54h1v1h-1zM14 57h1v1h-1zM13 58h1v1h-1zM17 60h1v1h-1z"/>
<path fill="#4646ff" d="M0 7h1v1h-1z"/>
<path fill="#661197" d="M11 7h2v1h-2zM5 9h2v1h-2zM3 11h1v1h-1zM16 11h1v1h-1zM3 13h1v1h-1zM5 15h1v1h-1zM5 17h1v1h-1zM3 19h1v1h-1zM10 24h2v1h-2zM6 27h1v1h-1zM8 27h1v1h-1zM7 35h1v1h-1zM9 35h1v1h-1z"/>
<path fill="#681397" d="M17 7h1v1h-1z"/>
<path fill="#bb4272" d="M23 7h1v1h-1zM24 27h1v1h-1zM24 33h1v1h-1zM16 43h1v1h-1z"/>
<path fill="#4d4dff" d="M0 8h1v1h-1z"/>
<path fill="#6d1997" d="M5 8h2v1h-2zM11 8h2v1h-2zM9 9h1v1h-1zM11 9h1v1h-1zM21 9h1v1h-1zM8 10h1v1h-1zM2 11h1v1h-1zM2 13h1v1h-1zM4 13h1v1h-1zM11 13h1v1h-1zM9 15h1v1h-1zM11 15h1v1h-1zM8 16h1v1h-1zM6 17h1v1h-1zM8 17h1v1h-1zM12 17h3v1h-3zM7 18h1v1h-1zM11 18h1v1h-1zM2 19h1v1h-1zM9 19h1v1h-1zM10 23h1v1h-1zM2 24h1v1h-1zM0 25h1v1h-1zM2 25h1v1h-1zM10 25h1v1h-1zM6 26h1v1h-1zM8 26h1v1h-1zM2 27h1v1h-1zM5 27h1v1h-1zM8 28h1v1h-1zM6 29h1v1h-1zM6 30h1v1h-1zM5 31h1v1h-1zM7 31h1v1h-1zM4 33h2v1h-2zM7 33h2v1h-2zM6 34h1v1h-1zM7 36h1v1h-1zM9 36h1v1h-1zM2 37h1v1h-1zM6 37h1v1h-1zM7 38h1v1h-1zM7 40h1v1h-1zM4 41h1v1h-1zM6 41h1v1h-1zM9 45h2v1h-2zM1 48h1v1h-1z"/>
<path fill="#bb497a" d="M23 8h1v1h-1zM24 30h1v1h-1zM20 37h1v1h-1zM15 48h1v1h-1z"/>
<path fill="#bb2b5c" d="M24 8h1v1h-1zM24 16h1v1h-1zM24 22h1v1h-1zM16 47h1v1h-1zM13 53h1v1h-1z"/>
<path fill="#bb1041" d="M27 8h1v1h-1zM27 13h1v1h-1zM23 41h1v1h-1zM19 48h1v1h-1zM16 57h1v1h-1zM17 61h1v1h-1z"/>
<path fill="#6d1897" d="M10 9h1v1h-1zM2 12h1v1h-1zM4 12h1v1h-1zM9 13h2v1h-2zM10 15h1v1h-1zM12 15h1v1h-1zM6 16h1v1h-1zM8 18h1v1h-1zM7 26h1v1h-1zM4 27h1v1h-1zM1 28h1v1h-1zM6 28h2v1h-2zM8 30h1v1h-1zM7 32h1v1h-1zM0 34h1v1h-1zM5 34h1v1h-1zM7 34h2v1h-2zM5 35h1v1h-1zM2 36h1v1h-1zM5 36h1v1h-1zM8 36h1v1h-1zM3 38h1v1h-1zM7 39h1v1h-1zM5 41h1v1h-1zM0 48h1v1h-1z"/>
<path fill="#bb1849" d="M33 9h1v1h-1zM35 13h1v1h-1zM27 17h1v1h-1zM35 17h1v1h-1zM28 18h1v1h-1zM34 18h1v1h-1zM31 20h1v1h-1zM21 40h2v1h-2zM25 40h1v1h-1zM25 41h1v1h-1zM17 42h1v1h-1zM18 43h1v1h-1zM24 47h1v1h-1zM24 49h1v1h-1zM22 52h1v1h-1zM24 52h1v1h-1zM20 53h1v1h-1zM19 54h1v1h-1zM24 54h1v1h-1zM17 56h1v1h-1zM13 57h1v1h-1zM19 57h1v1h-1zM12 58h1v1h-1zM12 60h1v1h-1zM18 61h1v1h-1z"/>
<path fill="#bb2252" d="M34 9h1v1h-1zM25 10h1v1h-1zM34 10h1v1h-1zM26 21h1v1h-1zM29 21h1v1h-1zM28 22h1v1h-1zM22 39h1v1h-1zM25 43h1v1h-1zM25 45h1v1h-1zM27 47h1v1h-1zM29 48h1v1h-1zM27 54h1v1h-1zM30 54h1v1h-1zM10 58h1v1h-1z"/>
<path fill="#bb2354" d="M35 9h1v1h-1zM25 11h1v1h-1zM25 14h1v1h-1zM25 17h1v1h-1zM23 38h1v1h-1zM19 39h1v1h-1zM32 44h1v1h-1zM33 45h2v1h-2zM17 46h1v1h-1zM28 47h1v1h-1zM17 48h1v1h-1zM32 48h1v1h-1zM31 55h1v1h-1zM24 57h1v1h-1zM10 59h1v1h-1zM7 61h1v1h-1z"/>
<path fill="#640f97" d="M9 10h1v1h-1zM9 16h1v1h-1zM5 30h1v1h-1zM4 34h1v1h-1zM3 37h1v1h-1zM1 49h1v1h-1z"/>
<path fill="#610d97" d="M10 10h1v1h-1zM9 11h1v1h-1zM10 12h1v1h-1zM1 29h1v1h-1zM4 30h1v1h-1zM2 32h1v1h-1zM1 33h1v1h-1zM3 35h1v1h-1zM6 39h1v1h-1zM5 40h1v1h-1zM1 52h1v1h-1z"/>
<path fill="#630e97" d="M11 10h1v1h-1zM9 12h1v1h-1zM11 12h1v1h-1zM10 16h1v1h-1zM9 17h1v1h-1zM2 28h1v1h-1zM4 28h1v1h-1zM5 29h1v1h-1zM9 30h1v1h-1zM9 32h1v1h-1zM2 34h1v1h-1zM4 37h1v1h-1z"/>
<path fill="#bb5c8c" d="M23 10h1v1h-1zM3 58h1v1h-1z"/>
<path fill="#bb2454" d="M35 10h1v1h-1zM25 16h1v1h-1zM25 20h1v1h-1zM25 24h1v1h-1zM21 38h2v1h-2zM26 43h1v1h-1zM26 45h1v1h-1zM32 45h1v1h-1zM35 45h1v1h-1zM27 46h1v1h-1zM29 47h1v1h-1zM33 48h1v1h-1zM16 51h1v1h-1zM30 55h1v1h-1zM26 56h1v1h-1zM25 57h1v1h-1zM9 58h1v1h-1zM6 60h2v1h-2zM11 61h1v1h-1z"/>
<path fill="#6c1797" d="M8 11h1v1h-1zM11 17h1v1h-1zM9 18h1v1h-1zM3 27h1v1h-1zM5 28h1v1h-1zM4 31h1v1h-1zM3 32h1v1h-1zM1 34h1v1h-1zM2 35h1v1h-1zM5 37h1v1h-1z"/>
<path fill="#600b97" d="M10 11h1v1h-1z"/>
<path fill="#5d0997" d="M11 11h1v1h-1z"/>
<path fill="#752197" d="M13 11h1v1h-1zM7 14h1v1h-1zM17 31h1v1h-1zM3 43h1v1h-1z"/>
<path fill="#bb6393" d="M23 11h1v1h-1zM20 19h1v1h-1z"/>
<path fill="#bb4373" d="M24 11h1v1h-1zM24 29h1v1h-1z"/>
<path fill="#bb2051" d="M26 11h1v1h-1zM26 23h1v1h-1zM17 44h1v1h-1zM32 53h1v1h-1zM19 59h1v1h-1z"/>
<path fill="#bb2152" d="M35 11h1v1h-1zM27 21h1v1h-1zM25 25h1v1h-1zM24 38h1v1h-1zM23 57h1v1h-1zM23 60h1v1h-1z"/>
<path fill="#bb6394" d="M23 12h1v1h-1zM23 29h1v1h-1zM15 44h1v1h-1zM11 52h1v1h-1z"/>
<path fill="#bb4878" d="M24 12h1v1h-1z"/>
<path fill="#802b97" d="M21 13h1v1h-1zM17 17h1v1h-1zM19 20h1v1h-1zM16 24h2v1h-2zM4 52h1v1h-1z"/>
<path fill="#a65297" d="M22 13h1v1h-1zM21 33h1v1h-1zM19 34h1v1h-1zM5 54h1v1h-1z"/>
<path fill="#bb4273" d="M24 13h1v1h-1zM24 26h1v1h-1zM22 35h1v1h-1zM21 37h1v1h-1z"/>
<path fill="#bb2253" d="M25 13h1v1h-1zM28 21h1v1h-1zM31 22h1v1h-1zM21 39h1v1h-1zM17 45h1v1h-1zM26 46h1v1h-1zM16 52h1v1h-1zM32 54h1v1h-1zM13 55h1v1h-1zM26 55h1v1h-1zM11 56h1v1h-1zM25 56h1v1h-1zM11 60h1v1h-1z"/>
<path fill="#bb1040" d="M33 13h1v1h-1zM34 14h1v1h-1zM27 15h1v1h-1zM34 16h1v1h-1zM33 17h1v1h-1zM19 44h1v1h-1zM20 56h1v1h-1zM15 57h1v1h-1zM13 59h1v1h-1z"/>
<path fill="#903b97" d="M20 14h1v1h-1z"/>
<path fill="#b35f97" d="M21 14h1v1h-1zM22 22h1v1h-1zM22 26h1v1h-1zM20 34h1v1h-1zM15 37h1v1h-1zM14 48h1v1h-1zM9 53h1v1h-1z"/>
<path fill="#bb5989" d="M22 14h1v1h-1z"/>
<path fill="#bb4b7b" d="M23 14h1v1h-1zM24 31h1v1h-1zM20 36h1v1h-1z"/>
<path fill="#bb3666" d="M24 14h1v1h-1zM22 17h1v1h-1zM22 19h1v1h-1zM25 36h1v1h-1zM15 50h1v1h-1zM12 53h1v1h-1z"/>
<path fill="#bb0637" d="M29 14h1v1h-1zM31 16h1v1h-1z"/>
<path fill="#bb0536" d="M30 14h1v1h-1zM29 15h1v1h-1zM31 15h1v1h-1zM30 16h1v1h-1z"/>
<path fill="#bb0b3b" d="M31 14h1v1h-1z"/>
<path fill="#b46097" d="M20 15h1v1h-1zM18 35h1v1h-1zM2 57h1v1h-1z"/>
<path fill="#bb0434" d="M30 15h1v1h-1z"/>
<path fill="#aa5697" d="M19 16h1v1h-1z"/>
<path fill="#bb6696" d="M20 16h1v1h-1zM5 55h1v1h-1z"/>
<path fill="#bb0b3c" d="M29 16h1v1h-1z"/>
<path fill="#620d97" d="M10 17h1v1h-1zM3 28h1v1h-1zM0 29h1v1h-1zM8 31h1v1h-1zM0 33h1v1h-1zM2 33h1v1h-1zM3 34h1v1h-1zM4 35h1v1h-1zM3 36h2v1h-2zM5 38h1v1h-1zM4 39h1v1h-1zM0 49h1v1h-1zM1 50h1v1h-1zM1 51h1v1h-1zM1 53h1v1h-1z"/>
<path fill="#8f3b97" d="M18 17h1v1h-1zM21 22h1v1h-1zM13 30h1v1h-1z"/>
<path fill="#bb5384" d="M20 17h1v1h-1zM15 42h1v1h-1z"/>
<path fill="#bb3969" d="M21 17h1v1h-1z"/>
<path fill="#bb2757" d="M24 17h1v1h-1zM27 57h1v1h-1zM27 61h1v1h-1z"/>
<path fill="#bb1a4b" d="M26 17h1v1h-1zM26 18h1v1h-1zM26 19h1v1h-1zM27 20h2v1h-2zM26 25h1v1h-1zM25 26h1v1h-1zM25 27h1v1h-1zM25 38h1v1h-1zM25 42h1v1h-1zM24 44h1v1h-1zM30 49h2v1h-2zM17 50h1v1h-1zM17 51h1v1h-1zM28 53h2v1h-2zM31 53h1v1h-1zM11 57h1v1h-1zM22 58h1v1h-1zM22 59h1v1h-1zM18 60h1v1h-1zM23 61h1v1h-1z"/>
<path fill="#9b4797" d="M19 18h1v1h-1z"/>
<path fill="#bb3060" d="M22 18h1v1h-1z"/>
<path fill="#741f97" d="M14 19h1v1h-1zM0 23h1v1h-1zM10 34h1v1h-1z"/>
<path fill="#923d97" d="M19 19h1v1h-1zM19 33h1v1h-1zM14 44h1v1h-1zM14 45h1v1h-1zM7 53h1v1h-1z"/>
<path fill="#bb4070" d="M21 19h1v1h-1zM6 56h1v1h-1z"/>
<path fill="#bb2656" d="M24 19h1v1h-1zM18 39h1v1h-1zM15 52h1v1h-1zM14 53h1v1h-1zM13 54h1v1h-1zM11 55h1v1h-1z"/>
<path fill="#7a2697" d="M17 20h1v1h-1zM18 21h1v1h-1zM19 22h1v1h-1zM13 25h1v1h-1zM15 25h1v1h-1zM17 26h1v1h-1zM20 26h1v1h-1zM10 29h1v1h-1zM12 41h1v1h-1z"/>
<path fill="#bb6494" d="M21 20h1v1h-1z"/>
<path fill="#bb3565" d="M23 20h1v1h-1zM16 40h1v1h-1zM9 55h1v1h-1z"/>
<path fill="#bb1c4d" d="M26 20h1v1h-1zM27 22h1v1h-1zM5 61h1v1h-1zM25 61h1v1h-1z"/>
<path fill="#752097" d="M3 21h1v1h-1zM1 27h1v1h-1z"/>
<path fill="#bb6596" d="M22 21h1v1h-1zM22 34h1v1h-1zM15 45h1v1h-1zM6 55h1v1h-1zM3 57h1v1h-1zM2 58h1v1h-1z"/>
<path fill="#bb1142" d="M32 21h1v1h-1zM28 25h1v1h-1zM18 41h1v1h-1z"/>
<path fill="#bb1d4e" d="M26 22h1v1h-1zM31 54h1v1h-1zM10 57h1v1h-1z"/>
<path fill="#bb6797" d="M32 22h4v1h-4zM32 23h4v1h-4zM30 24h6v1h-6zM30 25h6v1h-6zM26 26h10v1h-10zM26 27h10v1h-10zM26 28h10v1h-10zM26 29h10v1h-10zM26 30h10v1h-10zM26 31h10v1h-10zM26 32h10v1h-10zM26 33h10v1h-10zM26 34h10v1h-10zM26 35h10v1h-10zM26 36h10v1h-10zM26 37h10v1h-10zM26 38h10v1h-10zM26 39h10v1h-10zM26 40h10v1h-10zM26 41h10v1h-10zM28 42h8v1h-8zM28 43h8v1h-8zM1 60h1v1h-1z"/>
<path fill="#681497" d="M3 23h1v1h-1zM1 25h1v1h-1zM3 26h1v1h-1zM6 33h1v1h-1z"/>
<path fill="#7f2a97" d="M16 23h1v1h-1zM13 26h1v1h-1zM21 28h1v1h-1z"/>
<path fill="#8a3697" d="M21 23h1v1h-1zM13 31h1v1h-1zM2 55h1v1h-1z"/>
<path fill="#a85397" d="M22 23h1v1h-1zM22 24h1v1h-1zM6 54h1v1h-1zM4 55h1v1h-1z"/>
<path fill="#bb3465" d="M24 23h1v1h-1zM17 38h1v1h-1z"/>
<path fill="#bb5282" d="M23 24h1v1h-1zM19 36h1v1h-1zM2 60h1v1h-1z"/>
<path fill="#bb3767" d="M24 24h1v1h-1zM16 42h1v1h-1z"/>
<path fill="#bb1243" d="M28 24h1v1h-1zM24 41h1v1h-1z"/>
<path fill="#7e2a97" d="M16 25h1v1h-1zM16 30h1v1h-1z"/>
<path fill="#8e3997" d="M21 25h1v1h-1z"/>
<path fill="#bb5182" d="M23 25h1v1h-1zM13 51h1v1h-1z"/>
<path fill="#bb4172" d="M24 25h1v1h-1zM24 28h1v1h-1zM22 36h1v1h-1z"/>
<path fill="#731f97" d="M15 26h1v1h-1z"/>
<path fill="#883397" d="M21 26h1v1h-1zM15 35h1v1h-1zM10 51h1v1h-1z"/>
<path fill="#bb5283" d="M23 26h1v1h-1zM14 50h1v1h-1zM12 52h1v1h-1zM9 54h1v1h-1z"/>
<path fill="#802c97" d="M12 27h1v1h-1zM11 28h1v1h-1zM12 42h1v1h-1zM12 45h1v1h-1zM10 50h1v1h-1z"/>
<path fill="#731e97" d="M15 27h1v1h-1zM18 29h1v1h-1z"/>
<path fill="#9e4997" d="M13 28h1v1h-1zM17 35h1v1h-1z"/>
<path fill="#873297" d="M14 28h1v1h-1z"/>
<path fill="#bb5c8d" d="M23 28h1v1h-1z"/>
<path fill="#610c97" d="M2 29h1v1h-1zM4 29h1v1h-1zM3 30h1v1h-1zM2 31h1v1h-1zM0 53h1v1h-1z"/>
<path fill="#600c97" d="M3 29h1v1h-1zM0 30h3v1h-3zM0 31h2v1h-2zM0 32h2v1h-2zM0 50h1v1h-1zM0 51h1v1h-1zM0 52h1v1h-1z"/>
<path fill="#883497" d="M12 29h1v1h-1zM11 50h1v1h-1z"/>
<path fill="#a04c97" d="M22 29h1v1h-1zM22 31h1v1h-1zM21 32h1v1h-1z"/>
<path fill="#822e97" d="M11 30h1v1h-1zM18 32h1v1h-1zM13 43h1v1h-1zM5 52h1v1h-1zM0 54h1v1h-1z"/>
<path fill="#bb6495" d="M23 30h1v1h-1zM23 32h1v1h-1zM19 35h1v1h-1zM15 39h1v1h-1zM4 56h1v1h-1zM2 59h1v1h-1z"/>
<path fill="#620e97" d="M3 31h1v1h-1z"/>
<path fill="#5d0897" d="M9 31h1v1h-1z"/>
<path fill="#711d97" d="M15 32h1v1h-1zM13 36h1v1h-1zM6 48h1v1h-1zM8 48h1v1h-1zM8 50h1v1h-1zM3 51h1v1h-1z"/>
<path fill="#a65197" d="M22 32h1v1h-1zM1 58h1v1h-1z"/>
<path fill="#bb4a7a" d="M24 32h1v1h-1zM16 44h1v1h-1z"/>
<path fill="#6b1697" d="M3 33h1v1h-1zM4 38h1v1h-1z"/>
<path fill="#671297" d="M13 33h1v1h-1zM12 34h1v1h-1zM7 51h1v1h-1z"/>
<path fill="#9e4a97" d="M20 33h1v1h-1zM13 49h1v1h-1zM12 50h1v1h-1z"/>
<path fill="#b45f97" d="M22 33h1v1h-1zM13 50h1v1h-1zM7 54h1v1h-1zM1 59h1v1h-1z"/>
<path fill="#bb5b8c" d="M23 33h1v1h-1zM17 37h1v1h-1z"/>
<path fill="#ba6597" d="M21 34h1v1h-1z"/>
<path fill="#bb3768" d="M24 34h1v1h-1zM24 35h1v1h-1z"/>
<path fill="#bb2758" d="M25 34h1v1h-1zM6 58h1v1h-1zM10 61h1v1h-1z"/>
<path fill="#bb4879" d="M21 35h1v1h-1z"/>
<path fill="#bb2f60" d="M25 35h1v1h-1z"/>
<path fill="#a55197" d="M16 36h1v1h-1zM14 41h1v1h-1zM14 42h1v1h-1z"/>
<path fill="#bb5a8a" d="M18 36h1v1h-1z"/>
<path fill="#bb4374" d="M21 36h1v1h-1z"/>
<path fill="#bb3869" d="M24 36h1v1h-1zM2 61h1v1h-1z"/>
<path fill="#863197" d="M14 37h1v1h-1z"/>
<path fill="#bb5484" d="M18 37h1v1h-1zM15 41h1v1h-1zM3 59h1v1h-1z"/>
<path fill="#bb4d7e" d="M19 37h1v1h-1z"/>
<path fill="#bb4171" d="M22 37h1v1h-1zM15 49h1v1h-1zM14 51h1v1h-1zM13 52h1v1h-1z"/>
<path fill="#b66197" d="M15 38h1v1h-1z"/>
<path fill="#bb4979" d="M16 38h1v1h-1z"/>
<path fill="#bb295a" d="M19 38h1v1h-1zM28 57h1v1h-1z"/>
<path fill="#5e0997" d="M5 39h1v1h-1z"/>
<path fill="#bb1c4c" d="M20 39h1v1h-1z"/>
<path fill="#bb2e5e" d="M16 41h1v1h-1z"/>
<path fill="#bb0838" d="M20 41h1v1h-1z"/>
<path fill="#bb0738" d="M21 41h1v1h-1z"/>
<path fill="#bb1545" d="M19 43h1v1h-1z"/>
<path fill="#bb1d4d" d="M33 44h2v1h-2zM6 61h1v1h-1z"/>
<path fill="#bb5080" d="M15 46h1v1h-1z"/>
<path fill="#bb4c7c" d="M15 47h1v1h-1zM1 61h1v1h-1z"/>
<path fill="#bb1646" d="M23 47h1v1h-1z"/>
<path fill="#ff5959" d="M35 47h1v1h-1zM31 61h1v1h-1zM33 61h3v1h-3z"/>
<path fill="#bb1242" d="M23 48h1v1h-1z"/>
<path fill="#ff5c5c" d="M34 48h1v1h-1zM30 60h1v1h-1z"/>
<path fill="#ff5b5b" d="M35 48h1v1h-1zM32 55h1v1h-1zM34 57h1v1h-1zM33 58h1v1h-1zM32 61h1v1h-1z"/>
<path fill="#bb5889" d="M14 49h1v1h-1z"/>
<path fill="#ff5e5e" d="M33 49h1v1h-1zM32 58h1v1h-1zM34 58h1v1h-1z"/>
<path fill="#ff6464" d="M34 49h1v1h-1z"/>
<path fill="#ff6060" d="M35 49h1v1h-1zM35 55h1v1h-1zM35 58h1v1h-1zM32 60h1v1h-1z"/>
<path fill="#ff6262" d="M33 50h1v1h-1zM33 52h1v1h-1zM33 53h1v1h-1zM35 54h1v1h-1z"/>
<path fill="#ff6a6a" d="M34 50h1v1h-1zM34 53h1v1h-1zM31 59h1v1h-1z"/>
<path fill="#ff6b6b" d="M35 50h1v1h-1zM34 52h1v1h-1zM35 53h1v1h-1zM31 58h1v1h-1zM30 59h1v1h-1z"/>
<path fill="#ff6868" d="M33 51h1v1h-1zM34 54h1v1h-1zM31 57h1v1h-1z"/>
<path fill="#ff6c6c" d="M34 51h1v1h-1z"/>
<path fill="#ff6e6e" d="M35 51h1v1h-1zM35 52h1v1h-1z"/>
<path fill="#843097" d="M7 52h1v1h-1z"/>
<path fill="#bb5b8b" d="M10 53h1v1h-1z"/>
<path fill="#bb1344" d="M23 53h1v1h-1z"/>
<path fill="#7d2997" d="M1 54h1v1h-1z"/>
<path fill="#bb3f6f" d="M10 54h1v1h-1zM4 58h1v1h-1z"/>
<path fill="#ff6767" d="M33 54h1v1h-1zM32 59h1v1h-1z"/>
<path fill="#bb093a" d="M21 55h1v1h-1z"/>
<path fill="#ff5f5f" d="M33 55h1v1h-1z"/>
<path fill="#ff6565" d="M34 55h1v1h-1zM35 57h1v1h-1zM33 59h3v1h-3zM31 60h1v1h-1z"/>
<path fill="#944097" d="M1 56h1v1h-1z"/>
<path fill="#bb5d8e" d="M5 56h1v1h-1z"/>
<path fill="#bb2858" d="M28 56h1v1h-1z"/>
<path fill="#ff5757" d="M32 56h2v1h-2z"/>
<path fill="#ff5d5d" d="M34 56h1v1h-1zM33 60h3v1h-3z"/>
<path fill="#ff6666" d="M35 56h1v1h-1z"/>
<path fill="#bb5586" d="M4 57h1v1h-1z"/>
<path fill="#ff4848" d="M32 57h1v1h-1z"/>
<path fill="#ff4a4a" d="M33 57h1v1h-1z"/>
<path fill="#a14d97" d="M0 58h1v1h-1z"/>
<path fill="#a85497" d="M0 59h1v1h-1z"/>
<path fill="#bb2050" d="M18 59h1v1h-1zM19 60h1v1h-1z"/>
<path fill="#bb0737" d="M14 61h2v1h-2z"/>
<path fill="#ff3f3f" d="M29 61h1v1h-1z"/>
<path fill="#ff4444" d="M30 61h1v1h-1z"/>
</g>
<g fill="#000" fill-opacity="0.15" shape-rendering="crispEdges"><rect x="15.0" y="53.0" width="706.0" height="1"/><rect x="15.0" y="53.0" width="1" height="1215.0"/><rect x="15.0" y="1267.0" width="706.0" height="1"/><rect x="720.0" y="53.0" width="1" height="431.1"/><rect x="720.0" y="915.3" width="1" height="352.7"/><rect x="873.0" y="53.0" width="706.0" height="1"/><rect x="873.0" y="53.0" width="1" height="1215.0"/><rect x="873.0" y="1267.0" width="706.0" height="1"/><rect x="1578.0" y="53.0" width="1" height="1215.0"/><rect x="1730.0" y="53.0" width="706.0" height="1"/><rect x="1730.0" y="53.0" width="1" height="1215.0"/><rect x="1730.0" y="1267.0" width="706.0" height="1"/><rect x="2435.0" y="53.0" width="1" height="1215.0"/></g>
<g fill="#000"><rect x="544.0" y="61.8" width="2.9" height="2.9" rx="0.6"/><rect x="539.9" y="81.0" width="2.9" height="2.9" rx="0.6"/><rect x="532.9" y="85.0" width="2.9" height="2.9" rx="0.6"/><rect x="513.9" y="88.9" width="2.9" height="2.9" rx="0.6"/><rect x="493.6" y="90.8" width="2.9" height="2.9" rx="0.6"/><rect x="475.1" y="92.7" width="2.9" height="2.9" rx="0.6"/><rect x="461.9" y="100.7" width="2.9" height="2.9" rx="0.6"/><rect x="455.1" y="109.7" width="2.9" height="2.9" rx="0.6"/><rect x="449.6" y="120.5" width="2.9" height="2.9" rx="0.6"/><rect x="451.9" y="139.9" width="2.9" height="2.9" rx="0.6"/><rect x="207.8" y="1100.0" width="2.9" height="2.9" rx="0.6"/><rect x="199.8" y="1105.8" width="2.9" height="2.9" rx="0.6"/><rect x="180.6" y="1111.9" width="2.9" height="2.9" rx="0.6"/><rect x="168.1" y="1119.9" width="2.9" height="2.9" rx="0.6"/><rect x="160.7" y="1124.7" width="2.9" height="2.9" rx="0.6"/><rect x="140.8" y="1130.8" width="2.9" height="2.9" rx="0.6"/><rect x="126.5" y="1139.8" width="2.9" height="2.9" rx="0.6"/><rect x="121.8" y="1142.7" width="2.9" height="2.9" rx="0.6"/><rect x="101.8" y="1153.0" width="2.9" height="2.9" rx="0.6"/><rect x="92.8" y="1158.7" width="2.9" height="2.9" rx="0.6"/><rect x="82.5" y="1170.5" width="2.9" height="2.9" rx="0.6"/><rect x="74.5" y="1178.7" width="2.9" height="2.9" rx="0.6"/><rect x="63.0" y="1198.2" width="2.9" height="2.9" rx="0.6"/><rect x="54.0" y="1217.8" width="2.9" height="2.9" rx="0.6"/><rect x="42.8" y="1227.8" width="2.9" height="2.9" rx="0.6"/><rect x="26.4" y="1237.7" width="2.9" height="2.9" rx="0.6"/><rect x="23.6" y="1239.7" width="2.9" height="2.9" rx="0.6"/><rect x="1402.0" y="61.8" width="2.9" height="2.9" rx="0.6"/><rect x="1397.8" y="81.0" width="2.9" height="2.9" rx="0.6"/><rect x="1390.8" y="85.0" width="2.9" height="2.9" rx="0.6"/><rect x="1371.8" y="88.9" width="2.9" height="2.9" rx="0.6"/><rect x="1351.7" y="90.8" width="2.9" height="2.9" rx="0.6"/><rect x="1333.0" y="92.7" width="2.9" height="2.9" rx="0.6"/><rect x="1319.8" y="100.7" width="2.9" height="2.9" rx="0.6"/><rect x="1313.2" y="109.7" width="2.9" height="2.9" rx="0.6"/><rect x="1307.7" y="120.5" width="2.9" height="2.9" rx="0.6"/><rect x="1310.0" y="139.9" width="2.9" height="2.9" rx="0.6"/><rect x="1065.8" y="1100.0" width="2.9" height="2.9" rx="0.6"/><rect x="1057.8" y="1105.8" width="2.9" height="2.9" rx="0.6"/><rect x="1038.5" y="1111.9" width="2.9" height="2.9" rx="0.6"/><rect x="1026.0" y="1119.9" width="2.9" height="2.9" rx="0.6"/><rect x="1018.6" y="1124.7" width="2.9" height="2.9" rx="0.6"/><rect x="998.8" y="1130.8" width="2.9" height="2.9" rx="0.6"/><rect x="984.5" y="1139.8" width="2.9" height="2.9" rx="0.6"/><rect x="979.8" y="1142.7" width="2.9" height="2.9" rx="0.6"/><rect x="959.9" y="1153.0" width="2.9" height="2.9" rx="0.6"/><rect x="950.9" y="1158.7" width="2.9" height="2.9" rx="0.6"/><rect x="940.5" y="1170.5" width="2.9" height="2.9" rx="0.6"/><rect x="932.5" y="1178.7" width="2.9" height="2.9" rx="0.6"/><rect x="921.0" y="1198.2" width="2.9" height="2.9" rx="0.6"/><rect x="912.0" y="1217.8" width="2.9" height="2.9" rx="0.6"/><rect x="900.8" y="1227.8" width="2.9" height="2.9" rx="0.6"/><rect x="884.4" y="1237.7" width="2.9" height="2.9" rx="0.6"/><rect x="881.5" y="1239.7" width="2.9" height="2.9" rx="0.6"/><rect x="2259.1" y="61.8" width="2.9" height="2.9" rx="0.6"/><rect x="2254.8" y="81.0" width="2.9" height="2.9" rx="0.6"/><rect x="2247.8" y="85.0" width="2.9" height="2.9" rx="0.6"/><rect x="2228.8" y="88.9" width="2.9" height="2.9" rx="0.6"/><rect x="2208.7" y="90.8" width="2.9" height="2.9" rx="0.6"/><rect x="2190.1" y="92.7" width="2.9" height="2.9" rx="0.6"/><rect x="2176.8" y="100.7" width="2.9" height="2.9" rx="0.6"/><rect x="2170.2" y="109.7" width="2.9" height="2.9" rx="0.6"/><rect x="2164.7" y="120.5" width="2.9" height="2.9" rx="0.6"/><rect x="2166.9" y="139.9" width="2.9" height="2.9" rx="0.6"/><rect x="1922.8" y="1100.0" width="2.9" height="2.9" rx="0.6"/><rect x="1914.8" y="1105.8" width="2.9" height="2.9" rx="0.6"/><rect x="1895.5" y="1111.9" width="2.9" height="2.9" rx="0.6"/><rect x="1883.0" y="1119.9" width="2.9" height="2.9" rx="0.6"/><rect x="1875.7" y="1124.7" width="2.9" height="2.9" rx="0.6"/><rect x="1855.8" y="1130.8" width="2.9" height="2.9" rx="0.6"/><rect x="1841.5" y="1139.8" width="2.9" height="2.9" rx="0.6"/><rect x="1836.8" y="1142.7" width="2.9" height="2.9" rx="0.6"/><rect x="1816.8" y="1153.0" width="2.9" height="2.9" rx="0.6"/><rect x="1807.8" y="1158.7" width="2.9" height="2.9" rx="0.6"/><rect x="1797.5" y="1170.5" width="2.9" height="2.9" rx="0.6"/><rect x="1789.5" y="1178.7" width="2.9" height="2.9" rx="0.6"/><rect x="1778.0" y="1198.2" width="2.9" height="2.9" rx="0.6"/><rect x="1769.0" y="1217.8" width="2.9" height="2.9" rx="0.6"/><rect x="1757.8" y="1227.8" width="2.9" height="2.9" rx="0.6"/><rect x="1741.3" y="1237.7" width="2.9" height="2.9" rx="0.6"/><rect x="1738.5" y="1239.7" width="2.9" height="2.9" rx="0.6"/></g>
<text x="293.0" y="40.8" font-size="36.3" font-weight="bold" textLength="149.6" lengthAdjust="spacingAndGlyphs">sar0279</text>
<text x="1030.2" y="40.8" font-size="36.3" font-weight="bold" textLength="390.4" lengthAdjust="spacingAndGlyphs">2000-10-17-09-56-17</text>
<text x="2061.6" y="40.8" font-size="36.3" font-weight="bold" textLength="41.5" lengthAdjust="spacingAndGlyphs">L7</text>
<rect x="1221" y="670.1" width="348.1" height="159.3" rx="3.5" fill="#fff" fill-opacity="0.8" stroke="#ccc" stroke-opacity="0.8" stroke-width="1.4"/>
<rect x="1228.8" y="679.9" width="44.1" height="16" fill="#fd8d3c"/>
<rect x="1228.8" y="710.2" width="44.1" height="16.6" fill="#ccffff"/>
<rect x="1228.8" y="741" width="44.1" height="16" fill="#005bff"/>
<rect x="1228.8" y="778" width="44.7" height="3.1" fill="#000"/>
<rect x="1229.5" y="801.7" width="42.7" height="15.3" fill="#9b2a2c" stroke="#8c1a20" stroke-width="1.4"/>
<text x="1287.6" y="695.5" font-size="21.4" textLength="49.8" lengthAdjust="spacingAndGlyphs">sand</text>
<text x="1289.8" y="725.5" font-size="21.4" textLength="115.0" lengthAdjust="spacingAndGlyphs">whitewater</text>
<text x="1289.8" y="756.3" font-size="21.4" textLength="57.5" lengthAdjust="spacingAndGlyphs">water</text>
<text x="1288.0" y="785.9" font-size="21.4" textLength="93.5" lengthAdjust="spacingAndGlyphs">shoreline</text>
<text x="1288.0" y="815.9" font-size="21.4" textLength="269.6" lengthAdjust="spacingAndGlyphs">reference shoreline buffer</text>
</svg>
</body></html>
